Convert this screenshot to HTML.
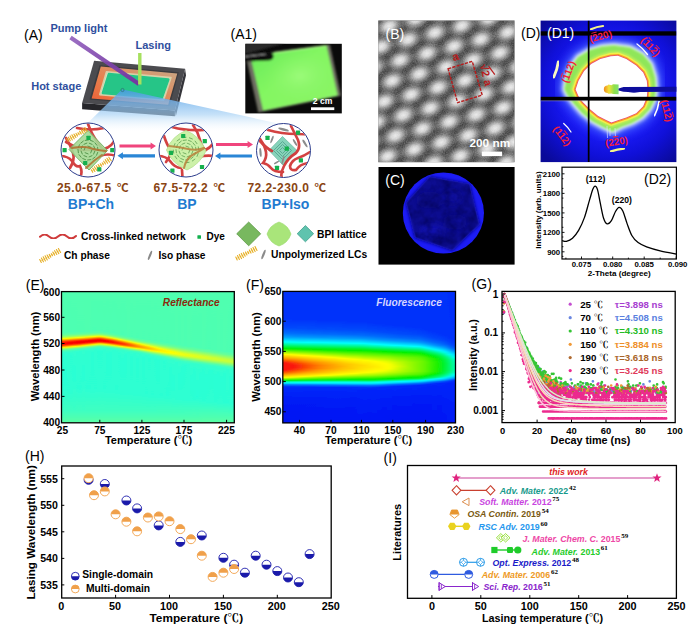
<!DOCTYPE html>
<html lang="en"><head><meta charset="utf-8"><title>Figure</title>
<style>
html,body{margin:0;padding:0;background:#fff;}
body{width:700px;height:639px;overflow:hidden;}
svg{display:block;}
svg text{font-family:"Liberation Sans", "Noto Sans CJK SC", sans-serif;white-space:pre;}
</style></head><body>
<svg width="700" height="639" viewBox="0 0 700 639">
<rect width="700" height="639" fill="#fff"/>
<defs>
<linearGradient id="cone" gradientUnits="userSpaceOnUse" x1="0" y1="90" x2="0" y2="131">
<stop offset="0" stop-color="#4a96e6" stop-opacity=".82"/><stop offset=".3" stop-color="#7cb8ee" stop-opacity=".8"/><stop offset=".6" stop-color="#a8d2f5" stop-opacity=".66"/><stop offset=".85" stop-color="#d8ecfb" stop-opacity=".3"/><stop offset="1" stop-color="#e8f4fd" stop-opacity="0"/></linearGradient>
<linearGradient id="orng" x1="0" y1="1" x2="1" y2="0"><stop offset="0" stop-color="#ee5f34"/><stop offset=".4" stop-color="#e8804e"/><stop offset=".75" stop-color="#d49a72"/><stop offset="1" stop-color="#c4a888"/></linearGradient>
<linearGradient id="pump" gradientUnits="userSpaceOnUse" x1="70" y1="37" x2="139" y2="84"><stop offset="0" stop-color="#8a55b8" stop-opacity=".85"/><stop offset="1" stop-color="#7436a0"/></linearGradient>
<clipPath id="c1"><circle cx="88" cy="150" r="26.6"/></clipPath>
<clipPath id="c2"><circle cx="186" cy="150" r="26.6"/></clipPath>
<clipPath id="c3"><circle cx="283.5" cy="150.5" r="26.6"/></clipPath>
<filter id="b05"><feGaussianBlur stdDeviation=".5"/></filter>
<filter id="b03"><feGaussianBlur stdDeviation=".35"/></filter>
</defs>
<g filter="url(#b05)">
<polygon points="82.1,103.1 174.9,110.6 174.9,116.3 82.1,109.3" fill="#26262a"/>
<polygon points="185.1,68.8 186,75.5 175.8,116.3 174.9,110.6" fill="#36363a"/>
<polygon points="94.1,60.8 185.1,68.8 174.9,110.6 82.1,103.1" fill="#4b4b50"/>
<polygon points="99.5,65.2 178.8,72.3 169.5,106 89.5,99.6" fill="#3a3a3e"/>
<polygon points="100.8,66.6 177.3,73.4 168.2,104.8 91.6,98.6" fill="url(#orng)"/>
<polygon points="106.5,71.8 171,77.6 163.6,100 99.8,94.6" fill="#cfe6c0" stroke="#d8cfa8" stroke-width="1.6" stroke-linejoin="round"/>
<polygon points="108.8,74 168.4,79.4 161.8,98 102.8,93" fill="#25c587" stroke="#25c587" stroke-width="2.4" stroke-linejoin="round"/>
</g>
<line x1="70.5" y1="37.5" x2="139" y2="84" stroke="url(#pump)" stroke-width="4.2" stroke-linecap="butt" filter="url(#b05)"/>
<rect x="138.1" y="53" width="3.4" height="31.5" fill="#a6e05e" filter="url(#b03)"/>
<polygon points="122,89.6 124,89.8 345,138 60,150" fill="url(#cone)"/>
<circle cx="122.5" cy="90" r="1.6" fill="none" stroke="#2a6a6a" stroke-width=".6"/>
<text x="24" y="39.8" font-size="14" font-weight="normal" fill="#000" text-anchor="start">(A)</text>
<text x="50.5" y="32.2" font-size="11" font-weight="bold" fill="#2f4f9e" text-anchor="start">Pump light</text>
<text x="135.5" y="49.3" font-size="11" font-weight="bold" fill="#2f4f9e" text-anchor="start">Lasing</text>
<text x="31.2" y="90" font-size="11" font-weight="bold" fill="#2f4f9e" text-anchor="start">Hot stage</text>
<circle cx="88" cy="150" r="27" fill="#fff"/>
<g clip-path="url(#c1)" filter="url(#b03)">
<g fill="none" stroke="#cf2f2f" stroke-width="2.7" stroke-linecap="round" opacity=".9">
<path d="M77,128 Q90,131 104,128"/>
<path d="M88,124 Q92,135 98,143 T104,152"/>
<path d="M66,138 Q71,146 73,153 T70,168"/>
<path d="M60,156 Q68,156 72,161 Q76,168 80,166 Q83,172 80,178"/>
<path d="M116,138 Q112,147 104,149"/>
<path d="M100,156 Q108,153 116,156"/>
<path d="M66,142 Q74,146 80,150 L100,150"/>
</g>
<polygon points="88,130.5 107.5,150.5 89,170 69,149.5" fill="#a5d993" fill-opacity=".9" stroke="#79b46a" stroke-width="1"/>
<path d="M91.9,149.9L90.7,152.9M88.1,153.9L85.1,152.7M84.1,150.1L85.3,147.1M87.9,146.1L90.9,147.3M94.8,151.2L93.6,154.1M92.0,155.7L89.1,156.9M86.8,156.8L83.9,155.6M82.3,154.0L81.1,151.1M81.2,148.8L82.4,145.9M84.0,144.3L86.9,143.1M89.2,143.2L92.1,144.4M93.7,146.0L94.9,148.9M97.7,152.4L96.5,155.3M95.2,156.9L92.7,158.9M90.8,159.6L87.6,160.0M85.6,159.7L82.7,158.5M81.1,157.2L79.1,154.7M78.4,152.8L78.0,149.6M78.3,147.6L79.5,144.7M80.8,143.1L83.3,141.1M85.2,140.4L88.4,140.0M90.4,140.3L93.3,141.5M94.9,142.8L96.9,145.3M97.6,147.2L98.0,150.4" stroke="#4f8f45" stroke-width=".9" stroke-linecap="round" fill="none"/>
<g fill="none" stroke="#b0702f" stroke-width="2" stroke-linecap="round" opacity=".85">
<path d="M72,148 Q84,146 90,148 T106,151"/>
<path d="M86,168 Q94,160 102,155"/>
</g>
<path d="M66.7,138.7L68.3,141.3M68.4,137.2L70.3,140.7M70.1,135.9L72.3,139.9M71.9,134.9L74.2,138.8M73.9,134.1L75.9,137.5M76.0,133.4L77.5,136.1M78.0,132.7L79.2,134.7M79.6,131.2L81.3,134.1M81.3,129.8L83.3,133.4M83.0,128.6L85.3,132.5M84.9,127.6L87.1,131.4" stroke="#e6ae22" stroke-width="1.1" fill="none" stroke-linecap="round"/><line x1="67.5" y1="140.0" x2="86.0" y2="129.5" stroke="#e6ae22" stroke-width=".5"/>
<path d="M91.2,169.7L92.8,172.3M92.7,168.1L94.9,171.5M94.3,166.7L96.9,170.5M96.1,165.5L98.7,169.3M98.1,164.5L100.3,167.9M100.2,163.7L101.8,166.3M102.2,162.8L103.4,164.8M103.7,161.2L105.5,164.0M105.2,159.6L107.6,163.2M106.9,158.3L109.5,162.1M108.8,157.2L111.2,160.8" stroke="#e6ae22" stroke-width="1.1" fill="none" stroke-linecap="round"/><line x1="92.0" y1="171.0" x2="110.0" y2="159.0" stroke="#e6ae22" stroke-width=".5"/>
<rect x="86.4" y="135.7" width="4.2" height="4.2" rx=".5" fill="#12b04e"/>
<rect x="62.5" y="148.1" width="4.2" height="4.2" rx=".5" fill="#12b04e"/>
<rect x="110.2" y="148.1" width="4.2" height="4.2" rx=".5" fill="#12b04e"/>
<rect x="83.1" y="160.9" width="4.2" height="4.2" rx=".5" fill="#12b04e"/>
<rect x="97.2" y="167.2" width="4.2" height="4.2" rx=".5" fill="#12b04e"/>
</g>
<circle cx="88" cy="150" r="27" fill="none" stroke="#2c3c8c" stroke-width="1"/>
<circle cx="186" cy="150" r="27" fill="#fff"/>
<g clip-path="url(#c2)" filter="url(#b03)">
<g fill="none" stroke="#cf2f2f" stroke-width="2.7" stroke-linecap="round" opacity=".9">
<path d="M172,127 Q186,131 204,130"/>
<path d="M193,125 Q198,132 200,140 T206,150"/>
<path d="M164,136 Q167,145 170,149 T166,162"/>
<path d="M158,156 Q166,156 170,161 Q175,168 181,168"/>
<path d="M214,142 Q210,149 204,150"/>
<path d="M199,157 Q206,155 214,156"/>
<path d="M182,170 L182.5,178"/>
</g>
<path d="M186,130.5 Q200,136 206,151 Q200,164 187,170 Q172,164 166.5,150 Q172,136 186,130.5Z" fill="#c9f0a3" fill-opacity=".95" stroke="#b4e08e" stroke-width=".8"/>
<path d="M189.9,149.9L188.7,152.9M186.1,153.9L183.1,152.7M182.1,150.1L183.3,147.1M185.9,146.1L188.9,147.3M192.8,151.2L191.6,154.1M190.0,155.7L187.1,156.9M184.8,156.8L181.9,155.6M180.3,154.0L179.1,151.1M179.2,148.8L180.4,145.9M182.0,144.3L184.9,143.1M187.2,143.2L190.1,144.4M191.7,146.0L192.9,148.9M195.7,152.4L194.5,155.3M193.2,156.9L190.7,158.9M188.8,159.6L185.6,160.0M183.6,159.7L180.7,158.5M179.1,157.2L177.1,154.7M176.4,152.8L176.0,149.6M176.3,147.6L177.5,144.7M178.8,143.1L181.3,141.1M183.2,140.4L186.4,140.0M188.4,140.3L191.3,141.5M192.9,142.8L194.9,145.3M195.6,147.2L196.0,150.4M198.2,153.4L197.0,156.4M194.9,159.1L192.3,161.0M189.1,162.3L186.0,162.7M182.6,162.2L179.6,161.0M176.9,158.9L175.0,156.3M173.7,153.1L173.3,150.0M173.8,146.6L175.0,143.6M177.1,140.9L179.7,139.0M182.9,137.7L186.0,137.3M189.4,137.8L192.4,139.0M195.1,141.1L197.0,143.7M198.3,146.9L198.7,150.0" stroke="#6aa85a" stroke-width=".9" stroke-linecap="round" fill="none"/>
<g fill="none" stroke="#b8803a" stroke-width="2" stroke-linecap="round" opacity=".85">
<path d="M169,146 Q180,147 188,149 T204,148"/>
<path d="M184,168 Q186,158 194,154 T204,148"/>
</g>
<rect x="181.1" y="133.9" width="4.2" height="4.2" rx=".5" fill="#12b04e"/>
<rect x="202.7" y="139.1" width="4.2" height="4.2" rx=".5" fill="#12b04e"/>
<rect x="168.9" y="150.8" width="4.2" height="4.2" rx=".5" fill="#12b04e"/>
<rect x="199.9" y="164.9" width="4.2" height="4.2" rx=".5" fill="#12b04e"/>
<rect x="170.3" y="168.6" width="4.2" height="4.2" rx=".5" fill="#12b04e"/>
</g>
<circle cx="186" cy="150" r="27" fill="none" stroke="#2c3c8c" stroke-width="1"/>
<circle cx="283.5" cy="150.5" r="27" fill="#fff"/>
<g clip-path="url(#c3)" filter="url(#b03)">
<polygon points="282.5,136.5 297.0,150.5 283.0,165.0 269.0,150.5" fill="#86d3ba" stroke="#6fbfa6" stroke-width=".8"/>
<polygon points="282.5,147.5 285.5,150.5 282.5,153.5 279.5,150.5" fill="none" stroke="#4fa08a" stroke-width=".8"/>
<polygon points="282.5,144.5 288.5,150.5 282.5,156.5 276.5,150.5" fill="none" stroke="#4fa08a" stroke-width=".8"/>
<polygon points="282.5,141.5 291.5,150.5 282.5,159.5 273.5,150.5" fill="none" stroke="#4fa08a" stroke-width=".8"/>
<g fill="none" stroke="#cf2f2f" stroke-width="2.7" stroke-linecap="round" opacity=".9">
<path d="M268,130 Q282,134 296,134 T309,136"/>
<path d="M291,126 Q295,134 298,140 Q301,148 296,153 Q288,158 284,166 T282,178"/>
<path d="M260,139 Q265,146 266,152 T263,163 Q268,164 271,168 Q274,172 283,172"/>
<path d="M260,141 Q266,148 272,151"/>
<path d="M310,152 Q304,156 298,158 Q292,160 290,166 Q290,171 296,170 Q300,164 308,163"/>
</g>
<ellipse cx="283.5" cy="129.5" rx="5.5" ry="1.2" fill="#8c8c8c" transform="rotate(15 283.5 129.5)"/>
<ellipse cx="272" cy="139.5" rx="4" ry="1" fill="#8c8c8c" transform="rotate(-70 272 139.5)"/>
<ellipse cx="260.5" cy="152.5" rx="4.5" ry="1.1" fill="#8c8c8c" transform="rotate(85 260.5 152.5)"/>
<ellipse cx="295" cy="142.5" rx="4" ry="1" fill="#8c8c8c" transform="rotate(60 295 142.5)"/>
<ellipse cx="305" cy="143.5" rx="4.5" ry="1.1" fill="#8c8c8c" transform="rotate(58 305 143.5)"/>
<ellipse cx="283" cy="160" rx="4.5" ry="0.9" fill="#8c8c8c" transform="rotate(-75 283 160)"/>
<ellipse cx="276.5" cy="162.5" rx="3" ry="0.8" fill="#8c8c8c" transform="rotate(-30 276.5 162.5)"/>
<rect x="265.4" y="135.7" width="4.2" height="4.2" rx=".5" fill="#12b04e"/>
<rect x="295.9" y="130.5" width="4.2" height="4.2" rx=".5" fill="#12b04e"/>
<rect x="284.7" y="146.5" width="4.2" height="4.2" rx=".5" fill="#12b04e"/>
<rect x="298.8" y="158.3" width="4.2" height="4.2" rx=".5" fill="#12b04e"/>
<rect x="274.9" y="165.8" width="4.2" height="4.2" rx=".5" fill="#12b04e"/>
</g>
<circle cx="283.5" cy="150.5" r="27" fill="none" stroke="#2c3c8c" stroke-width="1"/>
<g filter="url(#b03)">
<polygon points="119.5,144.4 150.6,144.4 150.6,142.5 156,146 150.6,149.5 150.6,147.6 119.5,147.6" fill="#f0457d"/>
<polygon points="155,154.20000000000002 122.9,154.20000000000002 122.9,152.3 117.5,155.8 122.9,159.3 122.9,157.4 155,157.4" fill="#2a86d6"/>
<polygon points="216,142.9 247.6,142.9 247.6,141.0 253,144.5 247.6,148.0 247.6,146.1 216,146.1" fill="#f0457d"/>
<polygon points="252,154.4 220.4,154.4 220.4,152.5 215,156 220.4,159.5 220.4,157.6 252,157.6" fill="#2a86d6"/>
</g>
<text x="92.8" y="192" font-size="12" font-weight="bold" fill="#8a4513" text-anchor="middle" letter-spacing=".45">25.0-67.5 <tspan font-family="Noto Sans CJK SC, sans-serif" font-weight="bold" font-size="11.6" dx="1.5" letter-spacing="0">℃</tspan></text>
<text x="189.3" y="192" font-size="12" font-weight="bold" fill="#8a4513" text-anchor="middle" letter-spacing=".45">67.5-72.2 <tspan font-family="Noto Sans CJK SC, sans-serif" font-weight="bold" font-size="11.6" dx="1.5" letter-spacing="0">℃</tspan></text>
<text x="286.8" y="192" font-size="12" font-weight="bold" fill="#8a4513" text-anchor="middle" letter-spacing=".45">72.2-230.0 <tspan font-family="Noto Sans CJK SC, sans-serif" font-weight="bold" font-size="11.6" dx="1.5" letter-spacing="0">℃</tspan></text>
<text x="91" y="209" font-size="14" font-weight="bold" fill="#1f7bd0" text-anchor="middle">BP+Ch</text>
<text x="186.9" y="209" font-size="14" font-weight="bold" fill="#1f7bd0" text-anchor="middle">BP</text>
<text x="285.5" y="209" font-size="14" font-weight="bold" fill="#1f7bd0" text-anchor="middle">BP+Iso</text>
<path d="M40,236.8 Q44.5,232.5 49,236.5 T58,236.5 T67,236.5 T76,236" fill="none" stroke="#cf3a3a" stroke-width="2" stroke-linecap="round" filter="url(#b03)"/>
<text x="81" y="240.2" font-size="10.3" font-weight="bold" fill="#000" text-anchor="start">Cross-linked network</text>
<rect x="197.4" y="235.2" width="3.6" height="3.6" rx=".5" fill="#12b04e"/>
<text x="206.5" y="240.2" font-size="10" font-weight="bold" fill="#000" text-anchor="start">Dye</text>
<g filter="url(#b03)">
<polygon points="248.7,222 260.7,233.8 248.7,245.8 236.7,233.8" fill="#78b85e" stroke="#5f9a48" stroke-width=".8"/>
<path d="M279,222 Q288,225 291,234 Q288,243 279,246 Q270,243 267,234 Q270,225 279,222Z" fill="#a9e57a" stroke="#9bd96c" stroke-width=".6"/>
<polygon points="305.4,225.6 313.6,233.7 305.4,241.8 297.2,233.7" fill="#5fc3ae" stroke="#3f9f8c" stroke-width=".8"/>
</g>
<text x="317" y="237.8" font-size="10.3" font-weight="bold" fill="#000" text-anchor="start">BPI lattice</text>
<path d="M39.7,259.6L41.3,262.4M41.4,258.1L43.4,261.8M43.2,256.8L45.4,261.0M45.1,255.8L47.3,259.9M47.1,255.0L49.1,258.6M49.2,254.4L50.8,257.1M51.3,253.7L52.5,255.7M52.9,252.1L54.7,255.2M54.6,250.7L56.8,254.5M56.4,249.5L58.8,253.6M58.4,248.5L60.6,252.5" stroke="#e6ae22" stroke-width="1.1" fill="none" stroke-linecap="round"/><line x1="40.5" y1="261.0" x2="59.5" y2="250.5" stroke="#e6ae22" stroke-width=".5"/>
<text x="64" y="259" font-size="10.2" font-weight="bold" fill="#000" text-anchor="start">Ch phase</text>
<ellipse cx="150" cy="255.3" rx="5" ry="1.1" fill="#8a8a8a" transform="rotate(-68 150 255.3)"/>
<text x="158.5" y="259" font-size="10.2" font-weight="bold" fill="#000" text-anchor="start">Iso phase</text>
<path d="M235.8,257.1L237.2,259.9M237.5,255.6L239.4,259.4M239.3,254.4L241.5,258.6M241.3,253.4L243.4,257.6M243.4,252.7L245.2,256.3M245.5,252.1L247.0,254.9M247.7,251.4L248.7,253.6M249.3,249.9L251.0,253.1M251.1,248.5L253.1,252.5M253.0,247.4L255.1,251.6M255.0,246.5L257.0,250.5" stroke="#e6ae22" stroke-width="1.1" fill="none" stroke-linecap="round"/><line x1="236.5" y1="258.5" x2="256.0" y2="248.5" stroke="#e6ae22" stroke-width=".5"/>
<ellipse cx="263.5" cy="254.5" rx="5" ry="1.1" fill="#8a8a8a" transform="rotate(-68 263.5 254.5)"/>
<text x="271" y="258.3" font-size="10.3" font-weight="bold" fill="#000" text-anchor="start">Unpolymerized LCs</text>
<text x="230.5" y="38.6" font-size="14" font-weight="normal" fill="#000" text-anchor="start">(A1)</text>
<defs><clipPath id="a1c"><rect x="245.3" y="43.8" width="96.5" height="69.6"/></clipPath>
<linearGradient id="a1g" x1="0" y1="0" x2="1" y2="1"><stop offset="0" stop-color="#66ea58"/><stop offset=".45" stop-color="#84f662"/><stop offset="1" stop-color="#8cf466"/></linearGradient>
<radialGradient id="a1h"><stop offset="0" stop-color="#a4fd82" stop-opacity=".7"/><stop offset=".6" stop-color="#92f872" stop-opacity=".3"/><stop offset="1" stop-color="#88f468" stop-opacity="0"/></radialGradient>
<filter id="b08"><feGaussianBlur stdDeviation=".8"/></filter></defs>
<rect x="245.3" y="43.8" width="96.5" height="69.6" fill="#0a0a0a"/>
<g clip-path="url(#a1c)"><g filter="url(#b08)">
<polygon points="245,43 286,43 245,54" fill="#2b2b2b"/>
<polygon points="247,61.5 274.3,51.8 329.8,44.4 341,95.8 258.3,112.6" fill="#6e6e62"/>
<polygon points="251.6,61.2 274.3,52.6 326.4,45.6 337.6,95.6 263.2,110.6" fill="url(#a1g)"/>
<ellipse cx="300" cy="76" rx="36" ry="26" fill="url(#a1h)" transform="rotate(-10 300 76)"/>
<path d="M274.3,52.8 L326.4,45.8" stroke="#b2f58e" stroke-width="1.6" opacity=".8"/>
<path d="M245,53.2 L269.5,52.2 Q273.8,53.2 273.6,56.6 Q273,60.4 268,60.6 L245,61.4Z" fill="#0a0a0a"/>
<path d="M245,56.6 L266,54.0" stroke="#b8b8b8" stroke-width=".9"/>
</g></g>
<rect x="311" y="107.3" width="23.3" height="2.8" fill="#fff"/>
<text x="322.6" y="104" font-size="8.6" font-weight="bold" fill="#fff" text-anchor="middle">2 cm</text>
<defs><clipPath id="bc"><rect x="378.3" y="20.5" width="136.2" height="141.7"/></clipPath>
<radialGradient id="blob"><stop offset="0" stop-color="#fff" stop-opacity=".9"/><stop offset=".25" stop-color="#fff" stop-opacity=".78"/><stop offset=".5" stop-color="#fff" stop-opacity=".45"/><stop offset=".75" stop-color="#fff" stop-opacity=".15"/><stop offset="1" stop-color="#fff" stop-opacity="0"/></radialGradient>
<filter id="grain" x="0" y="0" width="100%" height="100%" color-interpolation-filters="sRGB"><feTurbulence type="fractalNoise" baseFrequency=".9" numOctaves="2" seed="3" result="n"/><feColorMatrix in="n" type="matrix" values="0 0 0 0 0.5  0 0 0 0 0.5  0 0 0 0 0.5  1.1 0 0 0 -.28"/></filter>
</defs>
<rect x="378.3" y="20.5" width="136.2" height="141.7" fill="#2b2b2b"/>
<g clip-path="url(#bc)">
<ellipse cx="368.5" cy="142.7" rx="18" ry="12.5" fill="url(#blob)" transform="rotate(-24 368.5 142.7)"/>
<ellipse cx="387.5" cy="156.3" rx="18" ry="12.5" fill="url(#blob)" transform="rotate(-24 387.5 156.3)"/>
<ellipse cx="406.5" cy="169.9" rx="18" ry="12.5" fill="url(#blob)" transform="rotate(-24 406.5 169.9)"/>
<ellipse cx="376.4" cy="122.1" rx="18" ry="12.5" fill="url(#blob)" transform="rotate(-24 376.4 122.1)"/>
<ellipse cx="395.4" cy="135.7" rx="18" ry="12.5" fill="url(#blob)" transform="rotate(-24 395.4 135.7)"/>
<ellipse cx="414.4" cy="149.3" rx="18" ry="12.5" fill="url(#blob)" transform="rotate(-24 414.4 149.3)"/>
<ellipse cx="433.4" cy="162.9" rx="18" ry="12.5" fill="url(#blob)" transform="rotate(-24 433.4 162.9)"/>
<ellipse cx="384.3" cy="101.5" rx="18" ry="12.5" fill="url(#blob)" transform="rotate(-24 384.3 101.5)"/>
<ellipse cx="403.3" cy="115.1" rx="18" ry="12.5" fill="url(#blob)" transform="rotate(-24 403.3 115.1)"/>
<ellipse cx="422.3" cy="128.7" rx="18" ry="12.5" fill="url(#blob)" transform="rotate(-24 422.3 128.7)"/>
<ellipse cx="441.3" cy="142.3" rx="18" ry="12.5" fill="url(#blob)" transform="rotate(-24 441.3 142.3)"/>
<ellipse cx="460.3" cy="155.9" rx="18" ry="12.5" fill="url(#blob)" transform="rotate(-24 460.3 155.9)"/>
<ellipse cx="479.3" cy="169.5" rx="18" ry="12.5" fill="url(#blob)" transform="rotate(-24 479.3 169.5)"/>
<ellipse cx="373.2" cy="67.3" rx="18" ry="12.5" fill="url(#blob)" transform="rotate(-24 373.2 67.3)"/>
<ellipse cx="392.2" cy="80.9" rx="18" ry="12.5" fill="url(#blob)" transform="rotate(-24 392.2 80.9)"/>
<ellipse cx="411.2" cy="94.5" rx="18" ry="12.5" fill="url(#blob)" transform="rotate(-24 411.2 94.5)"/>
<ellipse cx="430.2" cy="108.1" rx="18" ry="12.5" fill="url(#blob)" transform="rotate(-24 430.2 108.1)"/>
<ellipse cx="449.2" cy="121.7" rx="18" ry="12.5" fill="url(#blob)" transform="rotate(-24 449.2 121.7)"/>
<ellipse cx="468.2" cy="135.3" rx="18" ry="12.5" fill="url(#blob)" transform="rotate(-24 468.2 135.3)"/>
<ellipse cx="487.2" cy="148.9" rx="18" ry="12.5" fill="url(#blob)" transform="rotate(-24 487.2 148.9)"/>
<ellipse cx="506.2" cy="162.5" rx="18" ry="12.5" fill="url(#blob)" transform="rotate(-24 506.2 162.5)"/>
<ellipse cx="381.1" cy="46.7" rx="18" ry="12.5" fill="url(#blob)" transform="rotate(-24 381.1 46.7)"/>
<ellipse cx="400.1" cy="60.3" rx="18" ry="12.5" fill="url(#blob)" transform="rotate(-24 400.1 60.3)"/>
<ellipse cx="419.1" cy="73.9" rx="18" ry="12.5" fill="url(#blob)" transform="rotate(-24 419.1 73.9)"/>
<ellipse cx="438.1" cy="87.5" rx="18" ry="12.5" fill="url(#blob)" transform="rotate(-24 438.1 87.5)"/>
<ellipse cx="457.1" cy="101.1" rx="18" ry="12.5" fill="url(#blob)" transform="rotate(-24 457.1 101.1)"/>
<ellipse cx="476.1" cy="114.7" rx="18" ry="12.5" fill="url(#blob)" transform="rotate(-24 476.1 114.7)"/>
<ellipse cx="495.1" cy="128.3" rx="18" ry="12.5" fill="url(#blob)" transform="rotate(-24 495.1 128.3)"/>
<ellipse cx="514.1" cy="141.9" rx="18" ry="12.5" fill="url(#blob)" transform="rotate(-24 514.1 141.9)"/>
<ellipse cx="370.0" cy="12.5" rx="18" ry="12.5" fill="url(#blob)" transform="rotate(-24 370.0 12.5)"/>
<ellipse cx="389.0" cy="26.1" rx="18" ry="12.5" fill="url(#blob)" transform="rotate(-24 389.0 26.1)"/>
<ellipse cx="408.0" cy="39.7" rx="18" ry="12.5" fill="url(#blob)" transform="rotate(-24 408.0 39.7)"/>
<ellipse cx="427.0" cy="53.3" rx="18" ry="12.5" fill="url(#blob)" transform="rotate(-24 427.0 53.3)"/>
<ellipse cx="446.0" cy="66.9" rx="18" ry="12.5" fill="url(#blob)" transform="rotate(-24 446.0 66.9)"/>
<ellipse cx="465.0" cy="80.5" rx="18" ry="12.5" fill="url(#blob)" transform="rotate(-24 465.0 80.5)"/>
<ellipse cx="484.0" cy="94.1" rx="18" ry="12.5" fill="url(#blob)" transform="rotate(-24 484.0 94.1)"/>
<ellipse cx="503.0" cy="107.7" rx="18" ry="12.5" fill="url(#blob)" transform="rotate(-24 503.0 107.7)"/>
<ellipse cx="522.0" cy="121.3" rx="18" ry="12.5" fill="url(#blob)" transform="rotate(-24 522.0 121.3)"/>
<ellipse cx="415.9" cy="19.1" rx="18" ry="12.5" fill="url(#blob)" transform="rotate(-24 415.9 19.1)"/>
<ellipse cx="434.9" cy="32.7" rx="18" ry="12.5" fill="url(#blob)" transform="rotate(-24 434.9 32.7)"/>
<ellipse cx="453.9" cy="46.3" rx="18" ry="12.5" fill="url(#blob)" transform="rotate(-24 453.9 46.3)"/>
<ellipse cx="472.9" cy="59.9" rx="18" ry="12.5" fill="url(#blob)" transform="rotate(-24 472.9 59.9)"/>
<ellipse cx="491.9" cy="73.5" rx="18" ry="12.5" fill="url(#blob)" transform="rotate(-24 491.9 73.5)"/>
<ellipse cx="510.9" cy="87.1" rx="18" ry="12.5" fill="url(#blob)" transform="rotate(-24 510.9 87.1)"/>
<ellipse cx="442.8" cy="12.1" rx="18" ry="12.5" fill="url(#blob)" transform="rotate(-24 442.8 12.1)"/>
<ellipse cx="461.8" cy="25.7" rx="18" ry="12.5" fill="url(#blob)" transform="rotate(-24 461.8 25.7)"/>
<ellipse cx="480.8" cy="39.3" rx="18" ry="12.5" fill="url(#blob)" transform="rotate(-24 480.8 39.3)"/>
<ellipse cx="499.8" cy="52.9" rx="18" ry="12.5" fill="url(#blob)" transform="rotate(-24 499.8 52.9)"/>
<ellipse cx="518.8" cy="66.5" rx="18" ry="12.5" fill="url(#blob)" transform="rotate(-24 518.8 66.5)"/>
<ellipse cx="488.7" cy="18.7" rx="18" ry="12.5" fill="url(#blob)" transform="rotate(-24 488.7 18.7)"/>
<ellipse cx="507.7" cy="32.3" rx="18" ry="12.5" fill="url(#blob)" transform="rotate(-24 507.7 32.3)"/>
<ellipse cx="515.6" cy="11.7" rx="18" ry="12.5" fill="url(#blob)" transform="rotate(-24 515.6 11.7)"/>
<rect x="378.3" y="20.5" width="136.2" height="141.7" filter="url(#grain)" opacity=".75" style="mix-blend-mode:overlay"/>
</g>
<polygon points="448.1,68.8 472.2,61.3 482.2,95.1 457.6,102.6" fill="none" stroke="#b81c1c" stroke-width="1.4" stroke-dasharray="3.2 1.2"/>
<text x="456.6" y="60.4" font-size="11.5" font-weight="bold" fill="#b81c1c" text-anchor="middle" transform="rotate(-17 456.6 60.4)">a</text>
<text x="479.7" y="65.2" font-size="11" font-weight="bold" fill="#b81c1c" text-anchor="start" transform="rotate(76 479.7 65.2)">√<tspan dx=".5">2</tspan><tspan dx="3.4">a</tspan></text>
<line x1="488.6" y1="66.2" x2="494.8" y2="74.6" stroke="#b81c1c" stroke-width="1.2"/>
<text x="385.5" y="38.6" font-size="14" font-weight="normal" fill="#fff" text-anchor="start">(B)</text>
<text x="489.8" y="147.2" font-size="11.8" font-weight="bold" fill="#fff" text-anchor="middle">200 nm</text>
<rect x="481.9" y="151.6" width="20.2" height="4.5" fill="#fff"/>
<defs><radialGradient id="cg" cx="443.4" cy="213" r="40.4" gradientUnits="userSpaceOnUse"><stop offset="0" stop-color="#1212c8"/><stop offset=".75" stop-color="#1414d8"/><stop offset=".94" stop-color="#2020ff"/><stop offset=".985" stop-color="#1c1cf0"/><stop offset="1" stop-color="#1010a0" stop-opacity="0"/></radialGradient>
<clipPath id="ccl"><circle cx="443.4" cy="213" r="40"/></clipPath><clipPath id="chx"><polygon points="430,177.5 469,184.5 478.5,224 452,249.5 416,237 407,203"/></clipPath>
<filter id="ctex" x="0" y="0" width="100%" height="100%" color-interpolation-filters="sRGB"><feTurbulence type="fractalNoise" baseFrequency=".09" numOctaves="3" seed="11"/><feColorMatrix type="matrix" values="0 0 0 0 1  0 0 0 0 1  0 0 0 0 1  0 0 0 0 1"/></filter><filter id="ctex2" x="0" y="0" width="100%" height="100%" color-interpolation-filters="sRGB"><feTurbulence type="fractalNoise" baseFrequency=".09" numOctaves="3" seed="11"/><feColorMatrix type="matrix" values="0 0 0 0 0  0 0 0 0 0  0 0 0 0 .3  1.5 0 0 0 -.5"/></filter>
<filter id="b15"><feGaussianBlur stdDeviation="1.6"/></filter><filter id="b3"><feGaussianBlur stdDeviation="3"/></filter></defs>
<rect x="378.5" y="167" width="136.1" height="97.6" fill="#000"/>
<circle cx="443.4" cy="213" r="40.6" fill="#1b1bf5" filter="url(#b05)"/>
<g clip-path="url(#ccl)">
<polygon points="429.5,176 470,183.5 480,224.5 452.5,251 414.5,238 405.5,202.5" fill="#0a0a90" filter="url(#b15)"/>
<g filter="url(#b3)" opacity=".55"><ellipse cx="430" cy="200" rx="14" ry="9" fill="#08088a"/><ellipse cx="455" cy="222" rx="12" ry="8" fill="#09099a"/><ellipse cx="432" cy="232" rx="12" ry="7" fill="#1616d0"/><ellipse cx="452" cy="197" rx="9" ry="7" fill="#1515c8"/></g>
<g clip-path="url(#chx)"><rect x="400" y="170" width="88" height="88" filter="url(#ctex2)" opacity=".8"/></g>
</g>
<text x="385.3" y="185.2" font-size="14" font-weight="normal" fill="#fff" text-anchor="start">(C)</text>
<defs><clipPath id="dc"><rect x="540.6" y="20.6" width="135.8" height="141.5"/></clipPath>
<radialGradient id="dbg" cx="612" cy="89" r="95" gradientUnits="userSpaceOnUse"><stop offset="0" stop-color="#2a2aff"/><stop offset=".5" stop-color="#1a1af6"/><stop offset=".72" stop-color="#1010d8"/><stop offset="1" stop-color="#0a0a98"/></radialGradient>
<filter id="b1"><feGaussianBlur stdDeviation="1"/></filter><filter id="b2"><feGaussianBlur stdDeviation="2.2"/></filter><filter id="b4"><feGaussianBlur stdDeviation="5"/></filter>
<linearGradient id="bsg" x1="0" x2="1"><stop offset="0" stop-color="#f08a1e"/><stop offset=".35" stop-color="#f2e23a"/><stop offset=".7" stop-color="#8ee04a"/><stop offset="1" stop-color="#7fe070"/></linearGradient></defs>
<rect x="540.6" y="20.6" width="135.8" height="141.5" fill="url(#dbg)"/>
<g clip-path="url(#dc)">
<polygon points="614,45.5 630,47.5 643,54.5 651,64 655,77 655.8,89 654.5,100 650,109 642.5,117 632,123 621,127 612.5,131.5 603,127 592,121 582,113 574,104 568,96 564.5,89.5 566,79 570.5,67.5 578,57 590,50 602,46.5" fill="#4a6aff" stroke="#4a6aff" stroke-width="14" stroke-linejoin="round" filter="url(#b4)" opacity=".8"/>
<polygon points="614,45.5 630,47.5 643,54.5 651,64 655,77 655.8,89 654.5,100 650,109 642.5,117 632,123 621,127 612.5,131.5 603,127 592,121 582,113 574,104 568,96 564.5,89.5 566,79 570.5,67.5 578,57 590,50 602,46.5" fill="#e8f4ff" stroke="#e8f4ff" stroke-width="5" stroke-linejoin="round" filter="url(#b2)"/>
<polygon points="614,45.5 630,47.5 643,54.5 651,64 655,77 655.8,89 654.5,100 650,109 642.5,117 632,123 621,127 612.5,131.5 603,127 592,121 582,113 574,104 568,96 564.5,89.5 566,79 570.5,67.5 578,57 590,50 602,46.5" fill="#8fe65a" stroke="#a8ee80" stroke-width="1" filter="url(#b1)"/>
<polygon points="575.6,89.6 578.5,80.8 584.1,71 591.1,63.9 600.3,59 610.8,56.2 617.9,55.8 626.3,59 636.2,65.4 643.2,72.4 646.8,80.8 647.5,89.3 646.8,97.5 643.2,106.2 636.2,113.2 626.3,117.5 617.9,120.3 611.4,122.6 606.6,120.3 598.2,116.1 589.7,109 582.7,102 578.5,96.3" fill="#c4f05a" stroke="#c4f05a" stroke-width="9.5" stroke-linejoin="round" filter="url(#b1)" opacity=".9"/>
<g filter="url(#b05)">
<polygon points="575.6,89.6 578.5,80.8 584.1,71 591.1,63.9 600.3,59 610.8,56.2 617.9,55.8 626.3,59 636.2,65.4 643.2,72.4 646.8,80.8 647.5,89.3 646.8,97.5 643.2,106.2 636.2,113.2 626.3,117.5 617.9,120.3 611.4,122.6 606.6,120.3 598.2,116.1 589.7,109 582.7,102 578.5,96.3" fill="#f4ee4a" stroke="#f4ee4a" stroke-width="6.4" stroke-linejoin="round"/>
<polygon points="575.6,89.6 578.5,80.8 584.1,71 591.1,63.9 600.3,59 610.8,56.2 617.9,55.8 626.3,59 636.2,65.4 643.2,72.4 646.8,80.8 647.5,89.3 646.8,97.5 643.2,106.2 636.2,113.2 626.3,117.5 617.9,120.3 611.4,122.6 606.6,120.3 598.2,116.1 589.7,109 582.7,102 578.5,96.3" fill="#f7a028" stroke="#f7a028" stroke-width="3.6" stroke-linejoin="round"/>
<polygon points="575.6,89.6 578.5,80.8 584.1,71 591.1,63.9 600.3,59 610.8,56.2 617.9,55.8 626.3,59 636.2,65.4 643.2,72.4 646.8,80.8 647.5,89.3 646.8,97.5 643.2,106.2 636.2,113.2 626.3,117.5 617.9,120.3 611.4,122.6 606.6,120.3 598.2,116.1 589.7,109 582.7,102 578.5,96.3" fill="#e8407a" stroke="#e8407a" stroke-width="1.2" stroke-linejoin="round"/>
<polygon points="575.6,89.6 578.5,80.8 584.1,71 591.1,63.9 600.3,59 610.8,56.2 617.9,55.8 626.3,59 636.2,65.4 643.2,72.4 646.8,80.8 647.5,89.3 646.8,97.5 643.2,106.2 636.2,113.2 626.3,117.5 617.9,120.3 611.4,122.6 606.6,120.3 598.2,116.1 589.7,109 582.7,102 578.5,96.3" fill="#fff"/>
</g>
<path d="M607,126 L607.5,138 M610,128 L610,136 M615,128 L615.5,137" stroke="#dfe8ff" stroke-width="1" opacity=".6" filter="url(#b05)"/>
<line x1="546" y1="90" x2="577" y2="90" stroke="#e8ecff" stroke-width=".9" opacity=".8" filter="url(#b05)"/>
<path d="M603.8,89.2 Q604,85.6 607.5,85.6 L608.5,84.6 L611.5,85.2 L613,84.2 L618.6,84.4 L618.6,94.2 L613,94 L611.5,93.4 L608.5,93.8 L607.5,93 Q604,93 603.8,89.2Z" fill="url(#bsg)" filter="url(#b03)"/>
<path d="M618.6,88.4 L623.5,87 L677,86.8 L677,91.8 L640,92 L634,92.8 L628,92 L623.5,91.8 L618.6,90.4Z" fill="#0c0c9c" filter="url(#b03)"/>
<path d="M591,29.2 Q596.7,26.6 603,26" stroke="#f4f48a" stroke-width="2.2" stroke-linecap="round" fill="none" filter="url(#b03)"/>
<path d="M637,44 Q643.1,48.4 647.5,54.5" stroke="#fff" stroke-width="1.3" stroke-linecap="round" fill="none" filter="url(#b03)"/>
<path d="M558.3,62 Q557.2,69.9 553.8,77" stroke="#f8f8c0" stroke-width="2.8" stroke-linecap="round" fill="none" filter="url(#b03)"/>
<path d="M659,101.6 Q657.9,109.0 654.5,115.7" stroke="#fff" stroke-width="1.6" stroke-linecap="round" fill="none" filter="url(#b03)"/>
<path d="M563.7,123.5 Q568.0,127.2 571,132" stroke="#fff" stroke-width="1.2" stroke-linecap="round" fill="none" filter="url(#b03)"/>
<path d="M611,151.4 Q617.3,149.0 624,148.6" stroke="#f4f48a" stroke-width="2.2" stroke-linecap="round" fill="none" filter="url(#b03)"/>
<rect x="540.6" y="31.3" width="135.8" height="4.3" fill="#000"/>
<rect x="540.6" y="96.8" width="135.8" height="3.8" fill="#000"/>
<rect x="540.6" y="100.6" width="48" height=".6" fill="#aab" opacity=".8"/>
<rect x="587.8" y="20.6" width="1.7" height="141.5" fill="#000"/>
</g>
<text x="601.5" y="39.5" font-size="9.8" font-weight="bold" fill="#f4203c" text-anchor="middle" transform="rotate(-15 601.5 39.5)">(<tspan text-decoration="overline">2</tspan>20)</text>
<text x="648" y="49" font-size="9.8" font-weight="bold" fill="#f4203c" text-anchor="middle" transform="rotate(47 648 49)">(<tspan text-decoration="overline">1</tspan>1<tspan text-decoration="overline">2</tspan>)</text>
<text x="571.5" y="73" font-size="9.8" font-weight="bold" fill="#f4203c" text-anchor="middle" transform="rotate(-70 571.5 73)">(<tspan text-decoration="overline">1</tspan>12)</text>
<text x="663.5" y="111.5" font-size="9.8" font-weight="bold" fill="#f4203c" text-anchor="middle" transform="rotate(76 663.5 111.5)">(11<tspan text-decoration="overline">2</tspan>)</text>
<text x="559.5" y="138" font-size="9.8" font-weight="bold" fill="#f4203c" text-anchor="middle" transform="rotate(52 559.5 138)">(1<tspan text-decoration="overline">1</tspan>2)</text>
<text x="617" y="145" font-size="9.8" font-weight="bold" fill="#f4203c" text-anchor="middle" transform="rotate(-9 617 145)">(2<tspan text-decoration="overline">2</tspan>0)</text>
<text x="521" y="37.6" font-size="14" font-weight="normal" fill="#000" text-anchor="start">(D)</text>
<text x="547" y="37.6" font-size="14" font-weight="normal" fill="#fff" text-anchor="start">(D1)</text>
<rect x="562" y="167.2" width="114.4" height="91.8" fill="#fff" stroke="#000" stroke-width="1.2"/>
<path d="M562.1,240.6C562.8,240.7 564.7,241.7 566.4,241.3C568.1,240.9 570.5,240.0 572.5,238.2C574.5,236.4 576.6,233.9 578.6,230.4C580.6,226.9 582.8,222.2 584.6,217.1C586.4,212.0 588.1,204.7 589.5,200.1C590.9,195.5 591.8,191.9 592.7,189.6C593.6,187.3 594.3,186.2 595.1,186.2C595.9,186.2 596.6,186.7 597.5,189.6C598.4,192.5 599.4,198.9 600.4,203.7C601.4,208.5 602.5,214.9 603.6,218.3C604.7,221.7 605.9,223.5 607.2,223.9C608.5,224.3 610.0,222.8 611.4,220.7C612.8,218.6 614.2,213.7 615.5,211.5C616.8,209.3 617.9,207.5 619.1,207.4C620.3,207.3 621.5,208.3 622.8,211.0C624.1,213.7 625.6,219.5 627.1,223.6C628.6,227.7 630.2,232.6 632.0,235.8C633.8,239.0 635.7,240.8 638.1,242.6C640.5,244.4 642.8,245.5 646.6,246.9C650.4,248.3 656.1,249.9 661.1,251.1C666.1,252.3 673.9,253.5 676.4,254.0" fill="none" stroke="#000" stroke-width="1.3"/>
<text x="560.2" y="176.60000000000002" font-size="7.8" font-weight="bold" fill="#000" text-anchor="end">2100</text>
<text x="560.2" y="196.20000000000002" font-size="7.8" font-weight="bold" fill="#000" text-anchor="end">1800</text>
<text x="560.2" y="215.70000000000002" font-size="7.8" font-weight="bold" fill="#000" text-anchor="end">1500</text>
<text x="560.2" y="235.20000000000002" font-size="7.8" font-weight="bold" fill="#000" text-anchor="end">1200</text>
<text x="560.2" y="254.60000000000002" font-size="7.8" font-weight="bold" fill="#000" text-anchor="end">900</text>
<text x="581.5" y="267.1" font-size="7.8" font-weight="bold" fill="#000" text-anchor="middle">0.075</text>
<text x="612.7" y="267.1" font-size="7.8" font-weight="bold" fill="#000" text-anchor="middle">0.080</text>
<text x="644.2" y="267.1" font-size="7.8" font-weight="bold" fill="#000" text-anchor="middle">0.085</text>
<text x="677.7" y="267.1" font-size="7.8" font-weight="bold" fill="#000" text-anchor="middle">0.090</text>
<path d="M562,173.8h2.5M562,193.4h2.5M562,212.9h2.5M562,232.4h2.5M562,251.8h2.5M562,178.7h1.4M562,188.4h1.4M562,198.1h1.4M562,207.8h1.4M562,217.5h1.4M562,227.3h1.4M562,237.0h1.4M562,246.7h1.4M562,256.4h1.4M581.5,259v-2.5M612.7,259v-2.5M644.2,259v-2.5M676.2,259v-2.5M565.9,259v-1.4M597.1,259v-1.4M628.4,259v-1.4M660.2,259v-1.4" stroke="#000" stroke-width=".9" fill="none"/>
<text x="619.2" y="276.2" font-size="8.1" font-weight="bold" fill="#000" text-anchor="middle">2-Theta (degree)</text>
<text x="540.8" y="210" font-size="8.1" font-weight="bold" fill="#000" text-anchor="middle" transform="rotate(-90 540.8 210)">Intensity (arb. units)</text>
<text x="595.5" y="182.4" font-size="8.6" font-weight="bold" fill="#000" text-anchor="middle">(112)</text>
<text x="621.8" y="203.3" font-size="8.6" font-weight="bold" fill="#000" text-anchor="middle">(220)</text>
<text x="644" y="184.4" font-size="14" font-weight="normal" fill="#000" text-anchor="start">(D2)</text>
<defs><linearGradient id="eg0" x1="0" y1="0" x2="0" y2="1"><stop offset="0.000" stop-color="#4fffb0"/><stop offset="0.312" stop-color="#4effb1"/><stop offset="0.328" stop-color="#5effa1"/><stop offset="0.335" stop-color="#70ff8f"/><stop offset="0.343" stop-color="#8dff72"/><stop offset="0.351" stop-color="#b7ff48"/><stop offset="0.358" stop-color="#f0ff0f"/><stop offset="0.366" stop-color="#ffca00"/><stop offset="0.381" stop-color="#ff4000"/><stop offset="0.389" stop-color="#ff1000"/><stop offset="0.396" stop-color="#fa0000"/><stop offset="0.404" stop-color="#ff0b00"/><stop offset="0.412" stop-color="#ff4400"/><stop offset="0.427" stop-color="#fff200"/><stop offset="0.434" stop-color="#bbff44"/><stop offset="0.442" stop-color="#7cff83"/><stop offset="0.450" stop-color="#55ffaa"/><stop offset="0.457" stop-color="#3fffc0"/><stop offset="0.480" stop-color="#2cffd3"/><stop offset="0.762" stop-color="#2dffd2"/><stop offset="0.915" stop-color="#3fffc0"/><stop offset="0.998" stop-color="#5bffa4"/></linearGradient><linearGradient id="eg1" x1="0" y1="0" x2="0" y2="1"><stop offset="0.000" stop-color="#4fffb0"/><stop offset="0.312" stop-color="#4effb1"/><stop offset="0.328" stop-color="#5effa1"/><stop offset="0.335" stop-color="#70ff8f"/><stop offset="0.343" stop-color="#8dff72"/><stop offset="0.351" stop-color="#b7ff48"/><stop offset="0.358" stop-color="#f0ff0f"/><stop offset="0.366" stop-color="#ffca00"/><stop offset="0.381" stop-color="#ff4000"/><stop offset="0.389" stop-color="#ff1000"/><stop offset="0.396" stop-color="#fa0000"/><stop offset="0.404" stop-color="#ff0b00"/><stop offset="0.412" stop-color="#ff4400"/><stop offset="0.427" stop-color="#fff200"/><stop offset="0.434" stop-color="#bbff44"/><stop offset="0.442" stop-color="#7cff83"/><stop offset="0.450" stop-color="#55ffaa"/><stop offset="0.457" stop-color="#3fffc0"/><stop offset="0.480" stop-color="#2cffd3"/><stop offset="0.762" stop-color="#2dffd2"/><stop offset="0.915" stop-color="#3fffc0"/><stop offset="0.998" stop-color="#5bffa4"/></linearGradient><linearGradient id="eg2" x1="0" y1="0" x2="0" y2="1"><stop offset="0.000" stop-color="#4fffb0"/><stop offset="0.312" stop-color="#4fffb0"/><stop offset="0.328" stop-color="#5fffa0"/><stop offset="0.335" stop-color="#71ff8e"/><stop offset="0.343" stop-color="#8fff70"/><stop offset="0.351" stop-color="#bbff44"/><stop offset="0.358" stop-color="#f4ff0b"/><stop offset="0.366" stop-color="#ffc500"/><stop offset="0.381" stop-color="#ff3b00"/><stop offset="0.389" stop-color="#ff0d00"/><stop offset="0.396" stop-color="#f90000"/><stop offset="0.404" stop-color="#ff0e00"/><stop offset="0.412" stop-color="#ff4a00"/><stop offset="0.427" stop-color="#fffa00"/><stop offset="0.434" stop-color="#b4ff4b"/><stop offset="0.442" stop-color="#77ff88"/><stop offset="0.450" stop-color="#52ffad"/><stop offset="0.457" stop-color="#3dffc2"/><stop offset="0.480" stop-color="#2cffd3"/><stop offset="0.762" stop-color="#2dffd2"/><stop offset="0.915" stop-color="#3fffc0"/><stop offset="0.998" stop-color="#5bffa4"/></linearGradient><linearGradient id="eg3" x1="0" y1="0" x2="0" y2="1"><stop offset="0.000" stop-color="#4fffb0"/><stop offset="0.312" stop-color="#4fffb0"/><stop offset="0.328" stop-color="#61ff9e"/><stop offset="0.335" stop-color="#76ff89"/><stop offset="0.343" stop-color="#96ff69"/><stop offset="0.351" stop-color="#c5ff3a"/><stop offset="0.358" stop-color="#fffd00"/><stop offset="0.373" stop-color="#ff6d00"/><stop offset="0.381" stop-color="#ff2e00"/><stop offset="0.389" stop-color="#ff0400"/><stop offset="0.396" stop-color="#f80000"/><stop offset="0.404" stop-color="#ff1800"/><stop offset="0.412" stop-color="#ff5d00"/><stop offset="0.419" stop-color="#ffb700"/><stop offset="0.427" stop-color="#edff12"/><stop offset="0.434" stop-color="#a1ff5e"/><stop offset="0.442" stop-color="#6aff95"/><stop offset="0.450" stop-color="#4affb5"/><stop offset="0.465" stop-color="#31ffce"/><stop offset="0.671" stop-color="#28ffd7"/><stop offset="0.907" stop-color="#3dffc2"/><stop offset="0.998" stop-color="#5bffa4"/></linearGradient><linearGradient id="eg4" x1="0" y1="0" x2="0" y2="1"><stop offset="0.000" stop-color="#4fffb0"/><stop offset="0.305" stop-color="#4cffb3"/><stop offset="0.328" stop-color="#64ff9b"/><stop offset="0.335" stop-color="#7aff85"/><stop offset="0.343" stop-color="#9eff61"/><stop offset="0.351" stop-color="#d0ff2f"/><stop offset="0.358" stop-color="#ffee00"/><stop offset="0.373" stop-color="#ff5d00"/><stop offset="0.381" stop-color="#ff2100"/><stop offset="0.389" stop-color="#fc0000"/><stop offset="0.396" stop-color="#fa0000"/><stop offset="0.404" stop-color="#ff2500"/><stop offset="0.412" stop-color="#ff7200"/><stop offset="0.419" stop-color="#ffcf00"/><stop offset="0.427" stop-color="#d6ff29"/><stop offset="0.434" stop-color="#8fff70"/><stop offset="0.442" stop-color="#5effa1"/><stop offset="0.450" stop-color="#44ffbb"/><stop offset="0.465" stop-color="#2fffd0"/><stop offset="0.747" stop-color="#2cffd3"/><stop offset="0.915" stop-color="#3fffc0"/><stop offset="0.998" stop-color="#5bffa4"/></linearGradient><linearGradient id="eg5" x1="0" y1="0" x2="0" y2="1"><stop offset="0.000" stop-color="#4fffb0"/><stop offset="0.305" stop-color="#4dffb2"/><stop offset="0.320" stop-color="#58ffa7"/><stop offset="0.335" stop-color="#80ff7f"/><stop offset="0.343" stop-color="#a6ff59"/><stop offset="0.351" stop-color="#dbff24"/><stop offset="0.358" stop-color="#ffe000"/><stop offset="0.373" stop-color="#ff4d00"/><stop offset="0.381" stop-color="#ff1500"/><stop offset="0.389" stop-color="#f70000"/><stop offset="0.396" stop-color="#fe0000"/><stop offset="0.404" stop-color="#ff3400"/><stop offset="0.419" stop-color="#ffe800"/><stop offset="0.427" stop-color="#c0ff3f"/><stop offset="0.434" stop-color="#7eff81"/><stop offset="0.442" stop-color="#55ffaa"/><stop offset="0.450" stop-color="#3effc1"/><stop offset="0.473" stop-color="#2cffd3"/><stop offset="0.762" stop-color="#2dffd2"/><stop offset="0.915" stop-color="#3fffc0"/><stop offset="0.998" stop-color="#5bffa4"/></linearGradient><linearGradient id="eg6" x1="0" y1="0" x2="0" y2="1"><stop offset="0.000" stop-color="#4fffb0"/><stop offset="0.305" stop-color="#4dffb2"/><stop offset="0.320" stop-color="#5affa5"/><stop offset="0.328" stop-color="#6aff95"/><stop offset="0.335" stop-color="#85ff7a"/><stop offset="0.343" stop-color="#afff50"/><stop offset="0.351" stop-color="#e8ff17"/><stop offset="0.358" stop-color="#ffd000"/><stop offset="0.373" stop-color="#ff3e00"/><stop offset="0.381" stop-color="#ff0a00"/><stop offset="0.389" stop-color="#f30000"/><stop offset="0.396" stop-color="#ff0700"/><stop offset="0.404" stop-color="#ff4600"/><stop offset="0.419" stop-color="#fdff02"/><stop offset="0.427" stop-color="#acff53"/><stop offset="0.434" stop-color="#6fff90"/><stop offset="0.442" stop-color="#4cffb3"/><stop offset="0.457" stop-color="#31ffce"/><stop offset="0.640" stop-color="#29ffd6"/><stop offset="0.899" stop-color="#3affc5"/><stop offset="0.998" stop-color="#5bffa4"/></linearGradient><linearGradient id="eg7" x1="0" y1="0" x2="0" y2="1"><stop offset="0.000" stop-color="#4fffb0"/><stop offset="0.305" stop-color="#4effb1"/><stop offset="0.320" stop-color="#5cffa3"/><stop offset="0.328" stop-color="#6eff91"/><stop offset="0.335" stop-color="#8cff73"/><stop offset="0.343" stop-color="#b8ff47"/><stop offset="0.351" stop-color="#f5ff0a"/><stop offset="0.358" stop-color="#ffc000"/><stop offset="0.373" stop-color="#ff2f00"/><stop offset="0.381" stop-color="#ff0000"/><stop offset="0.389" stop-color="#f10000"/><stop offset="0.396" stop-color="#ff1100"/><stop offset="0.404" stop-color="#ff5b00"/><stop offset="0.412" stop-color="#ffbb00"/><stop offset="0.419" stop-color="#e5ff1a"/><stop offset="0.427" stop-color="#98ff67"/><stop offset="0.434" stop-color="#62ff9d"/><stop offset="0.442" stop-color="#45ffba"/><stop offset="0.457" stop-color="#2fffd0"/><stop offset="0.739" stop-color="#2cffd3"/><stop offset="0.915" stop-color="#3fffc0"/><stop offset="0.998" stop-color="#5bffa4"/></linearGradient><linearGradient id="eg8" x1="0" y1="0" x2="0" y2="1"><stop offset="0.000" stop-color="#4fffb0"/><stop offset="0.305" stop-color="#4effb1"/><stop offset="0.320" stop-color="#5effa1"/><stop offset="0.328" stop-color="#72ff8d"/><stop offset="0.335" stop-color="#93ff6c"/><stop offset="0.343" stop-color="#c3ff3c"/><stop offset="0.351" stop-color="#fffb00"/><stop offset="0.366" stop-color="#ff6200"/><stop offset="0.373" stop-color="#ff2100"/><stop offset="0.381" stop-color="#f80000"/><stop offset="0.389" stop-color="#f30000"/><stop offset="0.396" stop-color="#ff2000"/><stop offset="0.404" stop-color="#ff7300"/><stop offset="0.412" stop-color="#ffd500"/><stop offset="0.419" stop-color="#cdff32"/><stop offset="0.427" stop-color="#86ff79"/><stop offset="0.434" stop-color="#57ffa8"/><stop offset="0.442" stop-color="#3fffc0"/><stop offset="0.457" stop-color="#2effd1"/><stop offset="0.747" stop-color="#2cffd3"/><stop offset="0.915" stop-color="#3fffc0"/><stop offset="0.998" stop-color="#5bffa4"/></linearGradient><linearGradient id="eg9" x1="0" y1="0" x2="0" y2="1"><stop offset="0.000" stop-color="#4fffb0"/><stop offset="0.305" stop-color="#4effb1"/><stop offset="0.320" stop-color="#60ff9f"/><stop offset="0.328" stop-color="#76ff89"/><stop offset="0.335" stop-color="#9aff65"/><stop offset="0.343" stop-color="#ceff31"/><stop offset="0.351" stop-color="#ffec00"/><stop offset="0.366" stop-color="#ff5100"/><stop offset="0.373" stop-color="#ff1300"/><stop offset="0.381" stop-color="#f20000"/><stop offset="0.389" stop-color="#fb0000"/><stop offset="0.396" stop-color="#ff3600"/><stop offset="0.412" stop-color="#fff400"/><stop offset="0.419" stop-color="#b3ff4c"/><stop offset="0.427" stop-color="#73ff8c"/><stop offset="0.434" stop-color="#4dffb2"/><stop offset="0.450" stop-color="#31ffce"/><stop offset="0.633" stop-color="#29ffd6"/><stop offset="0.899" stop-color="#3affc5"/><stop offset="0.998" stop-color="#5bffa4"/></linearGradient><linearGradient id="eg10" x1="0" y1="0" x2="0" y2="1"><stop offset="0.000" stop-color="#4fffb0"/><stop offset="0.305" stop-color="#4fffb0"/><stop offset="0.320" stop-color="#63ff9c"/><stop offset="0.328" stop-color="#7bff84"/><stop offset="0.335" stop-color="#a2ff5d"/><stop offset="0.343" stop-color="#daff25"/><stop offset="0.351" stop-color="#ffdc00"/><stop offset="0.366" stop-color="#ff3f00"/><stop offset="0.373" stop-color="#ff0700"/><stop offset="0.381" stop-color="#f00000"/><stop offset="0.389" stop-color="#ff0800"/><stop offset="0.396" stop-color="#ff4f00"/><stop offset="0.404" stop-color="#ffb100"/><stop offset="0.412" stop-color="#ebff14"/><stop offset="0.419" stop-color="#9bff64"/><stop offset="0.427" stop-color="#63ff9c"/><stop offset="0.434" stop-color="#44ffbb"/><stop offset="0.450" stop-color="#2fffd0"/><stop offset="0.739" stop-color="#2cffd3"/><stop offset="0.915" stop-color="#3fffc0"/><stop offset="0.998" stop-color="#5bffa4"/></linearGradient><linearGradient id="eg11" x1="0" y1="0" x2="0" y2="1"><stop offset="0.000" stop-color="#4fffb0"/><stop offset="0.305" stop-color="#4fffb0"/><stop offset="0.320" stop-color="#66ff99"/><stop offset="0.328" stop-color="#80ff7f"/><stop offset="0.335" stop-color="#abff54"/><stop offset="0.343" stop-color="#e7ff18"/><stop offset="0.351" stop-color="#ffcb00"/><stop offset="0.366" stop-color="#ff2f00"/><stop offset="0.373" stop-color="#fd0000"/><stop offset="0.381" stop-color="#f10000"/><stop offset="0.389" stop-color="#ff1900"/><stop offset="0.396" stop-color="#ff6c00"/><stop offset="0.404" stop-color="#ffd100"/><stop offset="0.412" stop-color="#ceff31"/><stop offset="0.419" stop-color="#85ff7a"/><stop offset="0.427" stop-color="#56ffa9"/><stop offset="0.434" stop-color="#3effc1"/><stop offset="0.450" stop-color="#2effd1"/><stop offset="0.739" stop-color="#2cffd3"/><stop offset="0.915" stop-color="#3fffc0"/><stop offset="0.998" stop-color="#5bffa4"/></linearGradient><linearGradient id="eg12" x1="0" y1="0" x2="0" y2="1"><stop offset="0.000" stop-color="#4fffb0"/><stop offset="0.297" stop-color="#4cffb3"/><stop offset="0.312" stop-color="#58ffa7"/><stop offset="0.320" stop-color="#69ff96"/><stop offset="0.328" stop-color="#86ff79"/><stop offset="0.335" stop-color="#b4ff4b"/><stop offset="0.343" stop-color="#f5ff0a"/><stop offset="0.351" stop-color="#ffb900"/><stop offset="0.358" stop-color="#ff6600"/><stop offset="0.366" stop-color="#ff1f00"/><stop offset="0.373" stop-color="#f50000"/><stop offset="0.381" stop-color="#f70000"/><stop offset="0.389" stop-color="#ff2e00"/><stop offset="0.396" stop-color="#ff8a00"/><stop offset="0.404" stop-color="#fff100"/><stop offset="0.412" stop-color="#b3ff4c"/><stop offset="0.419" stop-color="#72ff8d"/><stop offset="0.427" stop-color="#4bffb4"/><stop offset="0.434" stop-color="#38ffc7"/><stop offset="0.465" stop-color="#2bffd4"/><stop offset="0.755" stop-color="#2dffd2"/><stop offset="0.915" stop-color="#3fffc0"/><stop offset="0.998" stop-color="#5bffa4"/></linearGradient><linearGradient id="eg13" x1="0" y1="0" x2="0" y2="1"><stop offset="0.000" stop-color="#4fffb0"/><stop offset="0.297" stop-color="#4cffb3"/><stop offset="0.312" stop-color="#5affa5"/><stop offset="0.320" stop-color="#6cff93"/><stop offset="0.328" stop-color="#8cff73"/><stop offset="0.335" stop-color="#bfff40"/><stop offset="0.343" stop-color="#fff900"/><stop offset="0.358" stop-color="#ff5300"/><stop offset="0.366" stop-color="#ff1100"/><stop offset="0.373" stop-color="#f10000"/><stop offset="0.381" stop-color="#ff0200"/><stop offset="0.389" stop-color="#ff4800"/><stop offset="0.396" stop-color="#ffab00"/><stop offset="0.404" stop-color="#eeff11"/><stop offset="0.412" stop-color="#9bff64"/><stop offset="0.419" stop-color="#62ff9d"/><stop offset="0.427" stop-color="#43ffbc"/><stop offset="0.442" stop-color="#2effd1"/><stop offset="0.739" stop-color="#2cffd3"/><stop offset="0.915" stop-color="#3fffc0"/><stop offset="0.998" stop-color="#5bffa4"/></linearGradient><linearGradient id="eg14" x1="0" y1="0" x2="0" y2="1"><stop offset="0.000" stop-color="#4fffb0"/><stop offset="0.297" stop-color="#4dffb2"/><stop offset="0.312" stop-color="#5bffa4"/><stop offset="0.320" stop-color="#70ff8f"/><stop offset="0.328" stop-color="#94ff6b"/><stop offset="0.335" stop-color="#cbff34"/><stop offset="0.343" stop-color="#ffe800"/><stop offset="0.358" stop-color="#ff4000"/><stop offset="0.366" stop-color="#ff0500"/><stop offset="0.373" stop-color="#f00000"/><stop offset="0.381" stop-color="#ff1200"/><stop offset="0.389" stop-color="#ff6400"/><stop offset="0.396" stop-color="#ffcc00"/><stop offset="0.404" stop-color="#d0ff2f"/><stop offset="0.412" stop-color="#84ff7b"/><stop offset="0.419" stop-color="#54ffab"/><stop offset="0.427" stop-color="#3cffc3"/><stop offset="0.450" stop-color="#2cffd3"/><stop offset="0.747" stop-color="#2dffd2"/><stop offset="0.915" stop-color="#3fffc0"/><stop offset="0.998" stop-color="#5bffa4"/></linearGradient><linearGradient id="eg15" x1="0" y1="0" x2="0" y2="1"><stop offset="0.000" stop-color="#4fffb0"/><stop offset="0.297" stop-color="#4cffb3"/><stop offset="0.312" stop-color="#59ffa6"/><stop offset="0.320" stop-color="#6cff93"/><stop offset="0.328" stop-color="#8dff72"/><stop offset="0.335" stop-color="#c2ff3d"/><stop offset="0.343" stop-color="#fff300"/><stop offset="0.358" stop-color="#ff4800"/><stop offset="0.366" stop-color="#ff0a00"/><stop offset="0.373" stop-color="#f20000"/><stop offset="0.381" stop-color="#ff1200"/><stop offset="0.389" stop-color="#ff6300"/><stop offset="0.396" stop-color="#ffcc00"/><stop offset="0.404" stop-color="#cfff30"/><stop offset="0.412" stop-color="#83ff7c"/><stop offset="0.419" stop-color="#53ffac"/><stop offset="0.427" stop-color="#3bffc4"/><stop offset="0.450" stop-color="#2cffd3"/><stop offset="0.747" stop-color="#2dffd2"/><stop offset="0.915" stop-color="#3fffc0"/><stop offset="0.998" stop-color="#5bffa4"/></linearGradient><linearGradient id="eg16" x1="0" y1="0" x2="0" y2="1"><stop offset="0.000" stop-color="#4fffb0"/><stop offset="0.305" stop-color="#4effb1"/><stop offset="0.320" stop-color="#61ff9e"/><stop offset="0.328" stop-color="#7bff84"/><stop offset="0.335" stop-color="#a7ff58"/><stop offset="0.343" stop-color="#e7ff18"/><stop offset="0.351" stop-color="#ffc500"/><stop offset="0.358" stop-color="#ff6e00"/><stop offset="0.366" stop-color="#ff2500"/><stop offset="0.373" stop-color="#fb0000"/><stop offset="0.381" stop-color="#ff0400"/><stop offset="0.389" stop-color="#ff4500"/><stop offset="0.396" stop-color="#ffaa00"/><stop offset="0.404" stop-color="#ecff13"/><stop offset="0.412" stop-color="#97ff68"/><stop offset="0.419" stop-color="#5effa1"/><stop offset="0.427" stop-color="#40ffbf"/><stop offset="0.442" stop-color="#2effd1"/><stop offset="0.739" stop-color="#2cffd3"/><stop offset="0.915" stop-color="#3fffc0"/><stop offset="0.998" stop-color="#5bffa4"/></linearGradient><linearGradient id="eg17" x1="0" y1="0" x2="0" y2="1"><stop offset="0.000" stop-color="#4fffb0"/><stop offset="0.305" stop-color="#4cffb3"/><stop offset="0.320" stop-color="#5affa5"/><stop offset="0.328" stop-color="#6dff92"/><stop offset="0.335" stop-color="#90ff6f"/><stop offset="0.343" stop-color="#c7ff38"/><stop offset="0.351" stop-color="#ffec00"/><stop offset="0.366" stop-color="#ff4400"/><stop offset="0.373" stop-color="#ff0c00"/><stop offset="0.381" stop-color="#fe0000"/><stop offset="0.389" stop-color="#ff2b00"/><stop offset="0.396" stop-color="#ff8700"/><stop offset="0.404" stop-color="#fff200"/><stop offset="0.412" stop-color="#aeff51"/><stop offset="0.419" stop-color="#6cff93"/><stop offset="0.427" stop-color="#46ffb9"/><stop offset="0.434" stop-color="#35ffca"/><stop offset="0.473" stop-color="#2bffd4"/><stop offset="0.755" stop-color="#2dffd2"/><stop offset="0.915" stop-color="#3fffc0"/><stop offset="0.998" stop-color="#5bffa4"/></linearGradient><linearGradient id="eg18" x1="0" y1="0" x2="0" y2="1"><stop offset="0.000" stop-color="#4fffb0"/><stop offset="0.312" stop-color="#4effb1"/><stop offset="0.328" stop-color="#62ff9d"/><stop offset="0.335" stop-color="#7dff82"/><stop offset="0.343" stop-color="#abff54"/><stop offset="0.351" stop-color="#edff12"/><stop offset="0.358" stop-color="#ffbe00"/><stop offset="0.366" stop-color="#ff6800"/><stop offset="0.373" stop-color="#ff2400"/><stop offset="0.381" stop-color="#ff0400"/><stop offset="0.389" stop-color="#ff1800"/><stop offset="0.396" stop-color="#ff6600"/><stop offset="0.404" stop-color="#ffd000"/><stop offset="0.412" stop-color="#c8ff37"/><stop offset="0.419" stop-color="#7dff82"/><stop offset="0.427" stop-color="#4effb1"/><stop offset="0.434" stop-color="#38ffc7"/><stop offset="0.465" stop-color="#2bffd4"/><stop offset="0.755" stop-color="#2dffd2"/><stop offset="0.915" stop-color="#3fffc0"/><stop offset="0.998" stop-color="#5bffa4"/></linearGradient><linearGradient id="eg19" x1="0" y1="0" x2="0" y2="1"><stop offset="0.000" stop-color="#4fffb0"/><stop offset="0.312" stop-color="#4cffb3"/><stop offset="0.328" stop-color="#59ffa6"/><stop offset="0.335" stop-color="#6dff92"/><stop offset="0.343" stop-color="#90ff6f"/><stop offset="0.351" stop-color="#c7ff38"/><stop offset="0.358" stop-color="#ffec00"/><stop offset="0.373" stop-color="#ff4800"/><stop offset="0.381" stop-color="#ff1500"/><stop offset="0.389" stop-color="#ff0f00"/><stop offset="0.396" stop-color="#ff4500"/><stop offset="0.404" stop-color="#ffa800"/><stop offset="0.412" stop-color="#ebff14"/><stop offset="0.419" stop-color="#95ff6a"/><stop offset="0.427" stop-color="#5bffa4"/><stop offset="0.434" stop-color="#3dffc2"/><stop offset="0.450" stop-color="#2dffd2"/><stop offset="0.755" stop-color="#2dffd2"/><stop offset="0.915" stop-color="#3fffc0"/><stop offset="0.998" stop-color="#5bffa4"/></linearGradient><linearGradient id="eg20" x1="0" y1="0" x2="0" y2="1"><stop offset="0.000" stop-color="#4fffb0"/><stop offset="0.320" stop-color="#4dffb2"/><stop offset="0.335" stop-color="#5fffa0"/><stop offset="0.343" stop-color="#78ff87"/><stop offset="0.351" stop-color="#a2ff5d"/><stop offset="0.358" stop-color="#e1ff1e"/><stop offset="0.366" stop-color="#ffcd00"/><stop offset="0.373" stop-color="#ff7a00"/><stop offset="0.381" stop-color="#ff3700"/><stop offset="0.389" stop-color="#ff1800"/><stop offset="0.396" stop-color="#ff2d00"/><stop offset="0.404" stop-color="#ff7d00"/><stop offset="0.412" stop-color="#ffe700"/><stop offset="0.419" stop-color="#b6ff49"/><stop offset="0.427" stop-color="#70ff8f"/><stop offset="0.434" stop-color="#46ffb9"/><stop offset="0.450" stop-color="#2effd1"/><stop offset="0.747" stop-color="#2cffd3"/><stop offset="0.915" stop-color="#3fffc0"/><stop offset="0.998" stop-color="#5bffa4"/></linearGradient><linearGradient id="eg21" x1="0" y1="0" x2="0" y2="1"><stop offset="0.000" stop-color="#4fffb0"/><stop offset="0.328" stop-color="#4effb1"/><stop offset="0.343" stop-color="#67ff98"/><stop offset="0.351" stop-color="#86ff79"/><stop offset="0.358" stop-color="#b8ff47"/><stop offset="0.366" stop-color="#fdff02"/><stop offset="0.381" stop-color="#ff6200"/><stop offset="0.389" stop-color="#ff2f00"/><stop offset="0.396" stop-color="#ff2500"/><stop offset="0.404" stop-color="#ff5900"/><stop offset="0.412" stop-color="#ffba00"/><stop offset="0.419" stop-color="#dcff23"/><stop offset="0.427" stop-color="#89ff76"/><stop offset="0.434" stop-color="#54ffab"/><stop offset="0.442" stop-color="#39ffc6"/><stop offset="0.465" stop-color="#2cffd3"/><stop offset="0.762" stop-color="#2dffd2"/><stop offset="0.915" stop-color="#3fffc0"/><stop offset="0.998" stop-color="#5bffa4"/></linearGradient><linearGradient id="eg22" x1="0" y1="0" x2="0" y2="1"><stop offset="0.000" stop-color="#4fffb0"/><stop offset="0.328" stop-color="#4cffb3"/><stop offset="0.343" stop-color="#5bffa4"/><stop offset="0.351" stop-color="#70ff8f"/><stop offset="0.358" stop-color="#96ff69"/><stop offset="0.366" stop-color="#d0ff2f"/><stop offset="0.373" stop-color="#ffe300"/><stop offset="0.381" stop-color="#ff9300"/><stop offset="0.389" stop-color="#ff5100"/><stop offset="0.396" stop-color="#ff3000"/><stop offset="0.404" stop-color="#ff4200"/><stop offset="0.412" stop-color="#ff8f00"/><stop offset="0.419" stop-color="#fff700"/><stop offset="0.427" stop-color="#a8ff57"/><stop offset="0.434" stop-color="#67ff98"/><stop offset="0.442" stop-color="#42ffbd"/><stop offset="0.450" stop-color="#32ffcd"/><stop offset="0.541" stop-color="#2affd5"/><stop offset="0.777" stop-color="#2effd1"/><stop offset="0.915" stop-color="#3fffc0"/><stop offset="0.998" stop-color="#5bffa4"/></linearGradient><linearGradient id="eg23" x1="0" y1="0" x2="0" y2="1"><stop offset="0.000" stop-color="#4fffb0"/><stop offset="0.335" stop-color="#4dffb2"/><stop offset="0.351" stop-color="#62ff9d"/><stop offset="0.358" stop-color="#7dff82"/><stop offset="0.366" stop-color="#aaff55"/><stop offset="0.373" stop-color="#eaff15"/><stop offset="0.381" stop-color="#ffc700"/><stop offset="0.389" stop-color="#ff7d00"/><stop offset="0.396" stop-color="#ff4900"/><stop offset="0.404" stop-color="#ff3d00"/><stop offset="0.412" stop-color="#ff6e00"/><stop offset="0.419" stop-color="#ffcc00"/><stop offset="0.427" stop-color="#cdff32"/><stop offset="0.434" stop-color="#7eff81"/><stop offset="0.442" stop-color="#4effb1"/><stop offset="0.450" stop-color="#36ffc9"/><stop offset="0.480" stop-color="#2bffd4"/><stop offset="0.770" stop-color="#2dffd2"/><stop offset="0.915" stop-color="#3fffc0"/><stop offset="0.998" stop-color="#5bffa4"/></linearGradient><linearGradient id="eg24" x1="0" y1="0" x2="0" y2="1"><stop offset="0.000" stop-color="#4fffb0"/><stop offset="0.343" stop-color="#4fffb0"/><stop offset="0.358" stop-color="#6aff95"/><stop offset="0.366" stop-color="#8cff73"/><stop offset="0.373" stop-color="#bfff40"/><stop offset="0.381" stop-color="#fffa00"/><stop offset="0.389" stop-color="#ffaf00"/><stop offset="0.396" stop-color="#ff7100"/><stop offset="0.404" stop-color="#ff5100"/><stop offset="0.412" stop-color="#ff6100"/><stop offset="0.419" stop-color="#ffa900"/><stop offset="0.427" stop-color="#f4ff0b"/><stop offset="0.434" stop-color="#9cff63"/><stop offset="0.442" stop-color="#60ff9f"/><stop offset="0.450" stop-color="#3fffc0"/><stop offset="0.465" stop-color="#2dffd2"/><stop offset="0.770" stop-color="#2dffd2"/><stop offset="0.915" stop-color="#3fffc0"/><stop offset="0.998" stop-color="#5bffa4"/></linearGradient><linearGradient id="eg25" x1="0" y1="0" x2="0" y2="1"><stop offset="0.000" stop-color="#4fffb0"/><stop offset="0.343" stop-color="#4cffb3"/><stop offset="0.358" stop-color="#5dffa2"/><stop offset="0.366" stop-color="#75ff8a"/><stop offset="0.373" stop-color="#9dff62"/><stop offset="0.381" stop-color="#d6ff29"/><stop offset="0.389" stop-color="#ffe200"/><stop offset="0.396" stop-color="#ff9e00"/><stop offset="0.404" stop-color="#ff6f00"/><stop offset="0.412" stop-color="#ff6400"/><stop offset="0.419" stop-color="#ff9100"/><stop offset="0.427" stop-color="#ffe600"/><stop offset="0.434" stop-color="#bdff42"/><stop offset="0.442" stop-color="#76ff89"/><stop offset="0.450" stop-color="#4bffb4"/><stop offset="0.457" stop-color="#35ffca"/><stop offset="0.495" stop-color="#2bffd4"/><stop offset="0.770" stop-color="#2dffd2"/><stop offset="0.915" stop-color="#3fffc0"/><stop offset="0.998" stop-color="#5bffa4"/></linearGradient><linearGradient id="eg26" x1="0" y1="0" x2="0" y2="1"><stop offset="0.000" stop-color="#4fffb0"/><stop offset="0.351" stop-color="#4effb1"/><stop offset="0.366" stop-color="#65ff9a"/><stop offset="0.373" stop-color="#82ff7d"/><stop offset="0.381" stop-color="#b0ff4f"/><stop offset="0.389" stop-color="#edff12"/><stop offset="0.396" stop-color="#ffcd00"/><stop offset="0.404" stop-color="#ff9400"/><stop offset="0.412" stop-color="#ff7800"/><stop offset="0.419" stop-color="#ff8700"/><stop offset="0.427" stop-color="#ffc800"/><stop offset="0.434" stop-color="#dfff20"/><stop offset="0.442" stop-color="#91ff6e"/><stop offset="0.450" stop-color="#5bffa4"/><stop offset="0.457" stop-color="#3dffc2"/><stop offset="0.473" stop-color="#2dffd2"/><stop offset="0.777" stop-color="#2dffd2"/><stop offset="0.915" stop-color="#3fffc0"/><stop offset="0.998" stop-color="#5bffa4"/></linearGradient><linearGradient id="eg27" x1="0" y1="0" x2="0" y2="1"><stop offset="0.000" stop-color="#4fffb0"/><stop offset="0.351" stop-color="#4cffb3"/><stop offset="0.366" stop-color="#5affa5"/><stop offset="0.373" stop-color="#6eff91"/><stop offset="0.381" stop-color="#90ff6f"/><stop offset="0.396" stop-color="#fffc00"/><stop offset="0.404" stop-color="#ffbf00"/><stop offset="0.412" stop-color="#ff9500"/><stop offset="0.419" stop-color="#ff8c00"/><stop offset="0.427" stop-color="#ffb400"/><stop offset="0.434" stop-color="#feff01"/><stop offset="0.442" stop-color="#adff52"/><stop offset="0.450" stop-color="#6eff91"/><stop offset="0.457" stop-color="#48ffb7"/><stop offset="0.465" stop-color="#34ffcb"/><stop offset="0.511" stop-color="#2bffd4"/><stop offset="0.777" stop-color="#2dffd2"/><stop offset="0.915" stop-color="#3fffc0"/><stop offset="0.998" stop-color="#5bffa4"/></linearGradient><linearGradient id="eg28" x1="0" y1="0" x2="0" y2="1"><stop offset="0.000" stop-color="#4fffb0"/><stop offset="0.358" stop-color="#4dffb2"/><stop offset="0.373" stop-color="#61ff9e"/><stop offset="0.381" stop-color="#7aff85"/><stop offset="0.389" stop-color="#a3ff5c"/><stop offset="0.396" stop-color="#d9ff26"/><stop offset="0.404" stop-color="#ffe800"/><stop offset="0.412" stop-color="#ffb500"/><stop offset="0.419" stop-color="#ff9b00"/><stop offset="0.427" stop-color="#ffa800"/><stop offset="0.434" stop-color="#ffe000"/><stop offset="0.442" stop-color="#d1ff2e"/><stop offset="0.450" stop-color="#8aff75"/><stop offset="0.457" stop-color="#59ffa6"/><stop offset="0.465" stop-color="#3cffc3"/><stop offset="0.480" stop-color="#2dffd2"/><stop offset="0.777" stop-color="#2dffd2"/><stop offset="0.915" stop-color="#3fffc0"/><stop offset="0.998" stop-color="#5bffa4"/></linearGradient><linearGradient id="eg29" x1="0" y1="0" x2="0" y2="1"><stop offset="0.000" stop-color="#4fffb0"/><stop offset="0.358" stop-color="#4cffb3"/><stop offset="0.373" stop-color="#59ffa6"/><stop offset="0.381" stop-color="#6cff93"/><stop offset="0.389" stop-color="#8bff74"/><stop offset="0.396" stop-color="#b8ff47"/><stop offset="0.404" stop-color="#f0ff0f"/><stop offset="0.412" stop-color="#ffd800"/><stop offset="0.419" stop-color="#ffb100"/><stop offset="0.427" stop-color="#ffa700"/><stop offset="0.434" stop-color="#ffc700"/><stop offset="0.442" stop-color="#f7ff08"/><stop offset="0.450" stop-color="#afff50"/><stop offset="0.457" stop-color="#73ff8c"/><stop offset="0.465" stop-color="#4cffb3"/><stop offset="0.473" stop-color="#36ffc9"/><stop offset="0.503" stop-color="#2bffd4"/><stop offset="0.785" stop-color="#2dffd2"/><stop offset="0.915" stop-color="#3fffc0"/><stop offset="0.998" stop-color="#5bffa4"/></linearGradient><linearGradient id="eg30" x1="0" y1="0" x2="0" y2="1"><stop offset="0.000" stop-color="#4fffb0"/><stop offset="0.366" stop-color="#4dffb2"/><stop offset="0.381" stop-color="#61ff9e"/><stop offset="0.389" stop-color="#78ff87"/><stop offset="0.396" stop-color="#9dff62"/><stop offset="0.412" stop-color="#fffb00"/><stop offset="0.419" stop-color="#ffce00"/><stop offset="0.427" stop-color="#ffb500"/><stop offset="0.434" stop-color="#ffbc00"/><stop offset="0.442" stop-color="#ffe900"/><stop offset="0.450" stop-color="#d3ff2c"/><stop offset="0.457" stop-color="#92ff6d"/><stop offset="0.465" stop-color="#60ff9f"/><stop offset="0.473" stop-color="#41ffbe"/><stop offset="0.488" stop-color="#2effd1"/><stop offset="0.777" stop-color="#2cffd3"/><stop offset="0.915" stop-color="#3fffc0"/><stop offset="0.998" stop-color="#5bffa4"/></linearGradient><linearGradient id="eg31" x1="0" y1="0" x2="0" y2="1"><stop offset="0.000" stop-color="#4fffb0"/><stop offset="0.366" stop-color="#4cffb3"/><stop offset="0.381" stop-color="#59ffa6"/><stop offset="0.389" stop-color="#6aff95"/><stop offset="0.396" stop-color="#87ff78"/><stop offset="0.412" stop-color="#e0ff1f"/><stop offset="0.419" stop-color="#ffed00"/><stop offset="0.427" stop-color="#ffca00"/><stop offset="0.434" stop-color="#ffbf00"/><stop offset="0.442" stop-color="#ffd600"/><stop offset="0.450" stop-color="#f3ff0c"/><stop offset="0.465" stop-color="#7aff85"/><stop offset="0.473" stop-color="#52ffad"/><stop offset="0.480" stop-color="#3affc5"/><stop offset="0.503" stop-color="#2cffd3"/><stop offset="0.793" stop-color="#2dffd2"/><stop offset="0.915" stop-color="#3fffc0"/><stop offset="0.998" stop-color="#5bffa4"/></linearGradient><linearGradient id="eg32" x1="0" y1="0" x2="0" y2="1"><stop offset="0.000" stop-color="#4fffb0"/><stop offset="0.373" stop-color="#4effb1"/><stop offset="0.389" stop-color="#60ff9f"/><stop offset="0.404" stop-color="#96ff69"/><stop offset="0.419" stop-color="#f0ff0f"/><stop offset="0.427" stop-color="#ffe500"/><stop offset="0.434" stop-color="#ffce00"/><stop offset="0.442" stop-color="#ffd100"/><stop offset="0.450" stop-color="#fff400"/><stop offset="0.457" stop-color="#d2ff2d"/><stop offset="0.465" stop-color="#97ff68"/><stop offset="0.473" stop-color="#67ff98"/><stop offset="0.480" stop-color="#47ffb8"/><stop offset="0.495" stop-color="#2fffd0"/><stop offset="0.785" stop-color="#2cffd3"/><stop offset="0.915" stop-color="#3fffc0"/><stop offset="0.998" stop-color="#5bffa4"/></linearGradient><linearGradient id="eg33" x1="0" y1="0" x2="0" y2="1"><stop offset="0.000" stop-color="#4fffb0"/><stop offset="0.373" stop-color="#4cffb3"/><stop offset="0.389" stop-color="#59ffa6"/><stop offset="0.404" stop-color="#82ff7d"/><stop offset="0.427" stop-color="#fbff04"/><stop offset="0.434" stop-color="#ffe300"/><stop offset="0.442" stop-color="#ffd800"/><stop offset="0.450" stop-color="#ffe800"/><stop offset="0.457" stop-color="#ebff14"/><stop offset="0.473" stop-color="#7fff80"/><stop offset="0.480" stop-color="#58ffa7"/><stop offset="0.488" stop-color="#3effc1"/><stop offset="0.511" stop-color="#2cffd3"/><stop offset="0.793" stop-color="#2dffd2"/><stop offset="0.915" stop-color="#3fffc0"/><stop offset="0.998" stop-color="#5bffa4"/></linearGradient><linearGradient id="eg34" x1="0" y1="0" x2="0" y2="1"><stop offset="0.000" stop-color="#4fffb0"/><stop offset="0.381" stop-color="#4effb1"/><stop offset="0.396" stop-color="#5fffa0"/><stop offset="0.412" stop-color="#90ff6f"/><stop offset="0.434" stop-color="#fffd00"/><stop offset="0.442" stop-color="#ffe700"/><stop offset="0.450" stop-color="#ffe800"/><stop offset="0.457" stop-color="#fbff04"/><stop offset="0.480" stop-color="#6cff93"/><stop offset="0.488" stop-color="#4bffb4"/><stop offset="0.495" stop-color="#38ffc7"/><stop offset="0.526" stop-color="#2bffd4"/><stop offset="0.800" stop-color="#2dffd2"/><stop offset="0.922" stop-color="#42ffbd"/><stop offset="0.998" stop-color="#5bffa4"/></linearGradient><linearGradient id="eg35" x1="0" y1="0" x2="0" y2="1"><stop offset="0.000" stop-color="#4fffb0"/><stop offset="0.381" stop-color="#4cffb3"/><stop offset="0.396" stop-color="#58ffa7"/><stop offset="0.412" stop-color="#7eff81"/><stop offset="0.434" stop-color="#e9ff16"/><stop offset="0.442" stop-color="#fff900"/><stop offset="0.450" stop-color="#ffed00"/><stop offset="0.457" stop-color="#fff900"/><stop offset="0.465" stop-color="#e2ff1d"/><stop offset="0.480" stop-color="#83ff7c"/><stop offset="0.488" stop-color="#5cffa3"/><stop offset="0.495" stop-color="#41ffbe"/><stop offset="0.511" stop-color="#2fffd0"/><stop offset="0.793" stop-color="#2cffd3"/><stop offset="0.922" stop-color="#42ffbd"/><stop offset="0.998" stop-color="#5bffa4"/></linearGradient><linearGradient id="eg36" x1="0" y1="0" x2="0" y2="1"><stop offset="0.000" stop-color="#4fffb0"/><stop offset="0.389" stop-color="#4effb1"/><stop offset="0.404" stop-color="#5fffa0"/><stop offset="0.419" stop-color="#8cff73"/><stop offset="0.442" stop-color="#f4ff0b"/><stop offset="0.450" stop-color="#fff600"/><stop offset="0.457" stop-color="#fff400"/><stop offset="0.465" stop-color="#f4ff0b"/><stop offset="0.488" stop-color="#70ff8f"/><stop offset="0.495" stop-color="#4fffb0"/><stop offset="0.503" stop-color="#3bffc4"/><stop offset="0.526" stop-color="#2cffd3"/><stop offset="0.800" stop-color="#2dffd2"/><stop offset="0.922" stop-color="#42ffbd"/><stop offset="0.998" stop-color="#5bffa4"/></linearGradient><linearGradient id="eg37" x1="0" y1="0" x2="0" y2="1"><stop offset="0.000" stop-color="#4fffb0"/><stop offset="0.389" stop-color="#4cffb3"/><stop offset="0.412" stop-color="#67ff98"/><stop offset="0.427" stop-color="#9bff64"/><stop offset="0.450" stop-color="#fbff04"/><stop offset="0.457" stop-color="#fff800"/><stop offset="0.465" stop-color="#feff01"/><stop offset="0.473" stop-color="#dfff20"/><stop offset="0.495" stop-color="#60ff9f"/><stop offset="0.503" stop-color="#45ffba"/><stop offset="0.518" stop-color="#30ffcf"/><stop offset="0.793" stop-color="#2bffd4"/><stop offset="0.922" stop-color="#42ffbd"/><stop offset="0.998" stop-color="#5bffa4"/></linearGradient><linearGradient id="eg38" x1="0" y1="0" x2="0" y2="1"><stop offset="0.000" stop-color="#4fffb0"/><stop offset="0.396" stop-color="#4effb1"/><stop offset="0.412" stop-color="#5fffa0"/><stop offset="0.427" stop-color="#8aff75"/><stop offset="0.450" stop-color="#eaff15"/><stop offset="0.457" stop-color="#fdff02"/><stop offset="0.465" stop-color="#fffe00"/><stop offset="0.473" stop-color="#eeff11"/><stop offset="0.495" stop-color="#74ff8b"/><stop offset="0.503" stop-color="#53ffac"/><stop offset="0.518" stop-color="#33ffcc"/><stop offset="0.579" stop-color="#2bffd4"/><stop offset="0.808" stop-color="#2dffd2"/><stop offset="0.930" stop-color="#44ffbb"/><stop offset="0.998" stop-color="#5bffa4"/></linearGradient><linearGradient id="eg39" x1="0" y1="0" x2="0" y2="1"><stop offset="0.000" stop-color="#4fffb0"/><stop offset="0.396" stop-color="#4dffb2"/><stop offset="0.419" stop-color="#66ff99"/><stop offset="0.434" stop-color="#97ff68"/><stop offset="0.457" stop-color="#f0ff0f"/><stop offset="0.465" stop-color="#fcff03"/><stop offset="0.473" stop-color="#f6ff09"/><stop offset="0.480" stop-color="#dbff24"/><stop offset="0.503" stop-color="#64ff9b"/><stop offset="0.511" stop-color="#48ffb7"/><stop offset="0.526" stop-color="#31ffce"/><stop offset="0.709" stop-color="#29ffd6"/><stop offset="0.846" stop-color="#32ffcd"/><stop offset="0.945" stop-color="#49ffb6"/><stop offset="0.998" stop-color="#5bffa4"/></linearGradient><linearGradient id="eg40" x1="0" y1="0" x2="0" y2="1"><stop offset="0.000" stop-color="#4fffb0"/><stop offset="0.404" stop-color="#4fffb0"/><stop offset="0.419" stop-color="#5fffa0"/><stop offset="0.434" stop-color="#87ff78"/><stop offset="0.457" stop-color="#e0ff1f"/><stop offset="0.465" stop-color="#f3ff0c"/><stop offset="0.473" stop-color="#f7ff08"/><stop offset="0.480" stop-color="#e8ff17"/><stop offset="0.495" stop-color="#9fff60"/><stop offset="0.511" stop-color="#57ffa8"/><stop offset="0.518" stop-color="#40ffbf"/><stop offset="0.541" stop-color="#2dffd2"/><stop offset="0.816" stop-color="#2dffd2"/><stop offset="0.930" stop-color="#44ffbb"/><stop offset="0.998" stop-color="#5bffa4"/></linearGradient><linearGradient id="eg41" x1="0" y1="0" x2="0" y2="1"><stop offset="0.000" stop-color="#4fffb0"/><stop offset="0.404" stop-color="#4dffb2"/><stop offset="0.427" stop-color="#66ff99"/><stop offset="0.442" stop-color="#93ff6c"/><stop offset="0.465" stop-color="#e6ff19"/><stop offset="0.473" stop-color="#f2ff0d"/><stop offset="0.480" stop-color="#edff12"/><stop offset="0.488" stop-color="#d7ff28"/><stop offset="0.511" stop-color="#68ff97"/><stop offset="0.518" stop-color="#4bffb4"/><stop offset="0.534" stop-color="#32ffcd"/><stop offset="0.655" stop-color="#2affd5"/><stop offset="0.823" stop-color="#2effd1"/><stop offset="0.938" stop-color="#47ffb8"/><stop offset="0.998" stop-color="#5bffa4"/></linearGradient><linearGradient id="eg42" x1="0" y1="0" x2="0" y2="1"><stop offset="0.000" stop-color="#4fffb0"/><stop offset="0.412" stop-color="#4fffb0"/><stop offset="0.427" stop-color="#5effa1"/><stop offset="0.442" stop-color="#84ff7b"/><stop offset="0.465" stop-color="#d7ff28"/><stop offset="0.473" stop-color="#e8ff17"/><stop offset="0.480" stop-color="#edff12"/><stop offset="0.488" stop-color="#e1ff1e"/><stop offset="0.503" stop-color="#a0ff5f"/><stop offset="0.518" stop-color="#5affa5"/><stop offset="0.534" stop-color="#36ffc9"/><stop offset="0.572" stop-color="#2bffd4"/><stop offset="0.816" stop-color="#2dffd2"/><stop offset="0.930" stop-color="#44ffbb"/><stop offset="0.998" stop-color="#5bffa4"/></linearGradient><linearGradient id="eg43" x1="0" y1="0" x2="0" y2="1"><stop offset="0.000" stop-color="#4fffb0"/><stop offset="0.412" stop-color="#4dffb2"/><stop offset="0.434" stop-color="#66ff99"/><stop offset="0.457" stop-color="#adff52"/><stop offset="0.473" stop-color="#deff21"/><stop offset="0.480" stop-color="#e9ff16"/><stop offset="0.488" stop-color="#e5ff1a"/><stop offset="0.495" stop-color="#d1ff2e"/><stop offset="0.518" stop-color="#68ff97"/><stop offset="0.534" stop-color="#3cffc3"/><stop offset="0.556" stop-color="#2cffd3"/><stop offset="0.823" stop-color="#2dffd2"/><stop offset="0.945" stop-color="#49ffb6"/><stop offset="0.998" stop-color="#5bffa4"/></linearGradient><linearGradient id="eg44" x1="0" y1="0" x2="0" y2="1"><stop offset="0.000" stop-color="#4fffb0"/><stop offset="0.419" stop-color="#4fffb0"/><stop offset="0.442" stop-color="#70ff8f"/><stop offset="0.473" stop-color="#d4ff2b"/><stop offset="0.480" stop-color="#e4ff1b"/><stop offset="0.488" stop-color="#e6ff19"/><stop offset="0.495" stop-color="#d9ff26"/><stop offset="0.526" stop-color="#57ffa8"/><stop offset="0.534" stop-color="#41ffbe"/><stop offset="0.556" stop-color="#2dffd2"/><stop offset="0.823" stop-color="#2dffd2"/><stop offset="0.945" stop-color="#49ffb6"/><stop offset="0.998" stop-color="#5bffa4"/></linearGradient><linearGradient id="eg45" x1="0" y1="0" x2="0" y2="1"><stop offset="0.000" stop-color="#4fffb0"/><stop offset="0.419" stop-color="#4effb1"/><stop offset="0.442" stop-color="#68ff97"/><stop offset="0.480" stop-color="#dcff23"/><stop offset="0.488" stop-color="#e5ff1a"/><stop offset="0.495" stop-color="#deff21"/><stop offset="0.511" stop-color="#a8ff57"/><stop offset="0.526" stop-color="#63ff9c"/><stop offset="0.534" stop-color="#49ffb6"/><stop offset="0.549" stop-color="#32ffcd"/><stop offset="0.671" stop-color="#2affd5"/><stop offset="0.823" stop-color="#2dffd2"/><stop offset="0.945" stop-color="#49ffb6"/><stop offset="0.998" stop-color="#5bffa4"/></linearGradient><linearGradient id="eg46" x1="0" y1="0" x2="0" y2="1"><stop offset="0.000" stop-color="#4fffb0"/><stop offset="0.419" stop-color="#4dffb2"/><stop offset="0.442" stop-color="#62ff9d"/><stop offset="0.465" stop-color="#a3ff5c"/><stop offset="0.480" stop-color="#d3ff2c"/><stop offset="0.488" stop-color="#e0ff1f"/><stop offset="0.495" stop-color="#e1ff1e"/><stop offset="0.503" stop-color="#d1ff2e"/><stop offset="0.534" stop-color="#53ffac"/><stop offset="0.549" stop-color="#35ffca"/><stop offset="0.595" stop-color="#2bffd4"/><stop offset="0.823" stop-color="#2cffd3"/><stop offset="0.953" stop-color="#4cffb3"/><stop offset="0.998" stop-color="#5bffa4"/></linearGradient><linearGradient id="eg47" x1="0" y1="0" x2="0" y2="1"><stop offset="0.000" stop-color="#4fffb0"/><stop offset="0.427" stop-color="#4effb1"/><stop offset="0.450" stop-color="#6bff94"/><stop offset="0.480" stop-color="#c9ff36"/><stop offset="0.488" stop-color="#daff25"/><stop offset="0.495" stop-color="#e0ff1f"/><stop offset="0.503" stop-color="#d7ff28"/><stop offset="0.518" stop-color="#9fff60"/><stop offset="0.541" stop-color="#45ffba"/><stop offset="0.556" stop-color="#31ffce"/><stop offset="0.800" stop-color="#28ffd7"/><stop offset="0.938" stop-color="#47ffb8"/><stop offset="0.998" stop-color="#5bffa4"/></linearGradient><linearGradient id="eg48" x1="0" y1="0" x2="0" y2="1"><stop offset="0.000" stop-color="#4fffb0"/><stop offset="0.427" stop-color="#4dffb2"/><stop offset="0.450" stop-color="#64ff9b"/><stop offset="0.473" stop-color="#a5ff5a"/><stop offset="0.488" stop-color="#d2ff2d"/><stop offset="0.495" stop-color="#ddff22"/><stop offset="0.503" stop-color="#dbff24"/><stop offset="0.511" stop-color="#c9ff36"/><stop offset="0.541" stop-color="#4effb1"/><stop offset="0.556" stop-color="#34ffcb"/><stop offset="0.633" stop-color="#2affd5"/><stop offset="0.831" stop-color="#2dffd2"/><stop offset="0.968" stop-color="#51ffae"/><stop offset="0.998" stop-color="#5bffa4"/></linearGradient><linearGradient id="eg49" x1="0" y1="0" x2="0" y2="1"><stop offset="0.000" stop-color="#4fffb0"/><stop offset="0.434" stop-color="#4fffb0"/><stop offset="0.457" stop-color="#6dff92"/><stop offset="0.488" stop-color="#c9ff36"/><stop offset="0.503" stop-color="#dbff24"/><stop offset="0.511" stop-color="#d0ff2f"/><stop offset="0.526" stop-color="#98ff67"/><stop offset="0.541" stop-color="#59ffa6"/><stop offset="0.556" stop-color="#37ffc8"/><stop offset="0.587" stop-color="#2bffd4"/><stop offset="0.831" stop-color="#2cffd3"/><stop offset="0.983" stop-color="#56ffa9"/><stop offset="0.998" stop-color="#5bffa4"/></linearGradient><linearGradient id="eg50" x1="0" y1="0" x2="0" y2="1"><stop offset="0.000" stop-color="#4fffb0"/><stop offset="0.434" stop-color="#4effb1"/><stop offset="0.457" stop-color="#66ff99"/><stop offset="0.495" stop-color="#d0ff2f"/><stop offset="0.503" stop-color="#d9ff26"/><stop offset="0.511" stop-color="#d4ff2b"/><stop offset="0.526" stop-color="#a4ff5b"/><stop offset="0.549" stop-color="#4bffb4"/><stop offset="0.564" stop-color="#33ffcc"/><stop offset="0.655" stop-color="#2affd5"/><stop offset="0.838" stop-color="#2dffd2"/><stop offset="0.998" stop-color="#5bffa4"/></linearGradient><linearGradient id="eg51" x1="0" y1="0" x2="0" y2="1"><stop offset="0.000" stop-color="#4fffb0"/><stop offset="0.434" stop-color="#4cffb3"/><stop offset="0.457" stop-color="#61ff9e"/><stop offset="0.480" stop-color="#9cff63"/><stop offset="0.495" stop-color="#c8ff37"/><stop offset="0.511" stop-color="#d6ff29"/><stop offset="0.518" stop-color="#c9ff36"/><stop offset="0.549" stop-color="#54ffab"/><stop offset="0.564" stop-color="#36ffc9"/><stop offset="0.602" stop-color="#2bffd4"/><stop offset="0.838" stop-color="#2dffd2"/><stop offset="0.998" stop-color="#5bffa4"/></linearGradient><linearGradient id="eg52" x1="0" y1="0" x2="0" y2="1"><stop offset="0.000" stop-color="#4fffb0"/><stop offset="0.442" stop-color="#4effb1"/><stop offset="0.465" stop-color="#68ff97"/><stop offset="0.503" stop-color="#ceff31"/><stop offset="0.511" stop-color="#d4ff2b"/><stop offset="0.518" stop-color="#cdff32"/><stop offset="0.534" stop-color="#9cff63"/><stop offset="0.549" stop-color="#5effa1"/><stop offset="0.564" stop-color="#39ffc6"/><stop offset="0.595" stop-color="#2cffd3"/><stop offset="0.838" stop-color="#2dffd2"/><stop offset="0.998" stop-color="#5bffa4"/></linearGradient><linearGradient id="eg53" x1="0" y1="0" x2="0" y2="1"><stop offset="0.000" stop-color="#4fffb0"/><stop offset="0.442" stop-color="#4dffb2"/><stop offset="0.465" stop-color="#62ff9d"/><stop offset="0.503" stop-color="#c6ff39"/><stop offset="0.511" stop-color="#d1ff2e"/><stop offset="0.518" stop-color="#d0ff2f"/><stop offset="0.526" stop-color="#c1ff3e"/><stop offset="0.556" stop-color="#4fffb0"/><stop offset="0.572" stop-color="#34ffcb"/><stop offset="0.648" stop-color="#2affd5"/><stop offset="0.838" stop-color="#2cffd3"/><stop offset="0.998" stop-color="#5bffa4"/></linearGradient><linearGradient id="eg54" x1="0" y1="0" x2="0" y2="1"><stop offset="0.000" stop-color="#4fffb0"/><stop offset="0.450" stop-color="#4fffb0"/><stop offset="0.473" stop-color="#6aff95"/><stop offset="0.503" stop-color="#beff41"/><stop offset="0.518" stop-color="#cfff30"/><stop offset="0.526" stop-color="#c6ff39"/><stop offset="0.541" stop-color="#93ff6c"/><stop offset="0.556" stop-color="#58ffa7"/><stop offset="0.572" stop-color="#37ffc8"/><stop offset="0.617" stop-color="#2bffd4"/><stop offset="0.846" stop-color="#2dffd2"/><stop offset="0.998" stop-color="#5bffa4"/></linearGradient><linearGradient id="eg55" x1="0" y1="0" x2="0" y2="1"><stop offset="0.000" stop-color="#4fffb0"/><stop offset="0.450" stop-color="#4dffb2"/><stop offset="0.473" stop-color="#64ff9b"/><stop offset="0.511" stop-color="#c4ff3b"/><stop offset="0.518" stop-color="#ccff33"/><stop offset="0.526" stop-color="#c9ff36"/><stop offset="0.541" stop-color="#9eff61"/><stop offset="0.564" stop-color="#4affb5"/><stop offset="0.579" stop-color="#33ffcc"/><stop offset="0.671" stop-color="#2affd5"/><stop offset="0.846" stop-color="#2dffd2"/><stop offset="0.998" stop-color="#5bffa4"/></linearGradient><linearGradient id="eg56" x1="0" y1="0" x2="0" y2="1"><stop offset="0.000" stop-color="#4fffb0"/><stop offset="0.457" stop-color="#4fffb0"/><stop offset="0.480" stop-color="#6cff93"/><stop offset="0.511" stop-color="#bcff43"/><stop offset="0.526" stop-color="#caff35"/><stop offset="0.541" stop-color="#a8ff57"/><stop offset="0.564" stop-color="#53ffac"/><stop offset="0.579" stop-color="#35ffca"/><stop offset="0.625" stop-color="#2bffd4"/><stop offset="0.846" stop-color="#2cffd3"/><stop offset="0.998" stop-color="#5bffa4"/></linearGradient><linearGradient id="eg57" x1="0" y1="0" x2="0" y2="1"><stop offset="0.000" stop-color="#4fffb0"/><stop offset="0.457" stop-color="#4effb1"/><stop offset="0.480" stop-color="#65ff9a"/><stop offset="0.518" stop-color="#c2ff3d"/><stop offset="0.526" stop-color="#c8ff37"/><stop offset="0.534" stop-color="#c2ff3d"/><stop offset="0.549" stop-color="#95ff6a"/><stop offset="0.572" stop-color="#45ffba"/><stop offset="0.595" stop-color="#2effd1"/><stop offset="0.846" stop-color="#2cffd3"/><stop offset="0.998" stop-color="#5bffa4"/></linearGradient><linearGradient id="eg58" x1="0" y1="0" x2="0" y2="1"><stop offset="0.000" stop-color="#4fffb0"/><stop offset="0.457" stop-color="#4cffb3"/><stop offset="0.480" stop-color="#5fffa0"/><stop offset="0.518" stop-color="#bbff44"/><stop offset="0.534" stop-color="#c4ff3b"/><stop offset="0.541" stop-color="#b7ff48"/><stop offset="0.572" stop-color="#4dffb2"/><stop offset="0.587" stop-color="#34ffcb"/><stop offset="0.663" stop-color="#2affd5"/><stop offset="0.854" stop-color="#2dffd2"/><stop offset="0.998" stop-color="#5bffa4"/></linearGradient><linearGradient id="eg59" x1="0" y1="0" x2="0" y2="1"><stop offset="0.000" stop-color="#4fffb0"/><stop offset="0.465" stop-color="#4effb1"/><stop offset="0.488" stop-color="#66ff99"/><stop offset="0.526" stop-color="#bfff40"/><stop offset="0.534" stop-color="#c3ff3c"/><stop offset="0.541" stop-color="#bbff44"/><stop offset="0.556" stop-color="#8dff72"/><stop offset="0.579" stop-color="#42ffbd"/><stop offset="0.602" stop-color="#2effd1"/><stop offset="0.854" stop-color="#2cffd3"/><stop offset="0.998" stop-color="#5bffa4"/></linearGradient><linearGradient id="eg60" x1="0" y1="0" x2="0" y2="1"><stop offset="0.000" stop-color="#4fffb0"/><stop offset="0.465" stop-color="#4effb1"/><stop offset="0.488" stop-color="#65ff9a"/><stop offset="0.526" stop-color="#bdff42"/><stop offset="0.534" stop-color="#c2ff3d"/><stop offset="0.541" stop-color="#bcff43"/><stop offset="0.556" stop-color="#90ff6f"/><stop offset="0.579" stop-color="#43ffbc"/><stop offset="0.602" stop-color="#2effd1"/><stop offset="0.854" stop-color="#2cffd3"/><stop offset="0.998" stop-color="#5bffa4"/></linearGradient><linearGradient id="eg61" x1="0" y1="0" x2="0" y2="1"><stop offset="0.000" stop-color="#4fffb0"/><stop offset="0.465" stop-color="#4effb1"/><stop offset="0.488" stop-color="#65ff9a"/><stop offset="0.526" stop-color="#bdff42"/><stop offset="0.534" stop-color="#c2ff3d"/><stop offset="0.541" stop-color="#bcff43"/><stop offset="0.556" stop-color="#90ff6f"/><stop offset="0.579" stop-color="#43ffbc"/><stop offset="0.602" stop-color="#2effd1"/><stop offset="0.854" stop-color="#2cffd3"/><stop offset="0.998" stop-color="#5bffa4"/></linearGradient><clipPath id="egc"><rect x="61.5" y="291.6" width="172.8" height="131.2"/></clipPath><filter id="egb" x="-5%" y="-5%" width="110%" height="110%"><feGaussianBlur stdDeviation="1.5 0"/></filter></defs>
<g clip-path="url(#egc)"><g filter="url(#egb)" shape-rendering="crispEdges"><rect x="55" y="291.6" width="3" height="131.2" fill="url(#eg0)"/><rect x="58" y="291.6" width="3" height="131.2" fill="url(#eg1)"/><rect x="61" y="291.6" width="3" height="131.2" fill="url(#eg2)"/><rect x="64" y="291.6" width="3" height="131.2" fill="url(#eg3)"/><rect x="67" y="291.6" width="3" height="131.2" fill="url(#eg4)"/><rect x="70" y="291.6" width="3" height="131.2" fill="url(#eg5)"/><rect x="73" y="291.6" width="3" height="131.2" fill="url(#eg6)"/><rect x="76" y="291.6" width="3" height="131.2" fill="url(#eg7)"/><rect x="79" y="291.6" width="3" height="131.2" fill="url(#eg8)"/><rect x="82" y="291.6" width="3" height="131.2" fill="url(#eg9)"/><rect x="85" y="291.6" width="3" height="131.2" fill="url(#eg10)"/><rect x="88" y="291.6" width="3" height="131.2" fill="url(#eg11)"/><rect x="91" y="291.6" width="3" height="131.2" fill="url(#eg12)"/><rect x="94" y="291.6" width="3" height="131.2" fill="url(#eg13)"/><rect x="97" y="291.6" width="3" height="131.2" fill="url(#eg14)"/><rect x="100" y="291.6" width="3" height="131.2" fill="url(#eg15)"/><rect x="103" y="291.6" width="3" height="131.2" fill="url(#eg16)"/><rect x="106" y="291.6" width="3" height="131.2" fill="url(#eg17)"/><rect x="109" y="291.6" width="3" height="131.2" fill="url(#eg18)"/><rect x="112" y="291.6" width="3" height="131.2" fill="url(#eg19)"/><rect x="115" y="291.6" width="3" height="131.2" fill="url(#eg20)"/><rect x="118" y="291.6" width="3" height="131.2" fill="url(#eg21)"/><rect x="121" y="291.6" width="3" height="131.2" fill="url(#eg22)"/><rect x="124" y="291.6" width="3" height="131.2" fill="url(#eg23)"/><rect x="127" y="291.6" width="3" height="131.2" fill="url(#eg24)"/><rect x="130" y="291.6" width="3" height="131.2" fill="url(#eg25)"/><rect x="133" y="291.6" width="3" height="131.2" fill="url(#eg26)"/><rect x="136" y="291.6" width="3" height="131.2" fill="url(#eg27)"/><rect x="139" y="291.6" width="3" height="131.2" fill="url(#eg28)"/><rect x="142" y="291.6" width="3" height="131.2" fill="url(#eg29)"/><rect x="145" y="291.6" width="3" height="131.2" fill="url(#eg30)"/><rect x="148" y="291.6" width="3" height="131.2" fill="url(#eg31)"/><rect x="151" y="291.6" width="3" height="131.2" fill="url(#eg32)"/><rect x="154" y="291.6" width="3" height="131.2" fill="url(#eg33)"/><rect x="157" y="291.6" width="3" height="131.2" fill="url(#eg34)"/><rect x="160" y="291.6" width="3" height="131.2" fill="url(#eg35)"/><rect x="163" y="291.6" width="3" height="131.2" fill="url(#eg36)"/><rect x="166" y="291.6" width="3" height="131.2" fill="url(#eg37)"/><rect x="169" y="291.6" width="3" height="131.2" fill="url(#eg38)"/><rect x="172" y="291.6" width="3" height="131.2" fill="url(#eg39)"/><rect x="175" y="291.6" width="3" height="131.2" fill="url(#eg40)"/><rect x="178" y="291.6" width="3" height="131.2" fill="url(#eg41)"/><rect x="181" y="291.6" width="3" height="131.2" fill="url(#eg42)"/><rect x="184" y="291.6" width="3" height="131.2" fill="url(#eg43)"/><rect x="187" y="291.6" width="3" height="131.2" fill="url(#eg44)"/><rect x="190" y="291.6" width="3" height="131.2" fill="url(#eg45)"/><rect x="193" y="291.6" width="3" height="131.2" fill="url(#eg46)"/><rect x="196" y="291.6" width="3" height="131.2" fill="url(#eg47)"/><rect x="199" y="291.6" width="3" height="131.2" fill="url(#eg48)"/><rect x="202" y="291.6" width="3" height="131.2" fill="url(#eg49)"/><rect x="205" y="291.6" width="3" height="131.2" fill="url(#eg50)"/><rect x="208" y="291.6" width="3" height="131.2" fill="url(#eg51)"/><rect x="211" y="291.6" width="3" height="131.2" fill="url(#eg52)"/><rect x="214" y="291.6" width="3" height="131.2" fill="url(#eg53)"/><rect x="217" y="291.6" width="3" height="131.2" fill="url(#eg54)"/><rect x="220" y="291.6" width="3" height="131.2" fill="url(#eg55)"/><rect x="223" y="291.6" width="3" height="131.2" fill="url(#eg56)"/><rect x="226" y="291.6" width="3" height="131.2" fill="url(#eg57)"/><rect x="229" y="291.6" width="3" height="131.2" fill="url(#eg58)"/><rect x="232" y="291.6" width="3" height="131.2" fill="url(#eg59)"/><rect x="235" y="291.6" width="3" height="131.2" fill="url(#eg60)"/><rect x="238" y="291.6" width="3" height="131.2" fill="url(#eg61)"/></g></g>
<rect x="61.5" y="291.6" width="172.8" height="131.2" fill="none" stroke="#000" stroke-width="1.3"/>
<text x="60.2" y="295.6" font-size="10.2" font-weight="bold" fill="#000" text-anchor="end">600</text>
<text x="60.2" y="320.90000000000003" font-size="10.2" font-weight="bold" fill="#000" text-anchor="end">560</text>
<text x="60.2" y="347.1" font-size="10.2" font-weight="bold" fill="#000" text-anchor="end">520</text>
<text x="60.2" y="373.6" font-size="10.2" font-weight="bold" fill="#000" text-anchor="end">480</text>
<text x="60.2" y="400.0" font-size="10.2" font-weight="bold" fill="#000" text-anchor="end">440</text>
<text x="60.2" y="426.0" font-size="10.2" font-weight="bold" fill="#000" text-anchor="end">400</text>
<text x="62.4" y="434.4" font-size="10.2" font-weight="bold" fill="#000" text-anchor="middle">25</text>
<text x="99.8" y="434.4" font-size="10.2" font-weight="bold" fill="#000" text-anchor="middle">75</text>
<text x="141.9" y="434.4" font-size="10.2" font-weight="bold" fill="#000" text-anchor="middle">125</text>
<text x="184" y="434.4" font-size="10.2" font-weight="bold" fill="#000" text-anchor="middle">175</text>
<text x="226.4" y="434.4" font-size="10.2" font-weight="bold" fill="#000" text-anchor="middle">225</text>
<path d="M61.5,317.3h3M61.5,343.5h3M61.5,370h3M61.5,396.4h3M99.8,422.8v-3M141.9,422.8v-3M184,422.8v-3M226.6,422.8v-3" stroke="#000" stroke-width="1" fill="none"/>
<text x="38.5" y="356.5" font-size="11.2" font-weight="bold" fill="#000" text-anchor="middle" transform="rotate(-90 38.5 356.5)">Wavelength (nm)</text>
<text x="148.5" y="444.2" font-size="11" font-weight="bold" fill="#000" text-anchor="middle">Temperature (<tspan font-family="Noto Serif CJK SC, serif" font-weight="700">℃</tspan>)</text>
<text x="191.2" y="306.3" font-size="10.1" font-weight="bold" fill="#8a2a0e" text-anchor="middle" font-style="italic">Reflectance</text>
<text x="25.8" y="289.6" font-size="14" font-weight="normal" fill="#000" text-anchor="start">(E)</text>
<defs><linearGradient id="fg0" x1="0" y1="0" x2="0" y2="1"><stop offset="0.000" stop-color="#0632fa"/><stop offset="0.205" stop-color="#0632fa"/><stop offset="0.274" stop-color="#0549fb"/><stop offset="0.312" stop-color="#0465fb"/><stop offset="0.342" stop-color="#0393fd"/><stop offset="0.373" stop-color="#01e1fe"/><stop offset="0.380" stop-color="#00f8ff"/><stop offset="0.388" stop-color="#00fee8"/><stop offset="0.433" stop-color="#00f004"/><stop offset="0.449" stop-color="#4ff500"/><stop offset="0.479" stop-color="#fff900"/><stop offset="0.510" stop-color="#ff9400"/><stop offset="0.540" stop-color="#fa180a"/><stop offset="0.601" stop-color="#fa140a"/><stop offset="0.616" stop-color="#fc4e05"/><stop offset="0.654" stop-color="#fffd00"/><stop offset="0.669" stop-color="#69f600"/><stop offset="0.677" stop-color="#00f114"/><stop offset="0.684" stop-color="#00f888"/><stop offset="0.692" stop-color="#00fee7"/><stop offset="0.700" stop-color="#01d4fe"/><stop offset="0.707" stop-color="#038cfc"/><stop offset="0.722" stop-color="#0539fa"/><stop offset="0.730" stop-color="#062afa"/><stop offset="0.821" stop-color="#041bf6"/><stop offset="0.996" stop-color="#0315f3"/></linearGradient><linearGradient id="fg1" x1="0" y1="0" x2="0" y2="1"><stop offset="0.000" stop-color="#0632fa"/><stop offset="0.205" stop-color="#0632fa"/><stop offset="0.274" stop-color="#0549fb"/><stop offset="0.312" stop-color="#0465fb"/><stop offset="0.342" stop-color="#0393fd"/><stop offset="0.373" stop-color="#01e1fe"/><stop offset="0.380" stop-color="#00f8ff"/><stop offset="0.388" stop-color="#00fee8"/><stop offset="0.433" stop-color="#00f004"/><stop offset="0.449" stop-color="#4ff500"/><stop offset="0.479" stop-color="#fff900"/><stop offset="0.510" stop-color="#ff9400"/><stop offset="0.540" stop-color="#fa180a"/><stop offset="0.601" stop-color="#fa140a"/><stop offset="0.616" stop-color="#fc4e05"/><stop offset="0.654" stop-color="#fffd00"/><stop offset="0.669" stop-color="#69f600"/><stop offset="0.677" stop-color="#00f114"/><stop offset="0.684" stop-color="#00f888"/><stop offset="0.692" stop-color="#00fee7"/><stop offset="0.700" stop-color="#01d4fe"/><stop offset="0.707" stop-color="#038cfc"/><stop offset="0.722" stop-color="#0539fa"/><stop offset="0.730" stop-color="#062afa"/><stop offset="0.821" stop-color="#041bf6"/><stop offset="0.996" stop-color="#0315f3"/></linearGradient><linearGradient id="fg2" x1="0" y1="0" x2="0" y2="1"><stop offset="0.000" stop-color="#0632fa"/><stop offset="0.205" stop-color="#0632fa"/><stop offset="0.274" stop-color="#0548fb"/><stop offset="0.319" stop-color="#046ffc"/><stop offset="0.350" stop-color="#03a4fd"/><stop offset="0.380" stop-color="#00f7ff"/><stop offset="0.388" stop-color="#00fee9"/><stop offset="0.433" stop-color="#00f005"/><stop offset="0.449" stop-color="#4cf400"/><stop offset="0.479" stop-color="#fffb00"/><stop offset="0.510" stop-color="#ff9700"/><stop offset="0.540" stop-color="#fa1e09"/><stop offset="0.555" stop-color="#fa140a"/><stop offset="0.601" stop-color="#fa190a"/><stop offset="0.616" stop-color="#fd5305"/><stop offset="0.654" stop-color="#ffff00"/><stop offset="0.669" stop-color="#66f600"/><stop offset="0.677" stop-color="#00f116"/><stop offset="0.684" stop-color="#00f889"/><stop offset="0.692" stop-color="#00fee8"/><stop offset="0.700" stop-color="#01d4fe"/><stop offset="0.707" stop-color="#038cfc"/><stop offset="0.722" stop-color="#0539fa"/><stop offset="0.730" stop-color="#062afa"/><stop offset="0.821" stop-color="#041bf6"/><stop offset="0.996" stop-color="#0315f3"/></linearGradient><linearGradient id="fg3" x1="0" y1="0" x2="0" y2="1"><stop offset="0.000" stop-color="#0632fa"/><stop offset="0.205" stop-color="#0632fa"/><stop offset="0.274" stop-color="#0547fb"/><stop offset="0.319" stop-color="#046dfc"/><stop offset="0.350" stop-color="#03a1fd"/><stop offset="0.380" stop-color="#00f4ff"/><stop offset="0.388" stop-color="#00feee"/><stop offset="0.433" stop-color="#00f10a"/><stop offset="0.441" stop-color="#1cf200"/><stop offset="0.471" stop-color="#c7fc00"/><stop offset="0.479" stop-color="#faff00"/><stop offset="0.510" stop-color="#ffa200"/><stop offset="0.540" stop-color="#fb3108"/><stop offset="0.548" stop-color="#fa1b09"/><stop offset="0.570" stop-color="#fa140a"/><stop offset="0.593" stop-color="#fa180a"/><stop offset="0.616" stop-color="#fd6303"/><stop offset="0.646" stop-color="#ffe500"/><stop offset="0.654" stop-color="#f0fe00"/><stop offset="0.669" stop-color="#5bf500"/><stop offset="0.677" stop-color="#00f21c"/><stop offset="0.684" stop-color="#00f88e"/><stop offset="0.692" stop-color="#00feeb"/><stop offset="0.700" stop-color="#01d5fe"/><stop offset="0.707" stop-color="#038efc"/><stop offset="0.722" stop-color="#053afa"/><stop offset="0.730" stop-color="#062afa"/><stop offset="0.821" stop-color="#041bf6"/><stop offset="0.996" stop-color="#0315f3"/></linearGradient><linearGradient id="fg4" x1="0" y1="0" x2="0" y2="1"><stop offset="0.000" stop-color="#0632fa"/><stop offset="0.213" stop-color="#0633fa"/><stop offset="0.274" stop-color="#0546fb"/><stop offset="0.319" stop-color="#046cfc"/><stop offset="0.342" stop-color="#038dfc"/><stop offset="0.373" stop-color="#01dafe"/><stop offset="0.380" stop-color="#00f1ff"/><stop offset="0.388" stop-color="#00fef2"/><stop offset="0.433" stop-color="#00f10f"/><stop offset="0.441" stop-color="#16f100"/><stop offset="0.471" stop-color="#bbfb00"/><stop offset="0.479" stop-color="#edfe00"/><stop offset="0.487" stop-color="#fff100"/><stop offset="0.525" stop-color="#fe7702"/><stop offset="0.548" stop-color="#fb3008"/><stop offset="0.563" stop-color="#fa160a"/><stop offset="0.578" stop-color="#fa140a"/><stop offset="0.593" stop-color="#fb2c08"/><stop offset="0.616" stop-color="#fe7402"/><stop offset="0.646" stop-color="#ffed00"/><stop offset="0.654" stop-color="#e0fd00"/><stop offset="0.669" stop-color="#51f500"/><stop offset="0.677" stop-color="#00f221"/><stop offset="0.684" stop-color="#00f992"/><stop offset="0.692" stop-color="#00feed"/><stop offset="0.700" stop-color="#01d6fe"/><stop offset="0.707" stop-color="#0390fc"/><stop offset="0.722" stop-color="#053cfa"/><stop offset="0.730" stop-color="#0629fa"/><stop offset="0.844" stop-color="#041af5"/><stop offset="0.996" stop-color="#0315f3"/></linearGradient><linearGradient id="fg5" x1="0" y1="0" x2="0" y2="1"><stop offset="0.000" stop-color="#0632fa"/><stop offset="0.213" stop-color="#0633fa"/><stop offset="0.281" stop-color="#054bfb"/><stop offset="0.319" stop-color="#046afc"/><stop offset="0.342" stop-color="#038bfc"/><stop offset="0.373" stop-color="#01d8fe"/><stop offset="0.388" stop-color="#00fef6"/><stop offset="0.433" stop-color="#00f114"/><stop offset="0.441" stop-color="#10f100"/><stop offset="0.471" stop-color="#affa00"/><stop offset="0.479" stop-color="#defd00"/><stop offset="0.487" stop-color="#fff800"/><stop offset="0.548" stop-color="#fc4506"/><stop offset="0.563" stop-color="#fb2d08"/><stop offset="0.578" stop-color="#fb2c08"/><stop offset="0.593" stop-color="#fc4206"/><stop offset="0.616" stop-color="#ff8501"/><stop offset="0.646" stop-color="#fff500"/><stop offset="0.654" stop-color="#d0fc00"/><stop offset="0.669" stop-color="#47f400"/><stop offset="0.677" stop-color="#00f227"/><stop offset="0.684" stop-color="#00f996"/><stop offset="0.692" stop-color="#00fef0"/><stop offset="0.700" stop-color="#01d7fe"/><stop offset="0.707" stop-color="#0392fc"/><stop offset="0.722" stop-color="#053dfb"/><stop offset="0.730" stop-color="#0629fa"/><stop offset="0.844" stop-color="#041af5"/><stop offset="0.996" stop-color="#0316f3"/></linearGradient><linearGradient id="fg6" x1="0" y1="0" x2="0" y2="1"><stop offset="0.000" stop-color="#0632fa"/><stop offset="0.213" stop-color="#0633fa"/><stop offset="0.281" stop-color="#054afb"/><stop offset="0.319" stop-color="#0469fc"/><stop offset="0.350" stop-color="#039afd"/><stop offset="0.388" stop-color="#00fffa"/><stop offset="0.433" stop-color="#00f119"/><stop offset="0.441" stop-color="#0af100"/><stop offset="0.479" stop-color="#d0fc00"/><stop offset="0.487" stop-color="#ffff00"/><stop offset="0.548" stop-color="#fd5b04"/><stop offset="0.563" stop-color="#fc4406"/><stop offset="0.578" stop-color="#fc4306"/><stop offset="0.601" stop-color="#fe6903"/><stop offset="0.639" stop-color="#ffe000"/><stop offset="0.646" stop-color="#fffe00"/><stop offset="0.669" stop-color="#3df400"/><stop offset="0.677" stop-color="#00f32c"/><stop offset="0.684" stop-color="#00f99a"/><stop offset="0.692" stop-color="#00fef2"/><stop offset="0.700" stop-color="#01d8fe"/><stop offset="0.707" stop-color="#0393fd"/><stop offset="0.715" stop-color="#0463fb"/><stop offset="0.722" stop-color="#053efb"/><stop offset="0.730" stop-color="#0628fa"/><stop offset="0.852" stop-color="#041af5"/><stop offset="0.996" stop-color="#0316f4"/></linearGradient><linearGradient id="fg7" x1="0" y1="0" x2="0" y2="1"><stop offset="0.000" stop-color="#0632fa"/><stop offset="0.213" stop-color="#0632fa"/><stop offset="0.281" stop-color="#0549fb"/><stop offset="0.319" stop-color="#0467fc"/><stop offset="0.350" stop-color="#0398fd"/><stop offset="0.380" stop-color="#01eaff"/><stop offset="0.388" stop-color="#00ffff"/><stop offset="0.433" stop-color="#00f21d"/><stop offset="0.441" stop-color="#05f000"/><stop offset="0.479" stop-color="#c4fc00"/><stop offset="0.487" stop-color="#f1fe00"/><stop offset="0.494" stop-color="#fff300"/><stop offset="0.548" stop-color="#fe6e03"/><stop offset="0.563" stop-color="#fd5804"/><stop offset="0.578" stop-color="#fd5704"/><stop offset="0.601" stop-color="#fe7b01"/><stop offset="0.631" stop-color="#ffd000"/><stop offset="0.639" stop-color="#ffe800"/><stop offset="0.646" stop-color="#f2fe00"/><stop offset="0.669" stop-color="#34f300"/><stop offset="0.677" stop-color="#00f330"/><stop offset="0.684" stop-color="#00f99d"/><stop offset="0.692" stop-color="#00fef3"/><stop offset="0.700" stop-color="#01dafe"/><stop offset="0.707" stop-color="#0395fd"/><stop offset="0.715" stop-color="#0464fb"/><stop offset="0.722" stop-color="#053ffb"/><stop offset="0.730" stop-color="#0628fa"/><stop offset="0.852" stop-color="#041af5"/><stop offset="0.996" stop-color="#0316f4"/></linearGradient><linearGradient id="fg8" x1="0" y1="0" x2="0" y2="1"><stop offset="0.000" stop-color="#0632fa"/><stop offset="0.213" stop-color="#0632fa"/><stop offset="0.281" stop-color="#0548fb"/><stop offset="0.319" stop-color="#0466fb"/><stop offset="0.350" stop-color="#0396fd"/><stop offset="0.380" stop-color="#01e7fe"/><stop offset="0.388" stop-color="#00fdff"/><stop offset="0.433" stop-color="#00f221"/><stop offset="0.441" stop-color="#00f000"/><stop offset="0.479" stop-color="#b9fb00"/><stop offset="0.487" stop-color="#e5fd00"/><stop offset="0.494" stop-color="#fffa00"/><stop offset="0.540" stop-color="#ff8e00"/><stop offset="0.563" stop-color="#fe6b03"/><stop offset="0.586" stop-color="#fe7102"/><stop offset="0.616" stop-color="#ffac00"/><stop offset="0.639" stop-color="#fff000"/><stop offset="0.646" stop-color="#e3fd00"/><stop offset="0.669" stop-color="#2df300"/><stop offset="0.677" stop-color="#00f334"/><stop offset="0.684" stop-color="#00f9a0"/><stop offset="0.692" stop-color="#00fef5"/><stop offset="0.700" stop-color="#01dbfe"/><stop offset="0.707" stop-color="#0397fd"/><stop offset="0.715" stop-color="#0465fb"/><stop offset="0.722" stop-color="#0540fb"/><stop offset="0.730" stop-color="#0628fa"/><stop offset="0.852" stop-color="#041af5"/><stop offset="0.996" stop-color="#0316f4"/></linearGradient><linearGradient id="fg9" x1="0" y1="0" x2="0" y2="1"><stop offset="0.000" stop-color="#0632fa"/><stop offset="0.221" stop-color="#0633fa"/><stop offset="0.281" stop-color="#0547fb"/><stop offset="0.327" stop-color="#046ffc"/><stop offset="0.350" stop-color="#0394fd"/><stop offset="0.380" stop-color="#01e5fe"/><stop offset="0.388" stop-color="#00fbff"/><stop offset="0.411" stop-color="#00f993"/><stop offset="0.433" stop-color="#00f225"/><stop offset="0.441" stop-color="#00f004"/><stop offset="0.479" stop-color="#aefa00"/><stop offset="0.494" stop-color="#fcff00"/><stop offset="0.540" stop-color="#ff9b00"/><stop offset="0.563" stop-color="#fe7d01"/><stop offset="0.586" stop-color="#ff8301"/><stop offset="0.616" stop-color="#ffb700"/><stop offset="0.639" stop-color="#fff700"/><stop offset="0.646" stop-color="#d4fc00"/><stop offset="0.669" stop-color="#26f200"/><stop offset="0.677" stop-color="#00f337"/><stop offset="0.684" stop-color="#00faa2"/><stop offset="0.692" stop-color="#00fef5"/><stop offset="0.700" stop-color="#01ddfe"/><stop offset="0.707" stop-color="#039afd"/><stop offset="0.715" stop-color="#0466fb"/><stop offset="0.730" stop-color="#0628fa"/><stop offset="0.852" stop-color="#041af5"/><stop offset="0.996" stop-color="#0316f4"/></linearGradient><linearGradient id="fg10" x1="0" y1="0" x2="0" y2="1"><stop offset="0.000" stop-color="#0632fa"/><stop offset="0.221" stop-color="#0633fa"/><stop offset="0.281" stop-color="#0546fb"/><stop offset="0.319" stop-color="#0462fb"/><stop offset="0.350" stop-color="#0391fc"/><stop offset="0.380" stop-color="#01e2fe"/><stop offset="0.388" stop-color="#00faff"/><stop offset="0.395" stop-color="#00fde4"/><stop offset="0.433" stop-color="#00f229"/><stop offset="0.441" stop-color="#00f008"/><stop offset="0.449" stop-color="#1af200"/><stop offset="0.479" stop-color="#a4fa00"/><stop offset="0.494" stop-color="#effe00"/><stop offset="0.502" stop-color="#fff600"/><stop offset="0.540" stop-color="#ffa600"/><stop offset="0.563" stop-color="#ff8c00"/><stop offset="0.586" stop-color="#ff9100"/><stop offset="0.616" stop-color="#ffc100"/><stop offset="0.639" stop-color="#fffd00"/><stop offset="0.669" stop-color="#20f200"/><stop offset="0.677" stop-color="#00f339"/><stop offset="0.684" stop-color="#00faa4"/><stop offset="0.692" stop-color="#00fef6"/><stop offset="0.700" stop-color="#01dffe"/><stop offset="0.707" stop-color="#039cfd"/><stop offset="0.715" stop-color="#0468fc"/><stop offset="0.730" stop-color="#0628fa"/><stop offset="0.837" stop-color="#041bf6"/><stop offset="0.996" stop-color="#0316f4"/></linearGradient><linearGradient id="fg11" x1="0" y1="0" x2="0" y2="1"><stop offset="0.000" stop-color="#0632fa"/><stop offset="0.221" stop-color="#0633fa"/><stop offset="0.289" stop-color="#054bfb"/><stop offset="0.327" stop-color="#046cfc"/><stop offset="0.357" stop-color="#03a1fd"/><stop offset="0.388" stop-color="#00f7ff"/><stop offset="0.395" stop-color="#00fee8"/><stop offset="0.433" stop-color="#00f32d"/><stop offset="0.441" stop-color="#00f10d"/><stop offset="0.449" stop-color="#16f100"/><stop offset="0.479" stop-color="#9bf900"/><stop offset="0.494" stop-color="#e3fd00"/><stop offset="0.502" stop-color="#fffc00"/><stop offset="0.540" stop-color="#ffb100"/><stop offset="0.563" stop-color="#ff9800"/><stop offset="0.586" stop-color="#ff9c00"/><stop offset="0.616" stop-color="#ffca00"/><stop offset="0.631" stop-color="#fff000"/><stop offset="0.639" stop-color="#f5fe00"/><stop offset="0.669" stop-color="#1af200"/><stop offset="0.677" stop-color="#00f33b"/><stop offset="0.684" stop-color="#00faa5"/><stop offset="0.692" stop-color="#00fef6"/><stop offset="0.700" stop-color="#01e0fe"/><stop offset="0.707" stop-color="#039efd"/><stop offset="0.715" stop-color="#0469fc"/><stop offset="0.730" stop-color="#0627fa"/><stop offset="0.890" stop-color="#0419f5"/><stop offset="0.996" stop-color="#0316f4"/></linearGradient><linearGradient id="fg12" x1="0" y1="0" x2="0" y2="1"><stop offset="0.000" stop-color="#0632fa"/><stop offset="0.221" stop-color="#0632fa"/><stop offset="0.289" stop-color="#054afb"/><stop offset="0.327" stop-color="#046bfc"/><stop offset="0.357" stop-color="#039ffd"/><stop offset="0.388" stop-color="#00f5ff"/><stop offset="0.395" stop-color="#00feec"/><stop offset="0.433" stop-color="#00f330"/><stop offset="0.441" stop-color="#00f111"/><stop offset="0.449" stop-color="#11f100"/><stop offset="0.502" stop-color="#f8ff00"/><stop offset="0.525" stop-color="#ffd400"/><stop offset="0.555" stop-color="#ffa900"/><stop offset="0.578" stop-color="#ffa400"/><stop offset="0.601" stop-color="#ffb900"/><stop offset="0.631" stop-color="#fff600"/><stop offset="0.639" stop-color="#e7fe00"/><stop offset="0.669" stop-color="#14f100"/><stop offset="0.677" stop-color="#00f43c"/><stop offset="0.684" stop-color="#00faa6"/><stop offset="0.692" stop-color="#00fef6"/><stop offset="0.700" stop-color="#01e1fe"/><stop offset="0.707" stop-color="#03a0fd"/><stop offset="0.715" stop-color="#046afc"/><stop offset="0.730" stop-color="#0627fa"/><stop offset="0.890" stop-color="#0419f5"/><stop offset="0.996" stop-color="#0316f4"/></linearGradient><linearGradient id="fg13" x1="0" y1="0" x2="0" y2="1"><stop offset="0.000" stop-color="#0632fa"/><stop offset="0.221" stop-color="#0632fa"/><stop offset="0.289" stop-color="#0549fb"/><stop offset="0.327" stop-color="#0469fc"/><stop offset="0.357" stop-color="#039dfd"/><stop offset="0.380" stop-color="#01dafe"/><stop offset="0.388" stop-color="#00f2ff"/><stop offset="0.395" stop-color="#00fef0"/><stop offset="0.433" stop-color="#00f334"/><stop offset="0.441" stop-color="#00f114"/><stop offset="0.449" stop-color="#0cf100"/><stop offset="0.502" stop-color="#ebfe00"/><stop offset="0.510" stop-color="#fffa00"/><stop offset="0.540" stop-color="#ffc500"/><stop offset="0.570" stop-color="#ffae00"/><stop offset="0.593" stop-color="#ffba00"/><stop offset="0.624" stop-color="#ffec00"/><stop offset="0.631" stop-color="#fffd00"/><stop offset="0.639" stop-color="#dafd00"/><stop offset="0.669" stop-color="#0ff100"/><stop offset="0.677" stop-color="#00f43e"/><stop offset="0.684" stop-color="#00faa6"/><stop offset="0.692" stop-color="#00fef6"/><stop offset="0.700" stop-color="#01e1fe"/><stop offset="0.715" stop-color="#046bfc"/><stop offset="0.730" stop-color="#0627fa"/><stop offset="0.890" stop-color="#0419f5"/><stop offset="0.996" stop-color="#0316f4"/></linearGradient><linearGradient id="fg14" x1="0" y1="0" x2="0" y2="1"><stop offset="0.000" stop-color="#0632fa"/><stop offset="0.221" stop-color="#0631fa"/><stop offset="0.289" stop-color="#0548fb"/><stop offset="0.327" stop-color="#0467fc"/><stop offset="0.357" stop-color="#039bfd"/><stop offset="0.380" stop-color="#01d8fe"/><stop offset="0.388" stop-color="#00f0ff"/><stop offset="0.395" stop-color="#00fef4"/><stop offset="0.433" stop-color="#00f337"/><stop offset="0.449" stop-color="#08f000"/><stop offset="0.510" stop-color="#fdff00"/><stop offset="0.548" stop-color="#ffc700"/><stop offset="0.570" stop-color="#ffba00"/><stop offset="0.601" stop-color="#ffcd00"/><stop offset="0.624" stop-color="#fff300"/><stop offset="0.631" stop-color="#f4fe00"/><stop offset="0.639" stop-color="#cdfc00"/><stop offset="0.669" stop-color="#0bf100"/><stop offset="0.677" stop-color="#00f43e"/><stop offset="0.684" stop-color="#00faa5"/><stop offset="0.692" stop-color="#00fef5"/><stop offset="0.700" stop-color="#01e2fe"/><stop offset="0.715" stop-color="#046dfc"/><stop offset="0.730" stop-color="#0627fa"/><stop offset="0.890" stop-color="#0419f5"/><stop offset="0.996" stop-color="#0316f4"/></linearGradient><linearGradient id="fg15" x1="0" y1="0" x2="0" y2="1"><stop offset="0.000" stop-color="#0632fa"/><stop offset="0.228" stop-color="#0633fa"/><stop offset="0.289" stop-color="#0548fb"/><stop offset="0.327" stop-color="#0466fb"/><stop offset="0.357" stop-color="#0399fd"/><stop offset="0.388" stop-color="#00edff"/><stop offset="0.395" stop-color="#00fff8"/><stop offset="0.433" stop-color="#00f33a"/><stop offset="0.449" stop-color="#04f000"/><stop offset="0.510" stop-color="#f0fe00"/><stop offset="0.517" stop-color="#fff800"/><stop offset="0.555" stop-color="#ffc800"/><stop offset="0.586" stop-color="#ffc700"/><stop offset="0.616" stop-color="#ffea00"/><stop offset="0.624" stop-color="#fff900"/><stop offset="0.631" stop-color="#e8fe00"/><stop offset="0.639" stop-color="#c4fc00"/><stop offset="0.669" stop-color="#07f000"/><stop offset="0.677" stop-color="#00f43e"/><stop offset="0.684" stop-color="#00faa3"/><stop offset="0.692" stop-color="#00fef3"/><stop offset="0.700" stop-color="#01e3fe"/><stop offset="0.715" stop-color="#046ffc"/><stop offset="0.730" stop-color="#0629fa"/><stop offset="0.852" stop-color="#041af5"/><stop offset="0.996" stop-color="#0316f4"/></linearGradient><linearGradient id="fg16" x1="0" y1="0" x2="0" y2="1"><stop offset="0.000" stop-color="#0632fa"/><stop offset="0.228" stop-color="#0633fa"/><stop offset="0.289" stop-color="#0547fb"/><stop offset="0.327" stop-color="#0464fb"/><stop offset="0.357" stop-color="#0396fd"/><stop offset="0.395" stop-color="#00fffc"/><stop offset="0.433" stop-color="#00f43d"/><stop offset="0.449" stop-color="#01f000"/><stop offset="0.494" stop-color="#affa00"/><stop offset="0.517" stop-color="#fffe00"/><stop offset="0.555" stop-color="#ffd100"/><stop offset="0.586" stop-color="#ffd000"/><stop offset="0.616" stop-color="#fff000"/><stop offset="0.624" stop-color="#ffff00"/><stop offset="0.639" stop-color="#bafb00"/><stop offset="0.669" stop-color="#04f000"/><stop offset="0.677" stop-color="#00f43d"/><stop offset="0.684" stop-color="#00faa2"/><stop offset="0.692" stop-color="#00fef2"/><stop offset="0.700" stop-color="#01e4fe"/><stop offset="0.715" stop-color="#0470fc"/><stop offset="0.730" stop-color="#062bfa"/><stop offset="0.829" stop-color="#041bf6"/><stop offset="0.996" stop-color="#0316f4"/></linearGradient><linearGradient id="fg17" x1="0" y1="0" x2="0" y2="1"><stop offset="0.000" stop-color="#0632fa"/><stop offset="0.228" stop-color="#0632fa"/><stop offset="0.297" stop-color="#054bfb"/><stop offset="0.335" stop-color="#046efc"/><stop offset="0.357" stop-color="#0394fd"/><stop offset="0.395" stop-color="#00ffff"/><stop offset="0.433" stop-color="#00f440"/><stop offset="0.449" stop-color="#00f003"/><stop offset="0.494" stop-color="#a7fa00"/><stop offset="0.517" stop-color="#f5fe00"/><stop offset="0.532" stop-color="#ffef00"/><stop offset="0.563" stop-color="#ffd600"/><stop offset="0.593" stop-color="#ffde00"/><stop offset="0.616" stop-color="#fff700"/><stop offset="0.624" stop-color="#f2fe00"/><stop offset="0.639" stop-color="#b1fa00"/><stop offset="0.669" stop-color="#01f000"/><stop offset="0.677" stop-color="#00f43c"/><stop offset="0.684" stop-color="#00f9a0"/><stop offset="0.692" stop-color="#00fef0"/><stop offset="0.700" stop-color="#01e5fe"/><stop offset="0.715" stop-color="#0472fc"/><stop offset="0.730" stop-color="#062dfa"/><stop offset="0.753" stop-color="#0623f9"/><stop offset="0.996" stop-color="#0316f4"/></linearGradient><linearGradient id="fg18" x1="0" y1="0" x2="0" y2="1"><stop offset="0.000" stop-color="#0632fa"/><stop offset="0.228" stop-color="#0632fa"/><stop offset="0.297" stop-color="#054afb"/><stop offset="0.335" stop-color="#046bfc"/><stop offset="0.357" stop-color="#038ffc"/><stop offset="0.388" stop-color="#01e3fe"/><stop offset="0.395" stop-color="#00fbff"/><stop offset="0.411" stop-color="#00fbb7"/><stop offset="0.433" stop-color="#00f445"/><stop offset="0.449" stop-color="#00f008"/><stop offset="0.464" stop-color="#37f300"/><stop offset="0.525" stop-color="#fffd00"/><stop offset="0.563" stop-color="#ffdd00"/><stop offset="0.593" stop-color="#ffe500"/><stop offset="0.616" stop-color="#fffc00"/><stop offset="0.639" stop-color="#a9fa00"/><stop offset="0.669" stop-color="#00f001"/><stop offset="0.677" stop-color="#00f33b"/><stop offset="0.684" stop-color="#00f99d"/><stop offset="0.692" stop-color="#00feee"/><stop offset="0.700" stop-color="#01e6fe"/><stop offset="0.707" stop-color="#02b3fd"/><stop offset="0.715" stop-color="#0474fc"/><stop offset="0.730" stop-color="#062ffa"/><stop offset="0.745" stop-color="#0624f9"/><stop offset="0.989" stop-color="#0416f4"/><stop offset="0.996" stop-color="#0316f4"/></linearGradient><linearGradient id="fg19" x1="0" y1="0" x2="0" y2="1"><stop offset="0.000" stop-color="#0632fa"/><stop offset="0.236" stop-color="#0632fa"/><stop offset="0.297" stop-color="#0547fb"/><stop offset="0.335" stop-color="#0466fb"/><stop offset="0.365" stop-color="#039bfd"/><stop offset="0.388" stop-color="#01dbfe"/><stop offset="0.395" stop-color="#00f4ff"/><stop offset="0.403" stop-color="#00feec"/><stop offset="0.441" stop-color="#00f32e"/><stop offset="0.449" stop-color="#00f10f"/><stop offset="0.456" stop-color="#11f100"/><stop offset="0.471" stop-color="#49f400"/><stop offset="0.525" stop-color="#f8ff00"/><stop offset="0.548" stop-color="#ffec00"/><stop offset="0.578" stop-color="#ffe300"/><stop offset="0.616" stop-color="#fbff00"/><stop offset="0.639" stop-color="#a2fa00"/><stop offset="0.669" stop-color="#00f003"/><stop offset="0.677" stop-color="#00f339"/><stop offset="0.684" stop-color="#00f99b"/><stop offset="0.692" stop-color="#00feec"/><stop offset="0.700" stop-color="#01e8fe"/><stop offset="0.707" stop-color="#02b6fd"/><stop offset="0.715" stop-color="#0476fc"/><stop offset="0.730" stop-color="#0632fa"/><stop offset="0.738" stop-color="#0625fa"/><stop offset="0.935" stop-color="#0418f4"/><stop offset="0.996" stop-color="#0316f4"/></linearGradient><linearGradient id="fg20" x1="0" y1="0" x2="0" y2="1"><stop offset="0.000" stop-color="#0632fa"/><stop offset="0.243" stop-color="#0633fa"/><stop offset="0.304" stop-color="#054afb"/><stop offset="0.342" stop-color="#046dfc"/><stop offset="0.365" stop-color="#0394fd"/><stop offset="0.395" stop-color="#01ecff"/><stop offset="0.403" stop-color="#00fff8"/><stop offset="0.441" stop-color="#00f335"/><stop offset="0.456" stop-color="#0af100"/><stop offset="0.471" stop-color="#44f400"/><stop offset="0.502" stop-color="#a7fa00"/><stop offset="0.532" stop-color="#ffff00"/><stop offset="0.570" stop-color="#ffe900"/><stop offset="0.608" stop-color="#fffd00"/><stop offset="0.616" stop-color="#f0fe00"/><stop offset="0.639" stop-color="#9af900"/><stop offset="0.662" stop-color="#22f200"/><stop offset="0.669" stop-color="#00f008"/><stop offset="0.677" stop-color="#00f442"/><stop offset="0.684" stop-color="#00faa4"/><stop offset="0.692" stop-color="#00fef3"/><stop offset="0.700" stop-color="#01e4fe"/><stop offset="0.715" stop-color="#0472fc"/><stop offset="0.730" stop-color="#062efa"/><stop offset="0.745" stop-color="#0624f9"/><stop offset="0.989" stop-color="#0416f4"/><stop offset="0.996" stop-color="#0316f4"/></linearGradient><linearGradient id="fg21" x1="0" y1="0" x2="0" y2="1"><stop offset="0.000" stop-color="#0632fa"/><stop offset="0.243" stop-color="#0632fa"/><stop offset="0.304" stop-color="#0547fb"/><stop offset="0.342" stop-color="#0469fc"/><stop offset="0.365" stop-color="#038dfc"/><stop offset="0.395" stop-color="#01e5fe"/><stop offset="0.403" stop-color="#00fdff"/><stop offset="0.441" stop-color="#00f43d"/><stop offset="0.456" stop-color="#03f000"/><stop offset="0.479" stop-color="#57f500"/><stop offset="0.502" stop-color="#9ff900"/><stop offset="0.532" stop-color="#f3fe00"/><stop offset="0.540" stop-color="#fffd00"/><stop offset="0.578" stop-color="#fff000"/><stop offset="0.601" stop-color="#fffc00"/><stop offset="0.608" stop-color="#f7ff00"/><stop offset="0.624" stop-color="#c8fc00"/><stop offset="0.639" stop-color="#90f800"/><stop offset="0.662" stop-color="#19f100"/><stop offset="0.669" stop-color="#00f111"/><stop offset="0.677" stop-color="#00f557"/><stop offset="0.684" stop-color="#00fbb9"/><stop offset="0.692" stop-color="#00fdff"/><stop offset="0.700" stop-color="#01ddfe"/><stop offset="0.715" stop-color="#0469fc"/><stop offset="0.730" stop-color="#0626fa"/><stop offset="0.920" stop-color="#0418f5"/><stop offset="0.996" stop-color="#0316f4"/></linearGradient><linearGradient id="fg22" x1="0" y1="0" x2="0" y2="1"><stop offset="0.000" stop-color="#0632fa"/><stop offset="0.251" stop-color="#0633fa"/><stop offset="0.312" stop-color="#054afb"/><stop offset="0.350" stop-color="#0470fc"/><stop offset="0.373" stop-color="#039afd"/><stop offset="0.395" stop-color="#01ddfe"/><stop offset="0.403" stop-color="#00f7ff"/><stop offset="0.411" stop-color="#00fee6"/><stop offset="0.441" stop-color="#00f444"/><stop offset="0.456" stop-color="#00f004"/><stop offset="0.494" stop-color="#86f800"/><stop offset="0.532" stop-color="#e7fe00"/><stop offset="0.548" stop-color="#fffe00"/><stop offset="0.586" stop-color="#fff900"/><stop offset="0.601" stop-color="#f8ff00"/><stop offset="0.616" stop-color="#d8fd00"/><stop offset="0.639" stop-color="#85f800"/><stop offset="0.662" stop-color="#0ff100"/><stop offset="0.669" stop-color="#00f119"/><stop offset="0.677" stop-color="#00f66b"/><stop offset="0.684" stop-color="#00fcca"/><stop offset="0.692" stop-color="#00f6ff"/><stop offset="0.700" stop-color="#01d1fe"/><stop offset="0.707" stop-color="#0390fc"/><stop offset="0.715" stop-color="#0460fb"/><stop offset="0.722" stop-color="#053dfb"/><stop offset="0.730" stop-color="#0626fa"/><stop offset="0.882" stop-color="#0419f5"/><stop offset="0.996" stop-color="#0316f4"/></linearGradient><linearGradient id="fg23" x1="0" y1="0" x2="0" y2="1"><stop offset="0.000" stop-color="#0632fa"/><stop offset="0.251" stop-color="#0632fa"/><stop offset="0.312" stop-color="#0548fb"/><stop offset="0.350" stop-color="#046bfc"/><stop offset="0.373" stop-color="#0394fd"/><stop offset="0.395" stop-color="#01d5fe"/><stop offset="0.403" stop-color="#00efff"/><stop offset="0.411" stop-color="#00fef1"/><stop offset="0.441" stop-color="#00f44c"/><stop offset="0.456" stop-color="#00f10c"/><stop offset="0.464" stop-color="#15f100"/><stop offset="0.494" stop-color="#7ef700"/><stop offset="0.532" stop-color="#dafd00"/><stop offset="0.555" stop-color="#faff00"/><stop offset="0.586" stop-color="#fcff00"/><stop offset="0.608" stop-color="#dcfd00"/><stop offset="0.631" stop-color="#98f900"/><stop offset="0.654" stop-color="#2ff300"/><stop offset="0.662" stop-color="#06f000"/><stop offset="0.669" stop-color="#00f222"/><stop offset="0.684" stop-color="#00fdda"/><stop offset="0.692" stop-color="#00eeff"/><stop offset="0.700" stop-color="#02c1fe"/><stop offset="0.707" stop-color="#047ffc"/><stop offset="0.722" stop-color="#0633fa"/><stop offset="0.730" stop-color="#0625fa"/><stop offset="0.943" stop-color="#0417f4"/><stop offset="0.996" stop-color="#0315f3"/></linearGradient><linearGradient id="fg24" x1="0" y1="0" x2="0" y2="1"><stop offset="0.000" stop-color="#0632fa"/><stop offset="0.259" stop-color="#0633fa"/><stop offset="0.319" stop-color="#054bfb"/><stop offset="0.350" stop-color="#0467fb"/><stop offset="0.373" stop-color="#038dfc"/><stop offset="0.411" stop-color="#00fffd"/><stop offset="0.441" stop-color="#00f555"/><stop offset="0.456" stop-color="#00f113"/><stop offset="0.464" stop-color="#0ef100"/><stop offset="0.479" stop-color="#43f400"/><stop offset="0.502" stop-color="#86f800"/><stop offset="0.540" stop-color="#d3fc00"/><stop offset="0.570" stop-color="#eafe00"/><stop offset="0.593" stop-color="#defd00"/><stop offset="0.616" stop-color="#b9fb00"/><stop offset="0.639" stop-color="#6ef600"/><stop offset="0.662" stop-color="#00f004"/><stop offset="0.669" stop-color="#00f32e"/><stop offset="0.677" stop-color="#00f993"/><stop offset="0.684" stop-color="#00feea"/><stop offset="0.692" stop-color="#01e7fe"/><stop offset="0.700" stop-color="#02b2fd"/><stop offset="0.707" stop-color="#0472fc"/><stop offset="0.722" stop-color="#0629fa"/><stop offset="0.837" stop-color="#041af5"/><stop offset="0.996" stop-color="#0315f3"/></linearGradient><linearGradient id="fg25" x1="0" y1="0" x2="0" y2="1"><stop offset="0.000" stop-color="#0632fa"/><stop offset="0.259" stop-color="#0632fa"/><stop offset="0.319" stop-color="#0549fb"/><stop offset="0.350" stop-color="#0462fb"/><stop offset="0.380" stop-color="#039bfd"/><stop offset="0.411" stop-color="#00fbff"/><stop offset="0.449" stop-color="#00f33a"/><stop offset="0.464" stop-color="#06f000"/><stop offset="0.471" stop-color="#27f200"/><stop offset="0.502" stop-color="#7cf700"/><stop offset="0.540" stop-color="#bffb00"/><stop offset="0.570" stop-color="#d2fc00"/><stop offset="0.601" stop-color="#c1fb00"/><stop offset="0.616" stop-color="#a9fa00"/><stop offset="0.631" stop-color="#7ff700"/><stop offset="0.654" stop-color="#1af200"/><stop offset="0.662" stop-color="#00f10e"/><stop offset="0.669" stop-color="#00f442"/><stop offset="0.677" stop-color="#00faa8"/><stop offset="0.684" stop-color="#00fffa"/><stop offset="0.692" stop-color="#01dffe"/><stop offset="0.707" stop-color="#0469fc"/><stop offset="0.722" stop-color="#0626fa"/><stop offset="0.875" stop-color="#0419f5"/><stop offset="0.996" stop-color="#0315f3"/></linearGradient><linearGradient id="fg26" x1="0" y1="0" x2="0" y2="1"><stop offset="0.000" stop-color="#0632fa"/><stop offset="0.266" stop-color="#0633fa"/><stop offset="0.327" stop-color="#054cfb"/><stop offset="0.357" stop-color="#046afc"/><stop offset="0.380" stop-color="#0395fd"/><stop offset="0.403" stop-color="#01d9fe"/><stop offset="0.411" stop-color="#00f4ff"/><stop offset="0.418" stop-color="#00fee8"/><stop offset="0.449" stop-color="#00f441"/><stop offset="0.464" stop-color="#00f001"/><stop offset="0.479" stop-color="#36f300"/><stop offset="0.502" stop-color="#73f700"/><stop offset="0.532" stop-color="#a5fa00"/><stop offset="0.570" stop-color="#bafb00"/><stop offset="0.608" stop-color="#a6fa00"/><stop offset="0.631" stop-color="#72f700"/><stop offset="0.654" stop-color="#10f100"/><stop offset="0.662" stop-color="#00f118"/><stop offset="0.669" stop-color="#00f556"/><stop offset="0.677" stop-color="#00fbbc"/><stop offset="0.684" stop-color="#00faff"/><stop offset="0.692" stop-color="#01d8fe"/><stop offset="0.700" stop-color="#0393fd"/><stop offset="0.707" stop-color="#0460fb"/><stop offset="0.715" stop-color="#053bfa"/><stop offset="0.722" stop-color="#0626fa"/><stop offset="0.875" stop-color="#0419f5"/><stop offset="0.996" stop-color="#0315f3"/></linearGradient><linearGradient id="fg27" x1="0" y1="0" x2="0" y2="1"><stop offset="0.000" stop-color="#0632fa"/><stop offset="0.266" stop-color="#0632fa"/><stop offset="0.327" stop-color="#054afb"/><stop offset="0.357" stop-color="#0466fb"/><stop offset="0.380" stop-color="#038efc"/><stop offset="0.411" stop-color="#00edff"/><stop offset="0.418" stop-color="#00fef3"/><stop offset="0.449" stop-color="#00f448"/><stop offset="0.464" stop-color="#00f008"/><stop offset="0.479" stop-color="#30f300"/><stop offset="0.502" stop-color="#6bf600"/><stop offset="0.540" stop-color="#9af900"/><stop offset="0.586" stop-color="#a2fa00"/><stop offset="0.608" stop-color="#96f900"/><stop offset="0.631" stop-color="#67f600"/><stop offset="0.654" stop-color="#06f000"/><stop offset="0.662" stop-color="#00f221"/><stop offset="0.669" stop-color="#00f66a"/><stop offset="0.677" stop-color="#00fccd"/><stop offset="0.684" stop-color="#00f3ff"/><stop offset="0.692" stop-color="#01c9fe"/><stop offset="0.700" stop-color="#0384fc"/><stop offset="0.715" stop-color="#0632fa"/><stop offset="0.722" stop-color="#0625fa"/><stop offset="0.890" stop-color="#0418f5"/><stop offset="0.996" stop-color="#0315f3"/></linearGradient><linearGradient id="fg28" x1="0" y1="0" x2="0" y2="1"><stop offset="0.000" stop-color="#0632fa"/><stop offset="0.274" stop-color="#0633fa"/><stop offset="0.327" stop-color="#0548fb"/><stop offset="0.357" stop-color="#0462fb"/><stop offset="0.380" stop-color="#0389fc"/><stop offset="0.411" stop-color="#01e6fe"/><stop offset="0.418" stop-color="#00fffe"/><stop offset="0.449" stop-color="#00f550"/><stop offset="0.464" stop-color="#00f10f"/><stop offset="0.471" stop-color="#11f100"/><stop offset="0.502" stop-color="#63f600"/><stop offset="0.540" stop-color="#89f800"/><stop offset="0.593" stop-color="#8cf800"/><stop offset="0.608" stop-color="#86f800"/><stop offset="0.631" stop-color="#5df500"/><stop offset="0.654" stop-color="#00f004"/><stop offset="0.662" stop-color="#00f22a"/><stop offset="0.669" stop-color="#00f77d"/><stop offset="0.677" stop-color="#00fddd"/><stop offset="0.684" stop-color="#01ecff"/><stop offset="0.692" stop-color="#02bbfd"/><stop offset="0.700" stop-color="#0474fc"/><stop offset="0.715" stop-color="#0629fa"/><stop offset="0.829" stop-color="#041af5"/><stop offset="0.996" stop-color="#0315f3"/></linearGradient><linearGradient id="fg29" x1="0" y1="0" x2="0" y2="1"><stop offset="0.000" stop-color="#0632fa"/><stop offset="0.274" stop-color="#0632fa"/><stop offset="0.327" stop-color="#0545fb"/><stop offset="0.365" stop-color="#046bfc"/><stop offset="0.388" stop-color="#0397fd"/><stop offset="0.411" stop-color="#01dffe"/><stop offset="0.418" stop-color="#00fbff"/><stop offset="0.433" stop-color="#00faad"/><stop offset="0.456" stop-color="#00f335"/><stop offset="0.471" stop-color="#0af100"/><stop offset="0.494" stop-color="#4af400"/><stop offset="0.510" stop-color="#62f600"/><stop offset="0.532" stop-color="#77f700"/><stop offset="0.608" stop-color="#77f700"/><stop offset="0.631" stop-color="#52f500"/><stop offset="0.646" stop-color="#16f100"/><stop offset="0.654" stop-color="#00f10d"/><stop offset="0.662" stop-color="#00f332"/><stop offset="0.677" stop-color="#00feec"/><stop offset="0.684" stop-color="#01e5fe"/><stop offset="0.700" stop-color="#046cfc"/><stop offset="0.715" stop-color="#0626fa"/><stop offset="0.867" stop-color="#0419f5"/><stop offset="0.996" stop-color="#0315f3"/></linearGradient><linearGradient id="fg30" x1="0" y1="0" x2="0" y2="1"><stop offset="0.000" stop-color="#0632fa"/><stop offset="0.289" stop-color="#0633fa"/><stop offset="0.342" stop-color="#054afb"/><stop offset="0.373" stop-color="#0469fc"/><stop offset="0.395" stop-color="#0397fd"/><stop offset="0.426" stop-color="#00fdff"/><stop offset="0.456" stop-color="#00f553"/><stop offset="0.471" stop-color="#00f112"/><stop offset="0.479" stop-color="#0ef100"/><stop offset="0.502" stop-color="#47f400"/><stop offset="0.532" stop-color="#63f600"/><stop offset="0.608" stop-color="#63f600"/><stop offset="0.631" stop-color="#3af300"/><stop offset="0.646" stop-color="#00f001"/><stop offset="0.654" stop-color="#00f226"/><stop offset="0.662" stop-color="#00f558"/><stop offset="0.669" stop-color="#00fbc1"/><stop offset="0.677" stop-color="#00f6ff"/><stop offset="0.684" stop-color="#01d1fe"/><stop offset="0.692" stop-color="#0389fc"/><stop offset="0.707" stop-color="#0631fa"/><stop offset="0.715" stop-color="#0625fa"/><stop offset="0.882" stop-color="#0418f5"/><stop offset="0.996" stop-color="#0316f3"/></linearGradient><linearGradient id="fg31" x1="0" y1="0" x2="0" y2="1"><stop offset="0.000" stop-color="#0631fa"/><stop offset="0.297" stop-color="#0631fa"/><stop offset="0.350" stop-color="#0548fb"/><stop offset="0.380" stop-color="#0467fb"/><stop offset="0.403" stop-color="#0396fd"/><stop offset="0.433" stop-color="#00fbff"/><stop offset="0.464" stop-color="#00f55c"/><stop offset="0.487" stop-color="#00f001"/><stop offset="0.510" stop-color="#31f300"/><stop offset="0.540" stop-color="#46f400"/><stop offset="0.608" stop-color="#45f400"/><stop offset="0.624" stop-color="#2df300"/><stop offset="0.639" stop-color="#00f005"/><stop offset="0.654" stop-color="#00f44a"/><stop offset="0.662" stop-color="#00f993"/><stop offset="0.669" stop-color="#00fef6"/><stop offset="0.677" stop-color="#01e0fe"/><stop offset="0.684" stop-color="#02acfd"/><stop offset="0.692" stop-color="#0469fc"/><stop offset="0.707" stop-color="#0626fa"/><stop offset="0.859" stop-color="#0419f5"/><stop offset="0.996" stop-color="#0316f4"/></linearGradient><linearGradient id="fg32" x1="0" y1="0" x2="0" y2="1"><stop offset="0.000" stop-color="#0631fa"/><stop offset="0.304" stop-color="#0630fa"/><stop offset="0.357" stop-color="#0546fb"/><stop offset="0.388" stop-color="#0465fb"/><stop offset="0.411" stop-color="#0396fd"/><stop offset="0.441" stop-color="#00faff"/><stop offset="0.464" stop-color="#00f884"/><stop offset="0.487" stop-color="#00f223"/><stop offset="0.502" stop-color="#03f000"/><stop offset="0.510" stop-color="#14f100"/><stop offset="0.540" stop-color="#2af200"/><stop offset="0.608" stop-color="#27f200"/><stop offset="0.624" stop-color="#0ff100"/><stop offset="0.631" stop-color="#00f109"/><stop offset="0.654" stop-color="#00f66d"/><stop offset="0.662" stop-color="#00fccc"/><stop offset="0.669" stop-color="#00efff"/><stop offset="0.677" stop-color="#01ccfe"/><stop offset="0.684" stop-color="#0389fc"/><stop offset="0.692" stop-color="#0555fb"/><stop offset="0.700" stop-color="#062ffa"/><stop offset="0.715" stop-color="#0624f9"/><stop offset="0.958" stop-color="#0417f4"/><stop offset="0.996" stop-color="#0417f4"/></linearGradient><linearGradient id="fg33" x1="0" y1="0" x2="0" y2="1"><stop offset="0.000" stop-color="#0630fa"/><stop offset="0.319" stop-color="#0632fa"/><stop offset="0.365" stop-color="#0545fb"/><stop offset="0.395" stop-color="#0465fb"/><stop offset="0.411" stop-color="#0480fc"/><stop offset="0.449" stop-color="#00fbff"/><stop offset="0.471" stop-color="#00f88a"/><stop offset="0.487" stop-color="#00f449"/><stop offset="0.510" stop-color="#00f10c"/><stop offset="0.532" stop-color="#09f100"/><stop offset="0.608" stop-color="#09f100"/><stop offset="0.624" stop-color="#00f110"/><stop offset="0.646" stop-color="#00f66b"/><stop offset="0.654" stop-color="#00f99b"/><stop offset="0.662" stop-color="#00feff"/><stop offset="0.677" stop-color="#02aefd"/><stop offset="0.684" stop-color="#0469fc"/><stop offset="0.700" stop-color="#0626fa"/><stop offset="0.867" stop-color="#0419f5"/><stop offset="0.996" stop-color="#0417f4"/></linearGradient><linearGradient id="fg34" x1="0" y1="0" x2="0" y2="1"><stop offset="0.000" stop-color="#0630fa"/><stop offset="0.327" stop-color="#0630fa"/><stop offset="0.373" stop-color="#0543fb"/><stop offset="0.403" stop-color="#0463fb"/><stop offset="0.426" stop-color="#0396fd"/><stop offset="0.456" stop-color="#00f4ff"/><stop offset="0.464" stop-color="#00feed"/><stop offset="0.479" stop-color="#00faa4"/><stop offset="0.494" stop-color="#00f669"/><stop offset="0.517" stop-color="#00f33a"/><stop offset="0.548" stop-color="#00f229"/><stop offset="0.608" stop-color="#00f32e"/><stop offset="0.624" stop-color="#00f447"/><stop offset="0.646" stop-color="#00f9a1"/><stop offset="0.654" stop-color="#00fde2"/><stop offset="0.662" stop-color="#01e3fe"/><stop offset="0.669" stop-color="#02c3fe"/><stop offset="0.684" stop-color="#0555fb"/><stop offset="0.692" stop-color="#0631fa"/><stop offset="0.700" stop-color="#0625fa"/><stop offset="0.958" stop-color="#0418f5"/><stop offset="0.996" stop-color="#0418f5"/></linearGradient><linearGradient id="fg35" x1="0" y1="0" x2="0" y2="1"><stop offset="0.000" stop-color="#062ffa"/><stop offset="0.350" stop-color="#0630fa"/><stop offset="0.395" stop-color="#0544fb"/><stop offset="0.418" stop-color="#045efb"/><stop offset="0.433" stop-color="#047cfc"/><stop offset="0.464" stop-color="#01dcfe"/><stop offset="0.479" stop-color="#00fff9"/><stop offset="0.502" stop-color="#00f99d"/><stop offset="0.517" stop-color="#00f778"/><stop offset="0.548" stop-color="#00f663"/><stop offset="0.601" stop-color="#00f663"/><stop offset="0.616" stop-color="#00f777"/><stop offset="0.631" stop-color="#00faa6"/><stop offset="0.639" stop-color="#00fcc5"/><stop offset="0.646" stop-color="#00feef"/><stop offset="0.654" stop-color="#01dbfe"/><stop offset="0.662" stop-color="#02bbfd"/><stop offset="0.677" stop-color="#0553fb"/><stop offset="0.684" stop-color="#062ffa"/><stop offset="0.700" stop-color="#0624f9"/><stop offset="0.996" stop-color="#0419f5"/></linearGradient><linearGradient id="fg36" x1="0" y1="0" x2="0" y2="1"><stop offset="0.000" stop-color="#062efa"/><stop offset="0.373" stop-color="#0630fa"/><stop offset="0.411" stop-color="#0541fb"/><stop offset="0.433" stop-color="#055afb"/><stop offset="0.449" stop-color="#047bfc"/><stop offset="0.479" stop-color="#01d6fe"/><stop offset="0.494" stop-color="#00f7ff"/><stop offset="0.502" stop-color="#00fef3"/><stop offset="0.517" stop-color="#00fcca"/><stop offset="0.532" stop-color="#00fbb5"/><stop offset="0.563" stop-color="#00faac"/><stop offset="0.601" stop-color="#00faac"/><stop offset="0.616" stop-color="#00fbc2"/><stop offset="0.631" stop-color="#00fef5"/><stop offset="0.639" stop-color="#00f5ff"/><stop offset="0.662" stop-color="#038afc"/><stop offset="0.669" stop-color="#0551fb"/><stop offset="0.677" stop-color="#0630fa"/><stop offset="0.692" stop-color="#0624f9"/><stop offset="0.996" stop-color="#041bf6"/></linearGradient><linearGradient id="fg37" x1="0" y1="0" x2="0" y2="1"><stop offset="0.000" stop-color="#062efa"/><stop offset="0.373" stop-color="#062efa"/><stop offset="0.418" stop-color="#0544fb"/><stop offset="0.441" stop-color="#0462fb"/><stop offset="0.487" stop-color="#01dffe"/><stop offset="0.502" stop-color="#00fcff"/><stop offset="0.525" stop-color="#00fcca"/><stop offset="0.555" stop-color="#00fbbb"/><stop offset="0.601" stop-color="#00fbbb"/><stop offset="0.616" stop-color="#00fcd0"/><stop offset="0.631" stop-color="#00fcff"/><stop offset="0.639" stop-color="#00eeff"/><stop offset="0.654" stop-color="#02aafd"/><stop offset="0.669" stop-color="#054bfb"/><stop offset="0.677" stop-color="#062afa"/><stop offset="0.783" stop-color="#051ef7"/><stop offset="0.996" stop-color="#041bf6"/></linearGradient><linearGradient id="fg38" x1="0" y1="0" x2="0" y2="1"><stop offset="0.000" stop-color="#062efa"/><stop offset="0.373" stop-color="#062efa"/><stop offset="0.418" stop-color="#0544fb"/><stop offset="0.441" stop-color="#0462fb"/><stop offset="0.487" stop-color="#01dffe"/><stop offset="0.502" stop-color="#00fcff"/><stop offset="0.525" stop-color="#00fcca"/><stop offset="0.555" stop-color="#00fbbb"/><stop offset="0.601" stop-color="#00fbbb"/><stop offset="0.616" stop-color="#00fcd0"/><stop offset="0.631" stop-color="#00fcff"/><stop offset="0.639" stop-color="#00eeff"/><stop offset="0.654" stop-color="#02aafd"/><stop offset="0.669" stop-color="#054bfb"/><stop offset="0.677" stop-color="#062afa"/><stop offset="0.783" stop-color="#051ef7"/><stop offset="0.996" stop-color="#041bf6"/></linearGradient><clipPath id="fgc"><rect x="282.8" y="291.4" width="172.7" height="131.5"/></clipPath><filter id="fgb" x="-5%" y="-5%" width="110%" height="110%"><feGaussianBlur stdDeviation="2.5 0"/></filter></defs>
<g clip-path="url(#fgc)"><g filter="url(#fgb)" shape-rendering="crispEdges"><rect x="272" y="291.4" width="5" height="131.5" fill="url(#fg0)"/><rect x="277" y="291.4" width="5" height="131.5" fill="url(#fg1)"/><rect x="282" y="291.4" width="5" height="131.5" fill="url(#fg2)"/><rect x="287" y="291.4" width="5" height="131.5" fill="url(#fg3)"/><rect x="292" y="291.4" width="5" height="131.5" fill="url(#fg4)"/><rect x="297" y="291.4" width="5" height="131.5" fill="url(#fg5)"/><rect x="302" y="291.4" width="5" height="131.5" fill="url(#fg6)"/><rect x="307" y="291.4" width="5" height="131.5" fill="url(#fg7)"/><rect x="312" y="291.4" width="5" height="131.5" fill="url(#fg8)"/><rect x="317" y="291.4" width="5" height="131.5" fill="url(#fg9)"/><rect x="322" y="291.4" width="5" height="131.5" fill="url(#fg10)"/><rect x="327" y="291.4" width="5" height="131.5" fill="url(#fg11)"/><rect x="332" y="291.4" width="5" height="131.5" fill="url(#fg12)"/><rect x="337" y="291.4" width="5" height="131.5" fill="url(#fg13)"/><rect x="342" y="291.4" width="5" height="131.5" fill="url(#fg14)"/><rect x="347" y="291.4" width="5" height="131.5" fill="url(#fg15)"/><rect x="352" y="291.4" width="5" height="131.5" fill="url(#fg16)"/><rect x="357" y="291.4" width="5" height="131.5" fill="url(#fg17)"/><rect x="362" y="291.4" width="5" height="131.5" fill="url(#fg18)"/><rect x="367" y="291.4" width="5" height="131.5" fill="url(#fg19)"/><rect x="372" y="291.4" width="5" height="131.5" fill="url(#fg20)"/><rect x="377" y="291.4" width="5" height="131.5" fill="url(#fg21)"/><rect x="382" y="291.4" width="5" height="131.5" fill="url(#fg22)"/><rect x="387" y="291.4" width="5" height="131.5" fill="url(#fg23)"/><rect x="392" y="291.4" width="5" height="131.5" fill="url(#fg24)"/><rect x="397" y="291.4" width="5" height="131.5" fill="url(#fg25)"/><rect x="402" y="291.4" width="5" height="131.5" fill="url(#fg26)"/><rect x="407" y="291.4" width="5" height="131.5" fill="url(#fg27)"/><rect x="412" y="291.4" width="5" height="131.5" fill="url(#fg28)"/><rect x="417" y="291.4" width="5" height="131.5" fill="url(#fg29)"/><rect x="422" y="291.4" width="5" height="131.5" fill="url(#fg30)"/><rect x="427" y="291.4" width="5" height="131.5" fill="url(#fg31)"/><rect x="432" y="291.4" width="5" height="131.5" fill="url(#fg32)"/><rect x="437" y="291.4" width="5" height="131.5" fill="url(#fg33)"/><rect x="442" y="291.4" width="5" height="131.5" fill="url(#fg34)"/><rect x="447" y="291.4" width="5" height="131.5" fill="url(#fg35)"/><rect x="452" y="291.4" width="5" height="131.5" fill="url(#fg36)"/><rect x="457" y="291.4" width="5" height="131.5" fill="url(#fg37)"/><rect x="462" y="291.4" width="5" height="131.5" fill="url(#fg38)"/></g></g>
<rect x="282.8" y="291.4" width="172.7" height="131.5" fill="none" stroke="#000" stroke-width="1.3"/>
<text x="281.4" y="295.20000000000005" font-size="10.2" font-weight="bold" fill="#000" text-anchor="end">650</text>
<text x="281.4" y="324.8" font-size="10.2" font-weight="bold" fill="#000" text-anchor="end">600</text>
<text x="281.4" y="355.0" font-size="10.2" font-weight="bold" fill="#000" text-anchor="end">550</text>
<text x="281.4" y="385.20000000000005" font-size="10.2" font-weight="bold" fill="#000" text-anchor="end">500</text>
<text x="281.4" y="415.40000000000003" font-size="10.2" font-weight="bold" fill="#000" text-anchor="end">450</text>
<text x="299.5" y="434.4" font-size="10.2" font-weight="bold" fill="#000" text-anchor="middle">40</text>
<text x="331" y="434.4" font-size="10.2" font-weight="bold" fill="#000" text-anchor="middle">70</text>
<text x="361.5" y="434.4" font-size="10.2" font-weight="bold" fill="#000" text-anchor="middle">110</text>
<text x="392.8" y="434.4" font-size="10.2" font-weight="bold" fill="#000" text-anchor="middle">150</text>
<text x="425.6" y="434.4" font-size="10.2" font-weight="bold" fill="#000" text-anchor="middle">190</text>
<text x="455.6" y="434.4" font-size="10.2" font-weight="bold" fill="#000" text-anchor="middle">230</text>
<path d="M282.8,321.2h3M282.8,351.4h3M282.8,381.6h3M282.8,411.8h3M299.5,422.9v-3M331,422.9v-3M361.5,422.9v-3M392.8,422.9v-3M425.6,422.9v-3" stroke="#000" stroke-width="1" fill="none"/>
<text x="260" y="357" font-size="11.2" font-weight="bold" fill="#000" text-anchor="middle" transform="rotate(-90 260 357)">Wavelength (nm)</text>
<text x="368.5" y="444.2" font-size="11" font-weight="bold" fill="#000" text-anchor="middle">Temperature (<tspan font-family="Noto Serif CJK SC, serif" font-weight="700">℃</tspan>)</text>
<text x="409" y="305.7" font-size="10.2" font-weight="bold" fill="#d4d4ff" text-anchor="middle" font-style="italic">Fluorescence</text>
<text x="246" y="289.6" font-size="14" font-weight="normal" fill="#000" text-anchor="start">(F)</text>
<rect x="502" y="291.4" width="173.2" height="131.2" fill="#fff"/>
<defs><clipPath id="gc"><rect x="502" y="291.4" width="173.2" height="131.2"/></clipPath></defs>
<g clip-path="url(#gc)">
<path d="M503.9,312.3h0M504.1,302.8h0M504.2,296.5h0M504.4,294.0h0M504.6,294.9h0M504.8,295.8h0M505.3,296.8h0M505.6,297.6h0M505.8,298.4h0M506.0,298.9h0M506.1,298.3h0M506.3,299.5h0M506.5,300.5h0M506.6,300.2h0M506.8,300.8h0M507.0,301.4h0M507.2,303.4h0M507.3,303.2h0M507.5,302.8h0M507.7,303.5h0M507.9,303.4h0M508.0,304.2h0M508.2,305.3h0M508.4,305.6h0M508.5,307.1h0M508.9,306.7h0M509.1,307.4h0M509.2,308.0h0M509.4,307.6h0M509.6,308.5h0M509.7,310.3h0M509.9,310.0h0M510.1,310.7h0M510.4,311.5h0M510.6,312.0h0M511.0,312.9h0M511.1,314.7h0M511.3,314.0h0M511.5,314.7h0M511.6,314.0h0M511.8,315.6h0M512.0,316.2h0M512.2,316.4h0M512.3,316.1h0M512.5,316.9h0M512.7,317.5h0M512.8,318.6h0M513.0,319.4h0M513.4,321.2h0M513.5,319.7h0M513.7,322.2h0M513.9,322.5h0M514.2,321.6h0M514.4,322.6h0M514.6,323.1h0M514.7,323.0h0M514.9,324.0h0M515.1,324.4h0M515.3,325.5h0M515.4,325.8h0M515.6,325.8h0M515.8,326.6h0M515.9,326.9h0M516.1,328.3h0M516.5,328.9h0M516.8,330.7h0M517.0,331.1h0M517.2,330.0h0M517.3,330.9h0M517.7,331.7h0M517.8,332.8h0M518.0,332.6h0M518.2,334.1h0M518.4,334.3h0M518.5,335.5h0M518.7,335.5h0M518.9,335.0h0M519.2,334.7h0M519.4,336.7h0M519.6,337.2h0M519.9,339.7h0M520.1,336.8h0M520.3,338.2h0M520.4,338.4h0M520.6,341.5h0M520.8,341.9h0M520.9,340.7h0M521.1,341.0h0M521.3,342.3h0M521.5,342.9h0M521.6,343.5h0M521.8,345.6h0M522.0,343.9h0M522.3,345.1h0M522.5,343.5h0M522.8,345.1h0M523.0,345.6h0M523.2,348.4h0M523.4,344.7h0M523.5,348.8h0M523.7,347.9h0M524.0,350.1h0M524.2,348.4h0M524.4,352.3h0M524.6,349.8h0M524.7,352.6h0M524.9,354.5h0M525.1,350.2h0M525.2,352.6h0M525.4,353.9h0M525.6,352.1h0M525.8,356.1h0M525.9,351.3h0M526.1,354.1h0M526.3,355.7h0M526.4,356.9h0M526.8,360.1h0M527.1,357.2h0M527.3,354.1h0M527.5,356.7h0M527.7,355.7h0M527.8,356.9h0M528.0,358.3h0M528.2,357.6h0M528.3,360.1h0M528.5,361.2h0M528.7,363.0h0M528.9,359.1h0M529.0,359.8h0M529.2,360.4h0M529.4,363.4h0M529.5,363.7h0M529.7,365.1h0M529.9,365.1h0M530.1,365.4h0M530.2,361.5h0M530.4,364.0h0M530.6,365.4h0M530.9,367.8h0M531.3,367.8h0M531.6,371.6h0M531.8,367.4h0M532.0,366.2h0M532.1,365.8h0M532.3,370.0h0M532.5,368.7h0M532.6,367.0h0M532.8,371.0h0M533.0,370.5h0M533.2,367.0h0M533.3,373.2h0M533.5,380.4h0M533.7,367.4h0M533.9,372.1h0M534.0,370.5h0M534.2,375.7h0M534.4,373.8h0M534.5,368.7h0M534.7,372.1h0M534.9,370.0h0M535.1,377.1h0M535.2,370.5h0M535.4,377.1h0M535.6,370.0h0M535.7,377.1h0M535.9,380.4h0M536.3,375.1h0M536.4,373.2h0M536.6,378.7h0M536.8,375.1h0M537.0,377.1h0M537.1,375.1h0M537.3,389.6h0M537.5,393.0h0M537.6,375.7h0M537.8,377.9h0M538.0,386.8h0M538.2,376.4h0M538.3,383.3h0M538.5,381.3h0M538.7,379.5h0M538.8,378.7h0M539.0,386.8h0M539.2,377.1h0M539.4,377.9h0M539.5,381.3h0M539.7,375.1h0M539.9,382.2h0M540.1,383.3h0M540.2,381.3h0M540.4,382.2h0M540.6,383.3h0M540.7,379.5h0M540.9,380.4h0M541.1,388.1h0M541.3,388.1h0M541.4,385.5h0M541.6,388.1h0M541.8,383.3h0M541.9,391.2h0M542.1,395.0h0M542.3,385.5h0M542.5,382.2h0M542.6,395.0h0M542.8,379.5h0M543.0,378.7h0M543.2,384.4h0M543.3,388.1h0M543.5,391.2h0M543.7,384.4h0M543.8,383.3h0M544.0,388.1h0M544.2,391.2h0M544.4,382.2h0M544.5,383.3h0M544.7,388.1h0M544.9,380.4h0M545.2,389.6h0M545.4,388.1h0M545.6,378.7h0M545.7,395.0h0M545.9,389.6h0M546.1,393.0h0M546.3,389.6h0M546.4,391.2h0M546.6,391.2h0M546.8,393.0h0M547.1,386.8h0M547.5,389.6h0M547.6,397.2h0M547.8,382.2h0M548.0,395.0h0M548.1,384.4h0M548.3,391.2h0M548.5,393.0h0M548.8,393.0h0M549.0,391.2h0M549.2,397.2h0M549.4,383.3h0M549.5,388.1h0M549.7,391.2h0M549.9,395.0h0M550.0,385.5h0M550.2,395.0h0M550.4,384.4h0M550.6,393.0h0M550.7,393.0h0M551.1,397.2h0M551.2,388.1h0M551.4,399.8h0M551.6,386.8h0M551.8,391.2h0M551.9,388.1h0M552.1,389.6h0M552.3,384.4h0M552.5,397.2h0M552.6,389.6h0M552.8,395.0h0M553.0,397.2h0M553.1,399.8h0M553.3,386.8h0M553.7,399.8h0M553.8,395.0h0M554.0,406.7h0M554.2,393.0h0M554.3,389.6h0M554.7,384.4h0M554.9,395.0h0M555.0,382.2h0M555.2,395.0h0M555.4,391.2h0M555.6,388.1h0M555.9,406.7h0M556.1,402.9h0M556.2,386.8h0M556.4,395.0h0M556.6,389.6h0M556.9,399.8h0M557.1,388.1h0M557.3,397.2h0M557.4,402.9h0M557.6,388.1h0M557.8,399.8h0M558.0,391.2h0M558.3,386.8h0M558.5,399.8h0M558.7,389.6h0M558.8,393.0h0M559.0,389.6h0M559.2,402.9h0M559.3,391.2h0M559.5,386.8h0M559.7,389.6h0M559.9,397.2h0M560.0,388.1h0M560.2,397.2h0M560.5,386.8h0M560.7,382.2h0M560.9,389.6h0M561.1,384.4h0M561.8,388.1h0M564.7,391.2h0M565.7,386.8h0M566.9,386.8h0M567.3,386.8h0M568.3,389.6h0M570.5,391.2h0M573.8,393.0h0M574.1,386.8h0M576.0,389.6h0M576.7,393.0h0M577.9,391.2h0M579.0,393.0h0M581.0,389.6h0M581.7,393.0h0M582.6,391.2h0M586.0,391.2h0M586.5,391.2h0M587.1,389.6h0M587.8,389.6h0M589.6,393.0h0M590.2,393.0h0M591.4,393.0h0M594.6,393.0h0M596.4,388.1h0M597.6,389.6h0M598.4,383.3h0M599.3,391.2h0M601.4,389.6h0M605.7,393.0h0M606.2,389.6h0M610.3,388.1h0M611.0,391.2h0M611.9,391.2h0M613.6,393.0h0M622.4,386.8h0M626.8,393.0h0M627.2,388.1h0M629.9,393.0h0M630.8,388.1h0M634.8,393.0h0M635.1,388.1h0M635.5,391.2h0M637.5,393.0h0M639.8,391.2h0M639.9,393.0h0M640.8,393.0h0M641.0,391.2h0M641.1,391.2h0M641.5,388.1h0M644.9,393.0h0M645.1,388.1h0M646.1,393.0h0M646.8,391.2h0M650.3,391.2h0M650.4,393.0h0M655.9,393.0h0M657.3,391.2h0M657.5,393.0h0M658.2,393.0h0M658.9,393.0h0M661.1,391.2h0M661.8,389.6h0M663.2,388.1h0M664.6,389.6h0M664.9,393.0h0" stroke="#c44fd0" stroke-width="2.7" stroke-linecap="round" fill="none"/>
<path d="M503.9,312.9h0M504.1,302.8h0M504.2,296.3h0M504.4,294.3h0M504.8,295.8h0M505.1,296.6h0M505.3,296.4h0M505.4,296.8h0M505.6,297.8h0M506.0,298.3h0M506.1,298.6h0M506.3,299.5h0M506.5,300.4h0M506.6,300.3h0M506.8,301.1h0M507.0,300.6h0M507.2,301.5h0M507.3,302.1h0M507.5,303.2h0M507.7,303.5h0M507.9,302.8h0M508.0,304.5h0M508.4,304.6h0M508.5,304.9h0M508.7,306.1h0M508.9,306.7h0M509.2,307.6h0M509.4,308.0h0M509.7,308.5h0M509.9,308.9h0M510.1,309.3h0M510.3,310.1h0M510.4,310.5h0M510.6,311.3h0M510.8,311.2h0M511.1,311.7h0M511.3,312.9h0M511.5,313.6h0M511.6,314.1h0M512.0,315.4h0M512.3,315.6h0M512.5,315.0h0M512.7,316.4h0M512.8,318.6h0M513.0,317.9h0M513.2,317.5h0M513.4,318.9h0M513.5,318.7h0M513.7,320.0h0M513.9,319.1h0M514.1,321.3h0M514.2,320.6h0M514.4,322.0h0M514.7,322.3h0M514.9,323.1h0M515.1,323.4h0M515.4,324.4h0M515.6,325.5h0M515.8,324.1h0M515.9,326.2h0M516.5,327.4h0M516.6,325.6h0M516.8,328.9h0M517.0,328.5h0M517.2,328.2h0M517.3,330.3h0M517.5,329.8h0M517.7,331.3h0M517.8,330.3h0M518.2,331.4h0M518.7,332.8h0M519.0,332.7h0M519.2,333.2h0M519.4,333.9h0M519.6,334.8h0M519.7,335.5h0M519.9,336.0h0M520.1,336.9h0M520.3,338.5h0M520.4,336.2h0M520.6,338.7h0M520.8,337.4h0M520.9,337.9h0M521.1,338.9h0M521.3,340.3h0M521.5,340.5h0M521.8,338.6h0M522.0,340.5h0M522.1,343.3h0M522.3,342.1h0M522.5,340.3h0M522.7,342.5h0M522.8,345.3h0M523.0,344.2h0M523.2,343.5h0M523.4,346.0h0M523.5,345.2h0M523.7,344.9h0M523.9,346.7h0M524.0,345.6h0M524.4,347.1h0M524.6,348.1h0M524.7,348.8h0M524.9,346.7h0M525.1,348.0h0M525.2,348.9h0M525.4,348.0h0M525.6,349.5h0M525.8,350.4h0M525.9,352.0h0M526.1,347.0h0M526.3,349.8h0M526.4,353.0h0M526.6,351.5h0M526.8,352.3h0M527.0,356.1h0M527.1,353.3h0M527.3,352.6h0M527.5,355.0h0M527.7,355.9h0M527.8,356.7h0M528.0,355.5h0M528.2,355.0h0M528.3,356.1h0M528.5,353.9h0M528.7,354.3h0M528.9,360.9h0M529.0,354.3h0M529.2,361.8h0M529.4,359.1h0M529.5,360.4h0M529.7,357.2h0M529.9,359.3h0M530.1,360.1h0M530.2,361.8h0M530.4,360.1h0M530.6,361.5h0M530.8,358.8h0M530.9,361.5h0M531.1,364.0h0M531.3,365.1h0M531.6,362.7h0M531.8,364.7h0M532.0,368.2h0M532.1,365.8h0M532.3,370.5h0M532.5,363.4h0M532.6,366.2h0M532.8,364.4h0M533.0,363.7h0M533.2,370.0h0M533.3,368.2h0M533.5,367.4h0M533.7,369.6h0M533.9,371.0h0M534.0,363.7h0M534.2,367.8h0M534.4,371.6h0M534.5,371.6h0M534.7,369.6h0M534.9,365.1h0M535.1,364.4h0M535.2,370.0h0M535.4,370.5h0M535.7,373.8h0M535.9,367.4h0M536.1,372.1h0M536.3,371.6h0M536.4,377.1h0M536.6,377.9h0M536.8,369.6h0M537.0,374.4h0M537.1,370.5h0M537.3,374.4h0M537.5,375.1h0M537.6,376.4h0M537.8,372.1h0M538.0,379.5h0M538.2,375.7h0M538.3,378.7h0M538.5,383.3h0M538.7,385.5h0M538.8,375.1h0M539.0,367.8h0M539.2,373.2h0M539.4,374.4h0M539.5,372.6h0M539.7,373.8h0M539.9,385.5h0M540.1,377.9h0M540.2,380.4h0M540.7,384.4h0M540.9,379.5h0M541.1,377.9h0M541.3,375.1h0M541.4,385.5h0M541.6,377.9h0M541.9,376.4h0M542.1,383.3h0M542.3,375.7h0M542.5,378.7h0M542.6,371.6h0M542.8,379.5h0M543.0,377.9h0M543.2,383.3h0M543.3,391.2h0M543.5,388.1h0M543.7,382.2h0M543.8,380.4h0M544.0,393.0h0M544.4,381.3h0M544.5,379.5h0M544.7,386.8h0M544.9,381.3h0M545.0,378.7h0M545.2,377.1h0M545.4,386.8h0M545.6,380.4h0M545.7,388.1h0M545.9,384.4h0M546.1,385.5h0M546.3,386.8h0M546.4,384.4h0M546.6,382.2h0M546.8,384.4h0M546.9,388.1h0M547.1,397.2h0M547.3,384.4h0M547.5,379.5h0M547.6,388.1h0M547.8,389.6h0M548.0,380.4h0M548.1,386.8h0M548.3,391.2h0M548.5,384.4h0M548.7,393.0h0M548.8,386.8h0M549.0,402.9h0M549.2,399.8h0M549.4,395.0h0M549.5,391.2h0M549.7,385.5h0M549.9,384.4h0M550.0,383.3h0M550.2,382.2h0M550.4,385.5h0M550.6,386.8h0M550.7,393.0h0M550.9,381.3h0M551.1,384.4h0M551.2,391.2h0M551.4,389.6h0M551.6,395.0h0M551.8,397.2h0M551.9,389.6h0M552.1,385.5h0M552.3,386.8h0M552.5,397.2h0M552.6,383.3h0M552.8,402.9h0M553.0,393.0h0M553.1,383.3h0M553.3,391.2h0M553.7,384.4h0M553.8,385.5h0M554.0,395.0h0M554.2,389.6h0M554.3,386.8h0M554.5,395.0h0M554.7,385.5h0M554.9,388.1h0M555.0,397.2h0M555.2,395.0h0M555.4,391.2h0M555.6,395.0h0M555.7,389.6h0M555.9,381.3h0M556.1,391.2h0M556.2,386.8h0M556.4,395.0h0M556.6,389.6h0M556.8,386.8h0M556.9,393.0h0M557.1,389.6h0M557.3,385.5h0M557.4,395.0h0M557.8,393.0h0M558.0,385.5h0M558.1,386.8h0M558.3,389.6h0M558.5,388.1h0M558.7,391.2h0M558.8,397.2h0M559.0,389.6h0M559.2,395.0h0M559.3,391.2h0M559.5,402.9h0M559.7,399.8h0M560.0,397.2h0M560.2,389.6h0M560.4,393.0h0M560.5,384.4h0M560.7,386.8h0M560.9,388.1h0M561.1,386.8h0M561.9,393.0h0M562.1,386.8h0M562.6,391.2h0M562.8,391.2h0M563.3,385.5h0M564.9,391.2h0M565.7,383.3h0M566.1,393.0h0M566.2,391.2h0M568.8,385.5h0M570.5,391.2h0M570.9,379.5h0M573.8,388.1h0M575.2,386.8h0M577.1,391.2h0M579.7,386.8h0M580.7,391.2h0M581.4,391.2h0M583.6,386.8h0M585.7,388.1h0M585.9,383.3h0M586.4,389.6h0M587.6,391.2h0M590.9,391.2h0M591.0,389.6h0M591.7,389.6h0M592.9,381.3h0M593.6,391.2h0M594.5,393.0h0M594.8,388.1h0M595.5,393.0h0M596.7,391.2h0M597.1,389.6h0M600.3,388.1h0M604.1,385.5h0M604.5,389.6h0M604.6,391.2h0M607.0,389.6h0M609.8,391.2h0M611.0,389.6h0M611.7,389.6h0M613.2,391.2h0M614.4,393.0h0M615.5,391.2h0M616.3,388.1h0M616.7,393.0h0M617.5,393.0h0M619.1,391.2h0M624.1,389.6h0M628.2,393.0h0M629.8,391.2h0M631.0,391.2h0M632.0,388.1h0M634.1,393.0h0M634.6,393.0h0M636.3,393.0h0M636.5,391.2h0M641.8,388.1h0M643.4,384.4h0M643.7,391.2h0M644.1,393.0h0M647.5,391.2h0M649.7,381.3h0M657.8,393.0h0M658.2,391.2h0M658.4,393.0h0M659.2,391.2h0M662.5,391.2h0M662.8,393.0h0M665.1,388.1h0" stroke="#6a86e0" stroke-width="2.7" stroke-linecap="round" fill="none"/>
<path d="M503.9,311.7h0M504.1,302.7h0M504.2,296.8h0M504.4,294.0h0M504.6,295.0h0M504.8,294.7h0M504.9,295.9h0M505.3,296.9h0M505.6,297.5h0M506.0,298.8h0M506.1,299.2h0M506.6,299.8h0M507.0,301.2h0M507.2,301.6h0M507.5,302.1h0M507.7,303.1h0M507.9,303.1h0M508.0,303.3h0M508.4,304.5h0M508.5,305.0h0M508.9,305.8h0M509.2,307.5h0M509.4,306.7h0M509.7,308.0h0M510.1,309.5h0M510.4,309.0h0M510.6,310.6h0M510.8,311.0h0M511.1,311.7h0M511.3,312.0h0M511.5,312.5h0M511.6,313.0h0M512.0,314.1h0M512.2,313.3h0M512.3,314.7h0M512.5,315.3h0M512.8,316.3h0M513.0,316.0h0M513.4,316.5h0M513.5,317.6h0M513.7,317.7h0M513.9,318.3h0M514.1,319.2h0M514.2,319.4h0M514.4,320.1h0M514.6,321.2h0M514.7,321.2h0M514.9,320.1h0M515.1,321.9h0M515.6,323.3h0M515.8,324.9h0M515.9,323.0h0M516.1,324.6h0M516.3,324.1h0M516.5,325.6h0M517.0,325.4h0M517.2,327.9h0M517.3,327.1h0M517.5,326.1h0M517.7,326.4h0M517.8,330.0h0M518.0,329.1h0M518.2,330.0h0M518.5,328.9h0M518.7,331.6h0M518.9,332.4h0M519.0,330.9h0M519.2,330.9h0M519.6,333.2h0M519.9,335.0h0M520.1,334.2h0M520.3,334.9h0M520.4,335.5h0M520.6,335.0h0M520.8,336.2h0M520.9,336.5h0M521.5,336.3h0M521.6,337.2h0M521.8,337.2h0M522.0,340.2h0M522.1,338.3h0M522.3,338.8h0M522.5,340.1h0M522.7,341.5h0M522.8,340.8h0M523.0,342.9h0M523.2,340.8h0M523.5,341.5h0M523.7,341.9h0M523.9,341.5h0M524.0,341.3h0M524.2,346.1h0M524.4,342.5h0M524.6,343.4h0M524.7,344.4h0M524.9,347.2h0M525.1,345.6h0M525.2,342.5h0M525.4,346.5h0M525.8,350.1h0M525.9,347.9h0M526.1,349.9h0M526.3,349.1h0M526.4,347.5h0M526.6,349.4h0M526.8,348.5h0M527.0,348.0h0M527.1,351.3h0M527.3,348.8h0M527.5,350.1h0M527.7,350.5h0M527.8,351.5h0M528.0,355.0h0M528.2,351.6h0M528.3,353.3h0M528.5,352.0h0M528.7,355.2h0M529.0,352.8h0M529.2,352.6h0M529.4,353.3h0M529.5,354.7h0M529.7,353.9h0M529.9,354.7h0M530.1,357.6h0M530.2,355.5h0M530.4,355.7h0M530.6,357.6h0M530.8,359.6h0M530.9,359.8h0M531.1,359.1h0M531.3,356.5h0M531.4,359.1h0M531.6,360.4h0M531.8,363.4h0M532.0,360.4h0M532.1,360.7h0M532.3,362.1h0M532.5,362.4h0M532.6,362.1h0M532.8,358.6h0M533.0,363.7h0M533.2,361.2h0M533.3,362.1h0M533.5,360.9h0M533.7,363.4h0M533.9,367.0h0M534.0,362.7h0M534.2,363.7h0M534.4,371.0h0M534.5,363.0h0M534.9,364.7h0M535.1,362.7h0M535.4,367.4h0M535.6,368.7h0M535.7,368.7h0M535.9,363.0h0M536.1,370.5h0M536.3,365.4h0M536.4,367.8h0M536.6,366.2h0M536.8,372.1h0M537.0,368.7h0M537.1,371.0h0M537.3,367.4h0M537.5,371.6h0M537.6,367.8h0M537.8,366.2h0M538.0,370.5h0M538.2,377.9h0M538.3,376.4h0M538.5,370.0h0M538.7,373.8h0M538.8,369.6h0M539.0,372.1h0M539.2,377.1h0M539.4,370.5h0M539.5,374.4h0M539.7,378.7h0M539.9,369.1h0M540.1,373.2h0M540.2,371.6h0M540.4,373.2h0M540.6,369.1h0M540.7,377.9h0M540.9,373.2h0M541.1,372.6h0M541.3,375.7h0M541.4,380.4h0M541.6,376.4h0M541.8,378.7h0M542.1,380.4h0M542.3,377.1h0M542.5,382.2h0M542.6,374.4h0M542.8,372.6h0M543.0,373.2h0M543.2,374.4h0M543.3,372.1h0M543.5,380.4h0M543.7,378.7h0M543.8,371.6h0M544.0,391.2h0M544.2,374.4h0M544.4,371.0h0M544.5,376.4h0M544.7,374.4h0M544.9,378.7h0M545.0,380.4h0M545.2,385.5h0M545.4,378.7h0M545.6,372.1h0M545.7,386.8h0M545.9,380.4h0M546.1,379.5h0M546.3,375.1h0M546.4,376.4h0M546.6,379.5h0M546.8,380.4h0M546.9,377.9h0M547.1,380.4h0M547.3,386.8h0M547.5,379.5h0M547.6,377.1h0M547.8,375.1h0M548.0,386.8h0M548.1,380.4h0M548.3,383.3h0M548.5,377.9h0M548.7,377.1h0M548.8,377.9h0M549.0,381.3h0M549.4,378.7h0M549.5,381.3h0M549.7,376.4h0M549.9,379.5h0M550.0,385.5h0M550.2,383.3h0M550.7,384.4h0M550.9,383.3h0M551.1,385.5h0M551.2,386.8h0M551.4,384.4h0M551.6,384.4h0M551.8,380.4h0M551.9,373.8h0M552.1,382.2h0M552.3,384.4h0M552.5,385.5h0M552.6,381.3h0M552.8,384.4h0M553.0,393.0h0M553.1,380.4h0M553.3,384.4h0M553.5,373.8h0M553.7,386.8h0M553.8,385.5h0M554.0,381.3h0M554.3,386.8h0M554.5,379.5h0M554.7,384.4h0M554.9,381.3h0M555.0,382.2h0M555.2,381.3h0M555.4,389.6h0M555.6,386.8h0M555.7,385.5h0M555.9,384.4h0M556.1,377.9h0M556.2,383.3h0M556.4,380.4h0M556.6,388.1h0M556.9,388.1h0M557.1,389.6h0M557.3,382.2h0M557.4,385.5h0M557.6,391.2h0M557.8,389.6h0M558.0,393.0h0M558.1,388.1h0M558.3,388.1h0M558.5,385.5h0M558.7,386.8h0M558.8,389.6h0M559.0,391.2h0M559.2,377.9h0M559.3,386.8h0M559.7,393.0h0M559.9,386.8h0M560.0,391.2h0M560.2,386.8h0M560.5,393.0h0M560.7,385.5h0M560.9,383.3h0M561.1,378.7h0M561.4,389.6h0M561.8,386.8h0M561.9,388.1h0M562.6,393.0h0M562.8,386.8h0M563.0,385.5h0M563.3,384.4h0M563.5,386.8h0M563.6,383.3h0M564.7,389.6h0M565.4,382.2h0M565.9,384.4h0M566.1,393.0h0M566.6,389.6h0M566.9,384.4h0M567.6,384.4h0M567.9,393.0h0M568.1,389.6h0M569.0,391.2h0M569.2,391.2h0M570.7,386.8h0M571.9,383.3h0M572.1,393.0h0M572.3,393.0h0M573.5,391.2h0M574.1,393.0h0M574.3,389.6h0M574.8,389.6h0M575.0,385.5h0M576.0,393.0h0M577.2,391.2h0M577.8,384.4h0M578.1,388.1h0M578.3,384.4h0M578.6,389.6h0M580.5,382.2h0M580.9,393.0h0M581.0,385.5h0M581.4,388.1h0M581.6,393.0h0M581.7,389.6h0M582.9,383.3h0M584.5,386.8h0M584.8,393.0h0M586.0,388.1h0M586.2,393.0h0M586.4,384.4h0M586.7,393.0h0M586.9,391.2h0M587.2,383.3h0M587.8,389.6h0M588.1,384.4h0M589.1,393.0h0M590.2,391.2h0M590.5,388.1h0M590.9,384.4h0M592.4,388.1h0M593.3,385.5h0M593.4,385.5h0M596.7,391.2h0M596.9,393.0h0M598.4,388.1h0M599.5,386.8h0M600.8,389.6h0M601.0,385.5h0M601.4,383.3h0M601.9,382.2h0M602.0,389.6h0M603.3,386.8h0M603.6,389.6h0M603.8,386.8h0M604.1,389.6h0M606.0,391.2h0M606.2,389.6h0M606.4,393.0h0M606.7,391.2h0M607.7,391.2h0M608.2,391.2h0M610.0,389.6h0M614.1,391.2h0M614.6,393.0h0M615.5,379.5h0M615.6,386.8h0M616.7,389.6h0M617.5,385.5h0M618.1,388.1h0M619.4,391.2h0M620.3,393.0h0M620.6,391.2h0M621.2,391.2h0M621.5,386.8h0M622.7,388.1h0M623.1,388.1h0M624.3,388.1h0M624.9,388.1h0M626.3,389.6h0M627.9,381.3h0M628.0,388.1h0M628.4,386.8h0M628.6,384.4h0M628.7,393.0h0M629.6,391.2h0M629.9,391.2h0M630.3,386.8h0M632.9,388.1h0M633.2,385.5h0M634.1,389.6h0M635.3,393.0h0M636.3,385.5h0M637.2,391.2h0M637.3,385.5h0M638.9,391.2h0M639.9,383.3h0M640.1,389.6h0M641.3,393.0h0M642.5,391.2h0M643.2,391.2h0M643.4,391.2h0M644.2,391.2h0M645.6,393.0h0M646.0,391.2h0M647.7,393.0h0M648.2,389.6h0M648.4,388.1h0M649.1,393.0h0M650.1,388.1h0M651.3,389.6h0M652.0,393.0h0M653.5,388.1h0M653.7,385.5h0M654.4,389.6h0M655.8,391.2h0M656.8,388.1h0M657.0,391.2h0M657.1,384.4h0M657.3,389.6h0M657.7,393.0h0M659.0,393.0h0M660.9,391.2h0M661.6,393.0h0M663.0,382.2h0M663.3,393.0h0M663.7,383.3h0M665.2,393.0h0M665.4,388.1h0M665.6,386.8h0" stroke="#35c535" stroke-width="2.7" stroke-linecap="round" fill="none"/>
<path d="M503.9,311.7h0M504.1,303.3h0M504.2,296.3h0M504.4,294.0h0M504.6,294.4h0M504.8,295.3h0M504.9,296.0h0M505.1,296.5h0M505.3,296.9h0M505.6,297.7h0M505.8,297.9h0M506.0,298.5h0M506.1,299.0h0M506.3,299.5h0M506.6,301.1h0M506.8,300.7h0M507.0,302.1h0M507.3,302.3h0M507.5,303.6h0M507.7,304.6h0M507.9,304.8h0M508.0,304.5h0M508.2,305.9h0M508.4,306.6h0M508.5,306.2h0M508.7,307.2h0M508.9,307.3h0M509.1,308.3h0M509.2,309.0h0M509.4,308.6h0M509.7,309.8h0M510.1,311.2h0M510.3,311.3h0M510.4,311.9h0M510.6,311.9h0M510.8,313.5h0M511.0,312.9h0M511.1,313.8h0M511.3,314.5h0M511.5,315.0h0M511.6,315.9h0M512.0,316.4h0M512.3,318.5h0M512.5,317.5h0M512.7,318.2h0M512.8,318.7h0M513.0,319.7h0M513.4,321.6h0M513.5,320.3h0M513.7,321.4h0M513.9,322.4h0M514.2,323.6h0M514.4,322.4h0M514.6,322.9h0M514.7,324.5h0M514.9,325.7h0M515.1,325.3h0M515.3,326.6h0M515.6,327.7h0M515.8,327.9h0M515.9,326.8h0M516.1,328.1h0M516.3,330.3h0M516.5,329.4h0M516.8,330.6h0M517.0,330.8h0M517.2,331.3h0M517.3,331.5h0M517.5,333.1h0M517.8,334.7h0M518.0,334.0h0M518.2,334.0h0M518.4,337.5h0M518.5,335.2h0M518.7,333.8h0M518.9,337.0h0M519.0,338.6h0M519.2,338.2h0M519.4,337.6h0M519.6,338.7h0M519.7,337.6h0M519.9,338.8h0M520.1,339.0h0M520.3,337.0h0M520.4,339.6h0M520.6,342.9h0M520.8,341.8h0M520.9,341.7h0M521.1,342.8h0M521.5,343.8h0M521.6,342.0h0M521.8,344.8h0M522.1,346.1h0M522.3,345.5h0M522.7,343.8h0M522.8,347.5h0M523.0,350.5h0M523.2,347.9h0M523.4,350.7h0M523.5,348.3h0M523.7,348.5h0M523.9,351.2h0M524.0,353.5h0M524.2,350.7h0M524.4,350.8h0M524.6,355.2h0M524.7,350.2h0M524.9,352.8h0M525.1,354.1h0M525.2,354.3h0M525.4,353.0h0M525.6,357.6h0M525.8,353.7h0M525.9,356.1h0M526.1,357.4h0M526.3,355.7h0M526.4,355.9h0M526.6,354.5h0M526.8,356.7h0M527.0,358.8h0M527.3,356.9h0M527.5,360.1h0M527.7,361.2h0M527.8,362.4h0M528.0,361.5h0M528.2,365.8h0M528.3,363.4h0M528.5,360.7h0M528.7,359.8h0M528.9,358.6h0M529.0,364.0h0M529.4,366.2h0M529.5,364.4h0M529.7,359.6h0M529.9,367.8h0M530.1,361.2h0M530.2,364.7h0M530.4,364.4h0M530.6,366.6h0M530.8,367.8h0M530.9,369.6h0M531.1,364.7h0M531.3,366.2h0M531.4,367.0h0M531.6,370.5h0M531.8,367.0h0M532.0,365.4h0M532.1,368.7h0M532.3,367.4h0M532.5,369.1h0M532.6,370.5h0M532.8,367.0h0M533.0,371.0h0M533.2,366.6h0M533.3,375.7h0M533.5,377.1h0M533.7,371.0h0M533.9,372.1h0M534.0,369.6h0M534.4,373.8h0M534.5,371.6h0M534.7,372.1h0M534.9,375.7h0M535.1,372.6h0M535.2,374.4h0M535.4,376.4h0M535.6,377.1h0M535.7,374.4h0M535.9,372.6h0M536.1,378.7h0M536.3,379.5h0M536.4,374.4h0M536.6,382.2h0M536.8,377.1h0M537.0,379.5h0M537.1,388.1h0M537.3,377.9h0M537.5,376.4h0M537.6,377.9h0M537.8,382.2h0M538.0,380.4h0M538.3,375.1h0M538.5,374.4h0M538.7,377.9h0M538.8,379.5h0M539.0,385.5h0M539.2,382.2h0M539.4,381.3h0M539.5,378.7h0M539.7,382.2h0M539.9,381.3h0M540.1,377.1h0M540.2,377.1h0M540.4,379.5h0M540.6,383.3h0M540.7,385.5h0M540.9,381.3h0M541.3,388.1h0M541.4,380.4h0M541.6,389.6h0M541.8,386.8h0M541.9,382.2h0M542.1,395.0h0M542.3,386.8h0M542.5,384.4h0M542.6,384.4h0M542.8,388.1h0M543.0,385.5h0M543.2,395.0h0M543.3,383.3h0M543.5,383.3h0M543.7,384.4h0M543.8,384.4h0M544.0,378.7h0M544.2,388.1h0M544.4,385.5h0M544.5,388.1h0M544.7,381.3h0M544.9,399.8h0M545.0,389.6h0M545.2,391.2h0M545.4,388.1h0M545.6,375.7h0M545.7,384.4h0M545.9,391.2h0M546.1,389.6h0M546.3,391.2h0M546.4,385.5h0M546.6,384.4h0M546.8,386.8h0M546.9,399.8h0M547.1,384.4h0M547.3,388.1h0M547.5,399.8h0M547.6,384.4h0M547.8,377.1h0M548.0,386.8h0M548.1,385.5h0M548.3,381.3h0M548.5,402.9h0M548.7,389.6h0M548.8,399.8h0M549.0,402.9h0M549.2,379.5h0M549.4,382.2h0M549.5,386.8h0M549.7,393.0h0M549.9,395.0h0M550.0,389.6h0M550.2,377.9h0M550.4,391.2h0M550.6,397.2h0M550.7,395.0h0M550.9,391.2h0M551.1,391.2h0M551.2,397.2h0M551.4,386.8h0M551.6,388.1h0M551.8,395.0h0M551.9,385.5h0M552.1,384.4h0M552.3,397.2h0M552.5,397.2h0M552.6,388.1h0M553.0,389.6h0M553.1,402.9h0M553.3,389.6h0M553.5,381.3h0M553.7,393.0h0M553.8,388.1h0M554.0,391.2h0M554.2,389.6h0M554.3,389.6h0M554.5,393.0h0M554.7,393.0h0M555.0,383.3h0M555.2,395.0h0M555.6,391.2h0M555.9,389.6h0M556.1,389.6h0M556.2,391.2h0M556.6,393.0h0M556.9,399.8h0M557.1,393.0h0M557.3,384.4h0M557.4,385.5h0M557.6,389.6h0M557.8,389.6h0M558.0,393.0h0M558.1,385.5h0M558.3,389.6h0M558.7,397.2h0M558.8,393.0h0M559.0,389.6h0M559.2,397.2h0M559.3,391.2h0M559.5,386.8h0M559.7,391.2h0M559.9,389.6h0M560.0,391.2h0M560.4,397.2h0M560.5,393.0h0M560.9,388.1h0M561.1,397.2h0M562.4,385.5h0M562.8,389.6h0M563.6,391.2h0M564.2,393.0h0M566.7,391.2h0M567.4,391.2h0M568.3,391.2h0M569.8,393.0h0M571.2,391.2h0M573.3,393.0h0M575.2,391.2h0M575.9,386.8h0M576.2,391.2h0M576.7,389.6h0M578.5,388.1h0M582.4,393.0h0M583.3,389.6h0M583.4,391.2h0M584.8,393.0h0M586.7,391.2h0M587.4,391.2h0M587.9,389.6h0M589.3,393.0h0M591.4,393.0h0M591.5,391.2h0M596.4,393.0h0M596.9,391.2h0M597.6,391.2h0M598.1,388.1h0M601.0,393.0h0M603.8,386.8h0M603.9,389.6h0M610.5,393.0h0M611.2,385.5h0M615.1,389.6h0M616.9,385.5h0M617.4,393.0h0M617.7,391.2h0M618.2,393.0h0M618.6,393.0h0M619.8,389.6h0M620.5,391.2h0M621.2,385.5h0M621.7,393.0h0M623.2,391.2h0M624.6,393.0h0M627.0,388.1h0M629.9,389.6h0M634.6,393.0h0M634.9,391.2h0M635.3,388.1h0M637.0,393.0h0M639.6,393.0h0M640.8,389.6h0M641.7,393.0h0M642.5,391.2h0M644.2,393.0h0M646.0,389.6h0M647.9,393.0h0M649.7,388.1h0M650.6,393.0h0M651.6,391.2h0M655.8,386.8h0M658.5,391.2h0M665.9,393.0h0" stroke="#f09a38" stroke-width="2.7" stroke-linecap="round" fill="none"/>
<path d="M503.9,312.1h0M504.1,302.2h0M504.2,296.8h0M504.4,294.5h0M504.8,295.3h0M505.1,296.6h0M505.3,296.7h0M505.4,297.4h0M505.6,298.6h0M505.8,298.8h0M506.1,300.2h0M506.3,300.3h0M506.5,301.0h0M506.6,301.6h0M506.8,302.1h0M507.0,302.4h0M507.2,303.2h0M507.3,303.9h0M507.5,303.6h0M507.7,304.0h0M507.9,305.2h0M508.2,306.6h0M508.4,306.2h0M508.5,307.2h0M508.7,307.9h0M508.9,308.1h0M509.1,309.4h0M509.2,309.3h0M509.4,310.1h0M509.7,311.1h0M509.9,311.3h0M510.1,311.6h0M510.3,312.5h0M510.6,312.7h0M510.8,314.0h0M511.0,315.1h0M511.1,316.1h0M511.3,316.7h0M511.5,316.2h0M511.6,316.4h0M511.8,317.9h0M512.0,317.9h0M512.2,318.9h0M512.3,319.3h0M512.7,320.3h0M512.8,321.0h0M513.2,320.2h0M513.4,322.5h0M513.5,323.0h0M513.7,323.0h0M513.9,325.2h0M514.1,324.1h0M514.2,326.1h0M514.4,324.6h0M514.6,326.4h0M514.7,328.1h0M514.9,327.3h0M515.1,327.0h0M515.3,328.4h0M515.6,330.4h0M515.9,329.7h0M516.1,330.7h0M516.3,332.1h0M516.5,331.5h0M516.6,332.7h0M516.8,333.7h0M517.0,333.1h0M517.2,333.4h0M517.3,334.3h0M517.5,336.4h0M517.8,335.8h0M518.0,339.0h0M518.2,337.9h0M518.4,338.3h0M518.7,339.7h0M518.9,340.1h0M519.0,338.9h0M519.2,339.3h0M519.4,340.5h0M519.6,342.3h0M519.9,340.3h0M520.1,342.5h0M520.3,344.4h0M520.4,345.2h0M520.6,345.9h0M520.8,344.5h0M520.9,344.6h0M521.1,347.4h0M521.3,344.9h0M521.5,343.6h0M521.6,346.3h0M521.8,348.5h0M522.0,346.5h0M522.1,350.8h0M522.3,350.5h0M522.5,349.1h0M522.7,349.4h0M522.8,349.1h0M523.0,349.8h0M523.2,349.2h0M523.4,353.5h0M523.5,355.5h0M523.7,354.9h0M524.0,353.5h0M524.2,353.2h0M524.4,355.9h0M524.6,356.3h0M524.7,355.0h0M524.9,360.9h0M525.1,357.9h0M525.2,355.2h0M525.4,356.3h0M525.6,357.4h0M525.9,361.2h0M526.1,363.7h0M526.3,356.5h0M526.4,361.2h0M526.6,365.1h0M526.8,361.5h0M527.0,366.6h0M527.1,362.7h0M527.3,361.8h0M527.5,364.7h0M527.7,360.1h0M527.8,359.3h0M528.0,365.4h0M528.2,364.7h0M528.3,366.2h0M528.7,370.0h0M528.9,367.8h0M529.0,365.1h0M529.2,366.2h0M529.4,370.0h0M529.5,368.7h0M529.7,370.5h0M529.9,366.6h0M530.1,371.6h0M530.2,367.8h0M530.4,374.4h0M530.6,370.5h0M530.8,369.6h0M530.9,373.2h0M531.1,375.7h0M531.3,371.0h0M531.6,370.0h0M531.8,375.7h0M532.0,376.4h0M532.1,372.1h0M532.3,377.9h0M532.5,375.1h0M532.6,377.9h0M532.8,379.5h0M533.0,377.1h0M533.2,376.4h0M533.3,375.7h0M533.5,379.5h0M533.7,382.2h0M534.0,378.7h0M534.2,384.4h0M534.4,375.7h0M534.5,383.3h0M534.7,379.5h0M534.9,382.2h0M535.1,375.1h0M535.2,380.4h0M535.4,377.9h0M535.6,381.3h0M535.7,381.3h0M536.1,376.4h0M536.3,384.4h0M536.4,383.3h0M536.6,388.1h0M536.8,386.8h0M537.0,383.3h0M537.1,378.7h0M537.3,383.3h0M537.5,386.8h0M537.6,381.3h0M537.8,388.1h0M538.0,380.4h0M538.2,384.4h0M538.5,384.4h0M538.7,379.5h0M538.8,386.8h0M539.0,402.9h0M539.2,389.6h0M539.4,395.0h0M539.5,384.4h0M539.7,385.5h0M539.9,385.5h0M540.1,391.2h0M540.2,391.2h0M540.4,389.6h0M540.6,388.1h0M540.7,386.8h0M540.9,397.2h0M541.1,389.6h0M541.3,393.0h0M541.4,391.2h0M541.6,382.2h0M541.8,397.2h0M541.9,386.8h0M542.1,391.2h0M542.3,388.1h0M542.5,397.2h0M542.6,384.4h0M542.8,397.2h0M543.0,384.4h0M543.2,397.2h0M543.3,391.2h0M543.5,386.8h0M543.7,406.7h0M543.8,389.6h0M544.0,383.3h0M544.2,382.2h0M544.4,391.2h0M544.7,393.0h0M544.9,393.0h0M545.2,388.1h0M545.4,393.0h0M545.6,395.0h0M545.7,391.2h0M545.9,397.2h0M546.1,391.2h0M546.3,399.8h0M546.6,406.7h0M546.8,397.2h0M546.9,386.8h0M547.1,385.5h0M547.3,388.1h0M547.5,399.8h0M547.6,388.1h0M548.0,399.8h0M548.1,395.0h0M548.3,391.2h0M548.5,389.6h0M548.7,388.1h0M548.8,385.5h0M549.0,384.4h0M549.2,399.8h0M549.4,385.5h0M549.5,391.2h0M549.7,395.0h0M549.9,389.6h0M550.0,393.0h0M550.2,395.0h0M550.6,393.0h0M550.7,382.2h0M550.9,388.1h0M551.1,391.2h0M551.4,393.0h0M551.6,388.1h0M551.9,395.0h0M552.1,406.7h0M552.3,402.9h0M552.5,393.0h0M552.6,395.0h0M552.8,397.2h0M553.0,418.4h0M553.1,397.2h0M553.3,393.0h0M553.5,389.6h0M553.8,386.8h0M554.0,402.9h0M554.2,391.2h0M554.3,393.0h0M554.5,402.9h0M554.7,397.2h0M554.9,395.0h0M555.0,391.2h0M555.2,395.0h0M555.4,389.6h0M555.6,399.8h0M555.7,397.2h0M556.1,402.9h0M556.2,383.3h0M556.4,393.0h0M556.6,393.0h0M556.8,388.1h0M556.9,395.0h0M557.1,397.2h0M557.4,395.0h0M557.6,397.2h0M557.8,395.0h0M558.0,397.2h0M558.1,391.2h0M558.3,389.6h0M558.5,406.7h0M558.7,399.8h0M558.8,393.0h0M559.0,399.8h0M559.2,402.9h0M559.3,395.0h0M559.7,395.0h0M559.9,388.1h0M560.0,395.0h0M560.2,391.2h0M560.4,389.6h0M560.5,397.2h0M560.9,393.0h0M561.1,397.2h0M565.0,389.6h0M565.5,393.0h0M571.4,391.2h0M572.1,391.2h0M572.6,391.2h0M578.1,393.0h0M580.7,389.6h0M584.1,389.6h0M588.6,393.0h0M590.2,391.2h0M591.4,389.6h0M592.6,393.0h0M592.9,393.0h0M596.2,393.0h0M601.4,393.0h0M601.5,386.8h0M602.4,393.0h0M605.1,389.6h0M608.2,386.8h0M608.9,391.2h0M614.8,393.0h0M615.1,393.0h0M615.6,389.6h0M619.3,391.2h0M621.3,393.0h0M621.7,389.6h0M624.9,388.1h0M625.8,391.2h0M627.5,388.1h0M627.7,385.5h0M628.9,388.1h0M630.5,393.0h0M634.6,391.2h0M637.5,393.0h0M641.0,393.0h0M642.0,388.1h0M642.2,391.2h0M645.3,391.2h0M645.6,391.2h0M645.8,393.0h0M646.1,393.0h0M647.3,388.1h0M647.7,391.2h0M649.2,393.0h0M649.6,389.6h0M650.1,391.2h0M656.5,389.6h0M661.5,389.6h0M664.9,388.1h0M665.6,393.0h0" stroke="#b06a30" stroke-width="2.7" stroke-linecap="round" fill="none"/>
<path d="M503.9,312.2h0M504.1,301.9h0M504.2,296.7h0M504.4,294.1h0M504.6,294.9h0M504.8,295.4h0M504.9,296.2h0M505.1,296.9h0M505.3,297.0h0M505.4,297.6h0M505.6,298.5h0M505.8,299.0h0M506.1,299.8h0M506.3,301.8h0M506.5,301.4h0M506.6,301.9h0M506.8,302.6h0M507.0,303.0h0M507.2,303.3h0M507.3,304.2h0M507.5,305.0h0M507.9,306.0h0M508.2,307.3h0M508.4,306.9h0M508.5,308.5h0M508.7,309.0h0M508.9,309.6h0M509.1,310.3h0M509.2,311.3h0M509.4,311.2h0M509.7,312.5h0M509.9,314.3h0M510.1,312.4h0M510.3,314.0h0M510.4,315.3h0M510.6,315.6h0M510.8,316.7h0M511.0,316.1h0M511.1,318.0h0M511.3,318.9h0M511.5,317.3h0M511.6,318.6h0M512.0,319.8h0M512.2,320.9h0M512.3,321.0h0M512.5,320.4h0M512.7,321.8h0M512.8,323.5h0M513.0,323.2h0M513.2,325.1h0M513.4,325.0h0M513.5,324.6h0M513.7,325.6h0M513.9,325.8h0M514.1,327.4h0M514.2,327.5h0M514.4,327.2h0M514.6,328.2h0M514.7,327.6h0M514.9,332.3h0M515.1,330.9h0M515.3,329.2h0M515.4,332.3h0M515.6,332.3h0M515.8,333.4h0M515.9,333.8h0M516.5,335.8h0M516.6,336.6h0M517.0,337.1h0M517.2,338.2h0M517.3,337.7h0M517.5,338.6h0M517.7,338.8h0M517.8,338.8h0M518.0,342.8h0M518.2,340.6h0M518.4,339.8h0M518.5,341.7h0M518.7,342.5h0M518.9,342.2h0M519.0,343.6h0M519.2,342.6h0M519.4,345.5h0M519.6,343.8h0M519.7,345.8h0M519.9,344.9h0M520.1,348.3h0M520.3,348.0h0M520.4,347.7h0M520.6,349.2h0M520.8,347.4h0M520.9,350.7h0M521.1,351.3h0M521.3,349.7h0M521.5,355.0h0M521.6,350.7h0M521.8,351.0h0M522.1,350.1h0M522.3,354.1h0M522.5,354.7h0M522.7,355.7h0M522.8,359.3h0M523.0,353.3h0M523.2,361.2h0M523.4,351.2h0M523.5,350.7h0M523.7,358.6h0M523.9,356.7h0M524.0,363.7h0M524.2,357.6h0M524.4,359.6h0M524.6,360.4h0M524.7,359.6h0M524.9,360.1h0M525.1,361.5h0M525.2,360.9h0M525.4,360.7h0M525.6,362.1h0M525.8,363.0h0M525.9,364.7h0M526.3,369.1h0M526.4,361.5h0M526.6,367.4h0M526.8,368.7h0M527.0,363.4h0M527.1,368.2h0M527.3,370.0h0M527.5,362.7h0M527.7,372.6h0M527.8,373.2h0M528.0,370.5h0M528.2,368.7h0M528.3,373.8h0M528.5,370.5h0M528.7,382.2h0M528.9,378.7h0M529.0,371.0h0M529.2,373.8h0M529.4,371.6h0M529.5,371.6h0M529.7,377.1h0M529.9,377.1h0M530.1,378.7h0M530.2,380.4h0M530.4,386.8h0M530.6,379.5h0M530.8,377.9h0M530.9,377.1h0M531.1,375.1h0M531.3,379.5h0M531.6,376.4h0M531.8,382.2h0M532.0,380.4h0M532.1,380.4h0M532.3,378.7h0M532.5,381.3h0M532.6,385.5h0M532.8,377.1h0M533.2,377.1h0M533.3,382.2h0M533.5,388.1h0M533.7,379.5h0M534.0,382.2h0M534.2,384.4h0M534.4,380.4h0M534.5,377.9h0M534.7,384.4h0M534.9,379.5h0M535.1,378.7h0M535.2,385.5h0M535.4,389.6h0M535.6,380.4h0M535.7,385.5h0M535.9,384.4h0M536.1,388.1h0M536.3,384.4h0M536.4,382.2h0M536.6,389.6h0M536.8,384.4h0M537.0,389.6h0M537.1,379.5h0M537.3,391.2h0M537.5,388.1h0M537.6,395.0h0M537.8,391.2h0M538.0,388.1h0M538.2,395.0h0M538.3,386.8h0M538.5,381.3h0M538.7,402.9h0M538.8,397.2h0M539.0,402.9h0M539.2,391.2h0M539.4,388.1h0M539.5,395.0h0M539.7,385.5h0M539.9,406.7h0M540.1,389.6h0M540.2,385.5h0M540.4,391.2h0M540.6,388.1h0M540.7,386.8h0M541.1,393.0h0M541.3,399.8h0M541.6,389.6h0M541.8,395.0h0M541.9,402.9h0M542.1,388.1h0M542.3,406.7h0M542.5,395.0h0M542.6,397.2h0M542.8,395.0h0M543.0,393.0h0M543.2,397.2h0M543.3,385.5h0M543.5,402.9h0M543.7,395.0h0M543.8,393.0h0M544.0,399.8h0M544.2,385.5h0M544.4,388.1h0M544.5,386.8h0M544.7,391.2h0M544.9,397.2h0M545.0,385.5h0M545.2,402.9h0M545.4,393.0h0M545.7,397.2h0M545.9,406.7h0M546.1,397.2h0M546.3,399.8h0M546.4,386.8h0M546.6,402.9h0M546.8,395.0h0M546.9,391.2h0M547.1,399.8h0M547.3,397.2h0M547.5,389.6h0M547.6,399.8h0M547.8,395.0h0M548.0,389.6h0M548.3,395.0h0M548.5,397.2h0M548.7,418.4h0M548.8,389.6h0M549.0,402.9h0M549.2,397.2h0M549.4,397.2h0M549.5,399.8h0M549.7,402.9h0M549.9,389.6h0M550.0,388.1h0M550.2,391.2h0M550.4,393.0h0M550.7,397.2h0M550.9,383.3h0M551.1,393.0h0M551.2,389.6h0M551.4,395.0h0M551.6,388.1h0M551.8,399.8h0M551.9,402.9h0M552.1,388.1h0M552.3,397.2h0M552.5,406.7h0M552.6,418.4h0M552.8,397.2h0M553.0,395.0h0M553.1,402.9h0M553.3,402.9h0M553.7,406.7h0M553.8,391.2h0M554.0,389.6h0M554.2,397.2h0M554.3,391.2h0M554.5,418.4h0M554.7,395.0h0M554.9,391.2h0M555.0,402.9h0M555.2,399.8h0M555.4,397.2h0M555.6,388.1h0M555.7,391.2h0M555.9,397.2h0M556.1,397.2h0M556.4,393.0h0M556.6,402.9h0M556.8,397.2h0M556.9,386.8h0M557.1,399.8h0M557.3,406.7h0M557.4,397.2h0M557.6,399.8h0M557.8,402.9h0M558.0,418.4h0M558.1,395.0h0M558.3,399.8h0M558.5,395.0h0M558.8,406.7h0M559.0,399.8h0M559.2,399.8h0M559.3,395.0h0M559.5,389.6h0M559.7,406.7h0M559.9,393.0h0M560.0,399.8h0M560.2,393.0h0M560.4,389.6h0M560.5,393.0h0M560.7,391.2h0M560.9,397.2h0M561.1,411.5h0M561.2,393.0h0M561.4,399.8h0M561.6,397.2h0M561.8,406.7h0M561.9,393.0h0M562.1,399.8h0M562.3,391.2h0M562.4,402.9h0M562.6,393.0h0M562.8,393.0h0M563.0,399.8h0M563.3,388.1h0M563.5,393.0h0M563.6,389.6h0M563.8,399.8h0M564.0,395.0h0M564.2,402.9h0M564.7,399.8h0M564.9,411.5h0M565.0,389.6h0M565.2,388.1h0M565.4,391.2h0M565.5,402.9h0M565.9,402.9h0M566.1,395.0h0M566.2,399.8h0M566.4,389.6h0M566.6,397.2h0M566.7,395.0h0M566.9,402.9h0M567.1,395.0h0M567.3,399.8h0M567.6,395.0h0M567.8,397.2h0M567.9,393.0h0M568.1,406.7h0M568.3,395.0h0M568.5,402.9h0M568.6,402.9h0M568.8,406.7h0M569.0,391.2h0M569.2,397.2h0M569.5,393.0h0M569.8,411.5h0M570.0,386.8h0M570.2,397.2h0M570.5,395.0h0M570.9,391.2h0M571.0,393.0h0M571.2,411.5h0M571.4,389.6h0M571.6,402.9h0M571.7,388.1h0M571.9,406.7h0M572.1,389.6h0M572.3,402.9h0M572.4,399.8h0M572.6,397.2h0M572.8,411.5h0M573.1,397.2h0M573.3,402.9h0M573.5,395.0h0M573.6,395.0h0M573.8,393.0h0M574.0,389.6h0M574.1,406.7h0M574.3,397.2h0M574.5,395.0h0M574.7,406.7h0M575.0,411.5h0M575.2,399.8h0M575.4,399.8h0M575.7,391.2h0M575.9,393.0h0M576.0,397.2h0M576.2,395.0h0M576.4,399.8h0M576.7,391.2h0M576.9,397.2h0M577.1,402.9h0M577.2,395.0h0M577.4,402.9h0M577.6,393.0h0M577.8,397.2h0M577.9,406.7h0M578.1,393.0h0M578.3,395.0h0M578.5,406.7h0M578.6,397.2h0M578.8,402.9h0M579.0,393.0h0M579.1,389.6h0M579.3,402.9h0M579.5,397.2h0M579.7,389.6h0M579.8,395.0h0M580.2,393.0h0M580.3,393.0h0M580.5,397.2h0M580.9,399.8h0M581.0,393.0h0M581.2,395.0h0M581.4,399.8h0M581.6,393.0h0M581.7,402.9h0M581.9,397.2h0M582.1,386.8h0M582.2,393.0h0M582.4,399.8h0M582.6,395.0h0M582.8,397.2h0M582.9,402.9h0M583.1,406.7h0M583.3,397.2h0M583.4,395.0h0M583.6,399.8h0M583.8,393.0h0M584.0,399.8h0M584.1,397.2h0M584.3,393.0h0M584.5,391.2h0M584.7,389.6h0M584.8,402.9h0M585.0,406.7h0M585.2,411.5h0M585.3,397.2h0M585.5,399.8h0M585.7,406.7h0M585.9,397.2h0M586.0,399.8h0M586.2,406.7h0M586.4,397.2h0M586.7,406.7h0M586.9,411.5h0M587.1,402.9h0M587.2,393.0h0M587.4,411.5h0M587.6,406.7h0M587.8,402.9h0M587.9,418.4h0M588.1,402.9h0M588.3,393.0h0M588.4,402.9h0M588.6,406.7h0M588.8,386.8h0M589.0,399.8h0M589.1,395.0h0M589.3,402.9h0M589.8,397.2h0M590.0,418.4h0M590.2,393.0h0M590.3,389.6h0M590.5,393.0h0M590.7,393.0h0M590.9,411.5h0M591.2,389.6h0M591.4,393.0h0M591.5,411.5h0M591.7,406.7h0M591.9,402.9h0M592.1,399.8h0M592.2,402.9h0M592.6,402.9h0M592.7,389.6h0M592.9,399.8h0M593.1,393.0h0M593.3,402.9h0M593.4,395.0h0M593.6,388.1h0M593.8,397.2h0M594.0,406.7h0M594.3,399.8h0M594.5,402.9h0M594.6,406.7h0M594.8,399.8h0M595.0,395.0h0M595.2,406.7h0M595.3,397.2h0M595.5,395.0h0M595.7,388.1h0M595.8,389.6h0M596.0,395.0h0M596.2,402.9h0M596.4,399.8h0M596.5,402.9h0M596.7,395.0h0M597.1,391.2h0M597.2,418.4h0M597.4,399.8h0M597.6,384.4h0M597.7,397.2h0M597.9,402.9h0M598.1,395.0h0M598.3,406.7h0M598.4,389.6h0M598.6,395.0h0M598.8,393.0h0M598.9,397.2h0M599.3,399.8h0M599.5,391.2h0M599.6,386.8h0M599.8,402.9h0M600.0,399.8h0M600.2,411.5h0M600.3,406.7h0M600.5,402.9h0M600.7,402.9h0M600.8,399.8h0M601.0,397.2h0M601.4,399.8h0M601.5,393.0h0M601.7,399.8h0M602.0,399.8h0M602.2,418.4h0M602.4,395.0h0M602.6,406.7h0M602.7,402.9h0M602.9,393.0h0M603.1,397.2h0M603.3,399.8h0M603.4,402.9h0M603.8,406.7h0M603.9,391.2h0M604.1,395.0h0M604.3,418.4h0M604.5,395.0h0M604.6,397.2h0M604.8,393.0h0M605.0,395.0h0M605.1,385.5h0M605.3,395.0h0M605.5,399.8h0M605.7,397.2h0M605.8,389.6h0M606.0,402.9h0M606.4,395.0h0M606.5,389.6h0M606.7,399.8h0M606.9,395.0h0M607.0,411.5h0M607.2,418.4h0M607.4,397.2h0M607.6,402.9h0M607.7,397.2h0M607.9,411.5h0M608.1,393.0h0M608.2,402.9h0M608.4,393.0h0M608.6,411.5h0M608.8,397.2h0M608.9,399.8h0M609.1,395.0h0M609.3,393.0h0M609.5,391.2h0M609.6,391.2h0M609.8,411.5h0M610.0,406.7h0M610.1,406.7h0M610.5,402.9h0M610.7,393.0h0M611.0,418.4h0M611.3,393.0h0M611.7,388.1h0M611.9,402.9h0M612.0,406.7h0M612.2,418.4h0M612.4,397.2h0M612.5,402.9h0M612.7,406.7h0M612.9,411.5h0M613.1,389.6h0M613.2,397.2h0M613.4,402.9h0M613.6,397.2h0M613.8,388.1h0M613.9,406.7h0M614.1,397.2h0M614.3,402.9h0M614.4,395.0h0M614.6,402.9h0M614.8,399.8h0M615.0,411.5h0M615.5,411.5h0M615.6,397.2h0M615.8,395.0h0M616.0,391.2h0M616.2,399.8h0M616.3,402.9h0M616.7,395.0h0M616.9,397.2h0M617.0,384.4h0M617.2,397.2h0M617.4,406.7h0M617.5,393.0h0M617.7,393.0h0M617.9,391.2h0M618.1,402.9h0M618.2,399.8h0M618.4,395.0h0M618.6,397.2h0M618.7,402.9h0M619.1,402.9h0M619.3,399.8h0M619.4,395.0h0M620.0,406.7h0M620.1,393.0h0M620.3,397.2h0M620.5,402.9h0M620.6,393.0h0M620.8,406.7h0M621.0,397.2h0M621.2,399.8h0M621.3,406.7h0M621.5,402.9h0M621.7,402.9h0M621.8,397.2h0M622.0,395.0h0M622.2,399.8h0M622.4,395.0h0M622.5,397.2h0M622.7,411.5h0M622.9,395.0h0M623.1,397.2h0M623.4,391.2h0M623.6,397.2h0M623.7,402.9h0M623.9,393.0h0M624.1,402.9h0M624.3,399.8h0M624.4,406.7h0M624.6,397.2h0M624.8,402.9h0M624.9,406.7h0M625.1,399.8h0M625.3,395.0h0M625.5,391.2h0M625.6,402.9h0M625.8,397.2h0M626.0,395.0h0M626.2,399.8h0M626.3,395.0h0M626.5,406.7h0M626.7,402.9h0M627.0,397.2h0M627.2,393.0h0M627.4,402.9h0M627.5,397.2h0M627.7,391.2h0M628.0,397.2h0M628.2,402.9h0M628.6,418.4h0M628.7,399.8h0M628.9,411.5h0M629.1,393.0h0M629.3,402.9h0M629.4,399.8h0M629.6,402.9h0M629.9,395.0h0M630.1,397.2h0M630.3,399.8h0M630.6,395.0h0M630.8,399.8h0M631.1,395.0h0M631.3,406.7h0M631.5,402.9h0M631.7,402.9h0M631.8,397.2h0M632.0,395.0h0M632.2,411.5h0M632.4,395.0h0M632.5,388.1h0M632.7,395.0h0M632.9,397.2h0M633.0,411.5h0M633.2,389.6h0M633.4,406.7h0M633.6,399.8h0M633.7,395.0h0M633.9,399.8h0M634.1,411.5h0M634.2,397.2h0M634.4,393.0h0M634.6,406.7h0M634.8,399.8h0M634.9,395.0h0M635.1,406.7h0M635.3,411.5h0M635.5,389.6h0M635.8,395.0h0M636.0,397.2h0M636.1,397.2h0M636.3,399.8h0M636.5,406.7h0M636.7,418.4h0M636.8,395.0h0M637.0,406.7h0M637.3,402.9h0M637.5,402.9h0M637.7,395.0h0M638.0,393.0h0M638.2,399.8h0M638.4,385.5h0M638.6,393.0h0M638.7,397.2h0M638.9,391.2h0M639.1,402.9h0M639.2,399.8h0M639.4,397.2h0M639.8,399.8h0M639.9,402.9h0M640.1,395.0h0M640.3,402.9h0M640.4,399.8h0M640.6,397.2h0M641.0,402.9h0M641.1,406.7h0M641.3,386.8h0M641.5,391.2h0M641.7,397.2h0M641.8,393.0h0M642.0,402.9h0M642.5,402.9h0M642.7,397.2h0M642.9,402.9h0M643.0,391.2h0M643.2,399.8h0M643.4,393.0h0M643.5,402.9h0M643.7,397.2h0M643.9,406.7h0M644.1,402.9h0M644.2,399.8h0M644.4,395.0h0M644.6,386.8h0M644.8,395.0h0M644.9,399.8h0M645.1,399.8h0M645.3,402.9h0M645.6,397.2h0M645.8,399.8h0M646.0,393.0h0M646.1,399.8h0M646.3,393.0h0M646.5,399.8h0M646.8,391.2h0M647.0,402.9h0M647.2,399.8h0M647.3,393.0h0M647.5,402.9h0M647.7,411.5h0M647.9,402.9h0M648.0,406.7h0M648.4,397.2h0M648.5,393.0h0M648.7,395.0h0M648.9,397.2h0M649.1,411.5h0M649.2,395.0h0M649.6,393.0h0M649.7,406.7h0M649.9,411.5h0M650.1,397.2h0M650.3,395.0h0M650.6,402.9h0M650.8,399.8h0M651.0,406.7h0M651.1,399.8h0M651.3,395.0h0M651.5,402.9h0M651.6,406.7h0M651.8,399.8h0M652.0,397.2h0M652.3,399.8h0M652.5,402.9h0M652.7,393.0h0M652.8,388.1h0M653.0,395.0h0M653.2,391.2h0M653.4,411.5h0M653.7,391.2h0M653.9,399.8h0M654.0,397.2h0M654.2,399.8h0M654.4,402.9h0M654.6,402.9h0M654.9,397.2h0M655.1,391.2h0M655.3,399.8h0M655.4,399.8h0M655.8,397.2h0M655.9,406.7h0M656.1,418.4h0M656.3,397.2h0M656.5,411.5h0M656.6,406.7h0M656.8,411.5h0M657.0,395.0h0M657.1,399.8h0M657.3,395.0h0M657.5,397.2h0M657.7,389.6h0M657.8,399.8h0M658.2,397.2h0M658.4,406.7h0M658.5,402.9h0M658.7,395.0h0M658.9,397.2h0M659.0,406.7h0M659.4,402.9h0M659.6,395.0h0M659.7,397.2h0M659.9,399.8h0M660.1,399.8h0M660.2,406.7h0M660.4,406.7h0M660.6,395.0h0M660.9,388.1h0M661.1,399.8h0M661.3,402.9h0M661.5,395.0h0M661.6,389.6h0M661.8,395.0h0M662.1,402.9h0M662.3,399.8h0M662.5,395.0h0M662.7,395.0h0M662.8,406.7h0M663.0,386.8h0M663.2,397.2h0M663.3,393.0h0M663.7,391.2h0M663.9,388.1h0M664.0,406.7h0M664.2,395.0h0M664.4,411.5h0M664.6,389.6h0M664.7,402.9h0M664.9,399.8h0M665.1,397.2h0M665.2,411.5h0M665.4,399.8h0M665.6,391.2h0M665.8,397.2h0M665.9,402.9h0M550.0,418.4h0M551.3,418.4h0M552.3,418.4h0M553.5,418.4h0M554.7,418.4h0M556.2,418.4h0M557.4,418.4h0M558.9,418.4h0M560.2,418.4h0M561.3,418.4h0M562.8,418.4h0M563.8,418.4h0M565.3,418.4h0M566.4,418.4h0M567.3,418.4h0M568.3,418.4h0M569.8,418.4h0M571.5,418.4h0M572.4,418.4h0M573.7,418.4h0M575.0,418.4h0M576.5,418.4h0M577.5,418.4h0M578.8,418.4h0M580.0,418.4h0M581.5,418.4h0M582.7,418.4h0M584.3,418.4h0M585.4,418.4h0M586.5,418.4h0M587.9,418.4h0M589.2,418.4h0M590.2,418.4h0M591.6,418.4h0M592.6,418.4h0M594.1,418.4h0M595.5,418.4h0M597.0,418.4h0M598.4,418.4h0M599.6,418.4h0M600.8,418.4h0M602.0,418.4h0M603.6,418.4h0M604.6,418.4h0M606.2,418.4h0M607.1,418.4h0M608.2,418.4h0M609.3,418.4h0M610.9,418.4h0M612.2,418.4h0M613.4,418.4h0M615.0,418.4h0M616.1,418.4h0M617.3,418.4h0M618.6,418.4h0M620.1,418.4h0M621.6,418.4h0M623.0,418.4h0M624.2,418.4h0M625.4,418.4h0M626.4,418.4h0M627.9,418.4h0M629.4,418.4h0M630.8,418.4h0M631.9,418.4h0M633.1,418.4h0M634.6,418.4h0M636.0,418.4h0M637.0,418.4h0M638.2,418.4h0M639.8,418.4h0M640.9,418.4h0M642.0,418.4h0M643.1,418.4h0M644.5,418.4h0M646.1,418.4h0M647.1,418.4h0M648.2,418.4h0M649.2,418.4h0M650.4,418.4h0M651.7,418.4h0M652.7,418.4h0M653.9,418.4h0M655.0,418.4h0M656.6,418.4h0M658.1,418.4h0M659.1,418.4h0M660.7,418.4h0M661.7,418.4h0M662.9,418.4h0M664.6,418.4h0M666.1,418.4h0M543.1,411.5h0M544.2,411.5h0M545.2,411.5h0M546.5,411.5h0M547.4,411.5h0M548.4,411.5h0M549.6,411.5h0M550.4,411.5h0M551.6,411.5h0M553.0,411.5h0M554.3,411.5h0M555.5,411.5h0M556.8,411.5h0M558.0,411.5h0M558.9,411.5h0M560.2,411.5h0M561.4,411.5h0M562.7,411.5h0M564.2,411.5h0M565.4,411.5h0M566.7,411.5h0M568.0,411.5h0M569.2,411.5h0M570.2,411.5h0M571.6,411.5h0M573.0,411.5h0M574.5,411.5h0M575.8,411.5h0M577.3,411.5h0M578.6,411.5h0M579.9,411.5h0M581.1,411.5h0M582.1,411.5h0M583.4,411.5h0M584.4,411.5h0M585.5,411.5h0M586.9,411.5h0M588.3,411.5h0M589.6,411.5h0M590.6,411.5h0M591.8,411.5h0M592.9,411.5h0M594.2,411.5h0M595.4,411.5h0M596.7,411.5h0M598.2,411.5h0M599.2,411.5h0M600.5,411.5h0M601.9,411.5h0M603.0,411.5h0M604.2,411.5h0M605.8,411.5h0M606.6,411.5h0M607.9,411.5h0M608.8,411.5h0M610.3,411.5h0M611.8,411.5h0M613.0,411.5h0M613.9,411.5h0M615.2,411.5h0M616.4,411.5h0M617.8,411.5h0M619.0,411.5h0M620.3,411.5h0M621.7,411.5h0M623.0,411.5h0M624.1,411.5h0M625.6,411.5h0M626.6,411.5h0M628.0,411.5h0M629.1,411.5h0M630.5,411.5h0M631.4,411.5h0M633.0,411.5h0M634.1,411.5h0M635.0,411.5h0M636.0,411.5h0M637.1,411.5h0M638.0,411.5h0M639.1,411.5h0M640.3,411.5h0M641.6,411.5h0M642.7,411.5h0M643.8,411.5h0M644.8,411.5h0M646.2,411.5h0M647.7,411.5h0M648.9,411.5h0M649.9,411.5h0M651.3,411.5h0M652.5,411.5h0M653.4,411.5h0M654.4,411.5h0M655.8,411.5h0M657.2,411.5h0M658.5,411.5h0M659.7,411.5h0M661.0,411.5h0M662.0,411.5h0M663.5,411.5h0M664.6,411.5h0M665.9,411.5h0M540.5,406.7h0M541.9,406.7h0M543.1,406.7h0M544.2,406.7h0M545.4,406.7h0M546.3,406.7h0M547.8,406.7h0M548.9,406.7h0M550.3,406.7h0M551.4,406.7h0M552.5,406.7h0M553.5,406.7h0M554.7,406.7h0M555.6,406.7h0M556.5,406.7h0M557.9,406.7h0M558.9,406.7h0M559.9,406.7h0M561.0,406.7h0M562.2,406.7h0M563.3,406.7h0M564.6,406.7h0M566.0,406.7h0M567.1,406.7h0M568.6,406.7h0M570.0,406.7h0M570.9,406.7h0M572.4,406.7h0M573.9,406.7h0M575.3,406.7h0M576.2,406.7h0M577.7,406.7h0M579.0,406.7h0M579.8,406.7h0M580.7,406.7h0M582.2,406.7h0M583.5,406.7h0M584.6,406.7h0M585.5,406.7h0M586.4,406.7h0M587.4,406.7h0M588.8,406.7h0M589.9,406.7h0M590.9,406.7h0M592.4,406.7h0M593.8,406.7h0M594.8,406.7h0M596.3,406.7h0M597.5,406.7h0M598.9,406.7h0M600.3,406.7h0M601.8,406.7h0M603.2,406.7h0M604.6,406.7h0M605.6,406.7h0M607.0,406.7h0M608.2,406.7h0M609.6,406.7h0M610.7,406.7h0M612.2,406.7h0M613.5,406.7h0M614.5,406.7h0M615.5,406.7h0M616.4,406.7h0M617.6,406.7h0M618.5,406.7h0M619.7,406.7h0M620.7,406.7h0M621.9,406.7h0M623.1,406.7h0M624.3,406.7h0M625.8,406.7h0M626.6,406.7h0M628.1,406.7h0M629.3,406.7h0M630.5,406.7h0M631.8,406.7h0M633.3,406.7h0M634.4,406.7h0M635.5,406.7h0M637.1,406.7h0M638.0,406.7h0M639.3,406.7h0M640.6,406.7h0M641.4,406.7h0M642.7,406.7h0M644.1,406.7h0M645.6,406.7h0M646.7,406.7h0M648.2,406.7h0M649.4,406.7h0M650.6,406.7h0M652.1,406.7h0M653.0,406.7h0M654.4,406.7h0M655.7,406.7h0M656.7,406.7h0M658.2,406.7h0M659.3,406.7h0M660.5,406.7h0M661.7,406.7h0M663.1,406.7h0M664.1,406.7h0M665.3,406.7h0M538.8,402.9h0M540.2,402.9h0M541.8,402.9h0M543.0,402.9h0M544.7,402.9h0M546.0,402.9h0M547.4,402.9h0M548.6,402.9h0M549.9,402.9h0M551.7,402.9h0M553.2,402.9h0M554.8,402.9h0M556.1,402.9h0M557.3,402.9h0M558.5,402.9h0M560.0,402.9h0M561.4,402.9h0M563.1,402.9h0M564.1,402.9h0M565.6,402.9h0M567.3,402.9h0M568.7,402.9h0M569.7,402.9h0M570.9,402.9h0M571.9,402.9h0M573.0,402.9h0M574.8,402.9h0M576.2,402.9h0M577.7,402.9h0M579.4,402.9h0M581.1,402.9h0M582.5,402.9h0M584.0,402.9h0M585.5,402.9h0M587.0,402.9h0M588.5,402.9h0M590.0,402.9h0M591.2,402.9h0M592.7,402.9h0M594.0,402.9h0M595.6,402.9h0M596.7,402.9h0M597.8,402.9h0M598.8,402.9h0M600.4,402.9h0M602.1,402.9h0M603.6,402.9h0M604.9,402.9h0M606.5,402.9h0M608.1,402.9h0M609.6,402.9h0M610.7,402.9h0M612.0,402.9h0M613.3,402.9h0M614.5,402.9h0M615.8,402.9h0M617.3,402.9h0M619.0,402.9h0M620.1,402.9h0M621.5,402.9h0M622.5,402.9h0M623.5,402.9h0M625.2,402.9h0M626.6,402.9h0M628.3,402.9h0M629.7,402.9h0M630.7,402.9h0M631.9,402.9h0M633.4,402.9h0M635.1,402.9h0M636.9,402.9h0M638.3,402.9h0M639.6,402.9h0M640.6,402.9h0M642.1,402.9h0M643.3,402.9h0M644.3,402.9h0M645.3,402.9h0M646.3,402.9h0M647.8,402.9h0M648.9,402.9h0M650.6,402.9h0M651.7,402.9h0M653.4,402.9h0M654.4,402.9h0M655.4,402.9h0M657.0,402.9h0M658.1,402.9h0M659.7,402.9h0M660.8,402.9h0M661.8,402.9h0M663.4,402.9h0M665.0,402.9h0" stroke="#ec2a8e" stroke-width="2.7" stroke-linecap="round" fill="none"/>
<path d="M504.3,294.0L505.2,296.5L506.0,299.0L506.9,301.5L507.8,303.9L508.6,306.4L509.5,308.9L510.3,311.3L511.2,313.8L512.1,316.2L512.9,318.7L513.8,321.2L514.7,323.6L515.5,326.0L516.4,328.5L517.2,330.9L518.1,333.3L519.0,335.7L519.8,338.2L520.7,340.5L521.5,342.9L522.4,345.3L523.3,347.6L524.1,350.0L525.0,352.3L525.8,354.6L526.7,356.8L527.6,359.1L528.4,361.3L529.3,363.4L530.2,365.6L531.0,367.6L531.9,369.7L532.7,371.7L533.6,373.6L534.5,375.5L535.3,377.3L536.2,379.0L537.0,380.6L537.9,382.2L538.8,383.7L539.6,385.2L540.5,386.5L541.3,387.8L542.2,388.9L543.1,390.0L543.9,391.1L544.8,392.0L545.6,392.9L546.5,393.7L547.4,394.4L548.2,395.0L549.1,395.6L550.0,396.2L550.8,396.7L551.7,397.1L552.5,397.6L553.4,397.9L554.3,398.3L555.1,398.6L556.0,398.8L556.8,399.1L557.7,399.3L558.6,399.5L559.4,399.7L560.3,399.9L561.1,400.1L562.0,400.2L562.9,400.3L563.7,400.5L564.6,400.6L565.5,400.7L566.3,400.8L567.2,400.9L568.0,401.0L568.9,401.0L569.8,401.1L570.6,401.2L571.5,401.3L572.3,401.3L573.2,401.4L574.1,401.4L574.9,401.5L575.8,401.6L576.6,401.6L577.5,401.6L578.4,401.7L579.2,401.7L580.1,401.8L581.0,401.8L581.8,401.9L582.7,401.9L583.5,401.9L584.4,402.0L585.3,402.0L586.1,402.0L587.0,402.0L587.8,402.1L588.7,402.1L589.6,402.1L590.4,402.2L591.3,402.2L592.1,402.2L593.0,402.2L593.9,402.3L594.7,402.3L595.6,402.3L596.4,402.3L597.3,402.3L598.2,402.3L599.0,402.4L599.9,402.4L600.8,402.4L601.6,402.4L602.5,402.4L603.3,402.4L604.2,402.5L605.1,402.5L605.9,402.5L606.8,402.5L607.6,402.5L608.5,402.5L609.4,402.5L610.2,402.5L611.1,402.6L611.9,402.6L612.8,402.6L613.7,402.6L614.5,402.6L615.4,402.6L616.3,402.6L617.1,402.6L618.0,402.6L618.8,402.6L619.7,402.6L620.6,402.7L621.4,402.7L622.3,402.7L623.1,402.7L624.0,402.7L624.9,402.7L625.7,402.7L626.6,402.7L627.4,402.7L628.3,402.7L629.2,402.7L630.0,402.7L630.9,402.7L631.8,402.7L632.6,402.7L633.5,402.7L634.3,402.7L635.2,402.7L636.1,402.8L636.9,402.8L637.8,402.8L638.6,402.8L639.5,402.8L640.4,402.8L641.2,402.8L642.1,402.8L642.9,402.8L643.8,402.8L644.7,402.8L645.5,402.8L646.4,402.8L647.2,402.8L648.1,402.8L649.0,402.8L649.8,402.8L650.7,402.8L651.6,402.8L652.4,402.8L653.3,402.8L654.1,402.8L655.0,402.8L655.9,402.8L656.7,402.8L657.6,402.8L658.4,402.8L659.3,402.8L660.2,402.8L661.0,402.8L661.9,402.8L662.7,402.8L663.6,402.8L664.5,402.8L665.3,402.8L666.2,402.8" stroke="#f0d8f0" stroke-width="1.5" fill="none"/>
<path d="M504.3,294.0L505.2,296.4L506.0,298.7L506.9,301.0L507.8,303.4L508.6,305.7L509.5,308.0L510.3,310.3L511.2,312.7L512.1,315.0L512.9,317.3L513.8,319.6L514.7,321.9L515.5,324.2L516.4,326.5L517.2,328.8L518.1,331.1L519.0,333.4L519.8,335.7L520.7,338.0L521.5,340.2L522.4,342.5L523.3,344.7L524.1,346.9L525.0,349.1L525.8,351.3L526.7,353.4L527.6,355.6L528.4,357.7L529.3,359.8L530.2,361.9L531.0,363.9L531.9,365.9L532.7,367.8L533.6,369.7L534.5,371.6L535.3,373.4L536.2,375.2L537.0,376.9L537.9,378.5L538.8,380.1L539.6,381.6L540.5,383.1L541.3,384.4L542.2,385.8L543.1,387.0L543.9,388.2L544.8,389.3L545.6,390.3L546.5,391.2L547.4,392.1L548.2,392.9L549.1,393.7L550.0,394.4L550.8,395.1L551.7,395.7L552.5,396.2L553.4,396.7L554.3,397.2L555.1,397.6L556.0,398.0L556.8,398.3L557.7,398.7L558.6,399.0L559.4,399.2L560.3,399.5L561.1,399.7L562.0,399.9L562.9,400.1L563.7,400.3L564.6,400.5L565.5,400.6L566.3,400.8L567.2,400.9L568.0,401.0L568.9,401.2L569.8,401.3L570.6,401.4L571.5,401.5L572.3,401.6L573.2,401.7L574.1,401.7L574.9,401.8L575.8,401.9L576.6,402.0L577.5,402.0L578.4,402.1L579.2,402.1L580.1,402.2L581.0,402.3L581.8,402.3L582.7,402.4L583.5,402.4L584.4,402.5L585.3,402.5L586.1,402.6L587.0,402.6L587.8,402.6L588.7,402.7L589.6,402.7L590.4,402.7L591.3,402.8L592.1,402.8L593.0,402.8L593.9,402.9L594.7,402.9L595.6,402.9L596.4,403.0L597.3,403.0L598.2,403.0L599.0,403.0L599.9,403.1L600.8,403.1L601.6,403.1L602.5,403.1L603.3,403.1L604.2,403.2L605.1,403.2L605.9,403.2L606.8,403.2L607.6,403.2L608.5,403.3L609.4,403.3L610.2,403.3L611.1,403.3L611.9,403.3L612.8,403.3L613.7,403.3L614.5,403.4L615.4,403.4L616.3,403.4L617.1,403.4L618.0,403.4L618.8,403.4L619.7,403.4L620.6,403.4L621.4,403.5L622.3,403.5L623.1,403.5L624.0,403.5L624.9,403.5L625.7,403.5L626.6,403.5L627.4,403.5L628.3,403.5L629.2,403.5L630.0,403.5L630.9,403.5L631.8,403.5L632.6,403.6L633.5,403.6L634.3,403.6L635.2,403.6L636.1,403.6L636.9,403.6L637.8,403.6L638.6,403.6L639.5,403.6L640.4,403.6L641.2,403.6L642.1,403.6L642.9,403.6L643.8,403.6L644.7,403.6L645.5,403.6L646.4,403.6L647.2,403.6L648.1,403.6L649.0,403.6L649.8,403.6L650.7,403.6L651.6,403.6L652.4,403.7L653.3,403.7L654.1,403.7L655.0,403.7L655.9,403.7L656.7,403.7L657.6,403.7L658.4,403.7L659.3,403.7L660.2,403.7L661.0,403.7L661.9,403.7L662.7,403.7L663.6,403.7L664.5,403.7L665.3,403.7L666.2,403.7" stroke="#dde2ea" stroke-width="1.5" fill="none"/>
<path d="M504.3,294.0L505.2,296.2L506.0,298.4L506.9,300.7L507.8,302.9L508.6,305.1L509.5,307.4L510.3,309.6L511.2,311.8L512.1,314.0L512.9,316.3L513.8,318.5L514.7,320.7L515.5,322.9L516.4,325.1L517.2,327.3L518.1,329.4L519.0,331.6L519.8,333.8L520.7,335.9L521.5,338.1L522.4,340.2L523.3,342.3L524.1,344.5L525.0,346.5L525.8,348.6L526.7,350.7L527.6,352.7L528.4,354.7L529.3,356.7L530.2,358.6L531.0,360.6L531.9,362.4L532.7,364.3L533.6,366.1L534.5,367.9L535.3,369.6L536.2,371.3L537.0,372.9L537.9,374.5L538.8,376.0L539.6,377.5L540.5,378.9L541.3,380.3L542.2,381.6L543.1,382.8L543.9,384.0L544.8,385.1L545.6,386.1L546.5,387.1L547.4,388.1L548.2,389.0L549.1,389.8L550.0,390.5L550.8,391.3L551.7,391.9L552.5,392.6L553.4,393.1L554.3,393.7L555.1,394.2L556.0,394.7L556.8,395.1L557.7,395.5L558.6,395.9L559.4,396.2L560.3,396.6L561.1,396.9L562.0,397.2L562.9,397.4L563.7,397.7L564.6,397.9L565.5,398.2L566.3,398.4L567.2,398.6L568.0,398.8L568.9,398.9L569.8,399.1L570.6,399.3L571.5,399.4L572.3,399.6L573.2,399.7L574.1,399.8L574.9,400.0L575.8,400.1L576.6,400.2L577.5,400.3L578.4,400.4L579.2,400.5L580.1,400.6L581.0,400.7L581.8,400.8L582.7,400.9L583.5,401.0L584.4,401.1L585.3,401.1L586.1,401.2L587.0,401.3L587.8,401.3L588.7,401.4L589.6,401.5L590.4,401.5L591.3,401.6L592.1,401.7L593.0,401.7L593.9,401.8L594.7,401.8L595.6,401.9L596.4,401.9L597.3,402.0L598.2,402.0L599.0,402.1L599.9,402.1L600.8,402.1L601.6,402.2L602.5,402.2L603.3,402.2L604.2,402.3L605.1,402.3L605.9,402.4L606.8,402.4L607.6,402.4L608.5,402.4L609.4,402.5L610.2,402.5L611.1,402.5L611.9,402.6L612.8,402.6L613.7,402.6L614.5,402.6L615.4,402.7L616.3,402.7L617.1,402.7L618.0,402.7L618.8,402.7L619.7,402.8L620.6,402.8L621.4,402.8L622.3,402.8L623.1,402.8L624.0,402.8L624.9,402.9L625.7,402.9L626.6,402.9L627.4,402.9L628.3,402.9L629.2,402.9L630.0,402.9L630.9,402.9L631.8,403.0L632.6,403.0L633.5,403.0L634.3,403.0L635.2,403.0L636.1,403.0L636.9,403.0L637.8,403.0L638.6,403.0L639.5,403.1L640.4,403.1L641.2,403.1L642.1,403.1L642.9,403.1L643.8,403.1L644.7,403.1L645.5,403.1L646.4,403.1L647.2,403.1L648.1,403.1L649.0,403.1L649.8,403.1L650.7,403.1L651.6,403.1L652.4,403.1L653.3,403.2L654.1,403.2L655.0,403.2L655.9,403.2L656.7,403.2L657.6,403.2L658.4,403.2L659.3,403.2L660.2,403.2L661.0,403.2L661.9,403.2L662.7,403.2L663.6,403.2L664.5,403.2L665.3,403.2L666.2,403.2" stroke="#dcecc8" stroke-width="1.5" fill="none"/>
<path d="M504.3,294.0L505.2,296.6L506.0,299.1L506.9,301.7L507.8,304.2L508.6,306.8L509.5,309.3L510.3,311.8L511.2,314.4L512.1,316.9L512.9,319.4L513.8,321.9L514.7,324.5L515.5,327.0L516.4,329.5L517.2,332.0L518.1,334.5L519.0,336.9L519.8,339.4L520.7,341.9L521.5,344.3L522.4,346.7L523.3,349.1L524.1,351.5L525.0,353.9L525.8,356.2L526.7,358.5L527.6,360.8L528.4,363.0L529.3,365.2L530.2,367.4L531.0,369.5L531.9,371.6L532.7,373.6L533.6,375.5L534.5,377.4L535.3,379.2L536.2,381.0L537.0,382.6L537.9,384.2L538.8,385.7L539.6,387.1L540.5,388.5L541.3,389.7L542.2,390.9L543.1,392.0L543.9,393.0L544.8,393.9L545.6,394.8L546.5,395.6L547.4,396.3L548.2,397.0L549.1,397.6L550.0,398.2L550.8,398.7L551.7,399.2L552.5,399.6L553.4,400.0L554.3,400.4L555.1,400.7L556.0,401.0L556.8,401.3L557.7,401.5L558.6,401.8L559.4,402.0L560.3,402.2L561.1,402.4L562.0,402.6L562.9,402.8L563.7,402.9L564.6,403.1L565.5,403.2L566.3,403.3L567.2,403.5L568.0,403.6L568.9,403.7L569.8,403.8L570.6,403.9L571.5,404.0L572.3,404.1L573.2,404.2L574.1,404.3L574.9,404.4L575.8,404.4L576.6,404.5L577.5,404.6L578.4,404.7L579.2,404.7L580.1,404.8L581.0,404.9L581.8,404.9L582.7,405.0L583.5,405.0L584.4,405.1L585.3,405.1L586.1,405.2L587.0,405.2L587.8,405.3L588.7,405.3L589.6,405.4L590.4,405.4L591.3,405.5L592.1,405.5L593.0,405.5L593.9,405.6L594.7,405.6L595.6,405.7L596.4,405.7L597.3,405.7L598.2,405.7L599.0,405.8L599.9,405.8L600.8,405.8L601.6,405.9L602.5,405.9L603.3,405.9L604.2,405.9L605.1,406.0L605.9,406.0L606.8,406.0L607.6,406.0L608.5,406.1L609.4,406.1L610.2,406.1L611.1,406.1L611.9,406.1L612.8,406.1L613.7,406.2L614.5,406.2L615.4,406.2L616.3,406.2L617.1,406.2L618.0,406.2L618.8,406.3L619.7,406.3L620.6,406.3L621.4,406.3L622.3,406.3L623.1,406.3L624.0,406.3L624.9,406.3L625.7,406.3L626.6,406.4L627.4,406.4L628.3,406.4L629.2,406.4L630.0,406.4L630.9,406.4L631.8,406.4L632.6,406.4L633.5,406.4L634.3,406.4L635.2,406.4L636.1,406.4L636.9,406.4L637.8,406.5L638.6,406.5L639.5,406.5L640.4,406.5L641.2,406.5L642.1,406.5L642.9,406.5L643.8,406.5L644.7,406.5L645.5,406.5L646.4,406.5L647.2,406.5L648.1,406.5L649.0,406.5L649.8,406.5L650.7,406.5L651.6,406.5L652.4,406.5L653.3,406.5L654.1,406.5L655.0,406.5L655.9,406.5L656.7,406.6L657.6,406.6L658.4,406.6L659.3,406.6L660.2,406.6L661.0,406.6L661.9,406.6L662.7,406.6L663.6,406.6L664.5,406.6L665.3,406.6L666.2,406.6" stroke="#fadcb8" stroke-width="1.5" fill="none"/>
<path d="M504.3,294.1L505.2,296.8L506.0,299.5L506.9,302.2L507.8,304.9L508.6,307.6L509.5,310.3L510.3,313.0L511.2,315.8L512.1,318.5L512.9,321.2L513.8,323.8L514.7,326.5L515.5,329.2L516.4,331.9L517.2,334.6L518.1,337.2L519.0,339.9L519.8,342.5L520.7,345.2L521.5,347.8L522.4,350.4L523.3,353.0L524.1,355.5L525.0,358.1L525.8,360.6L526.7,363.0L527.6,365.5L528.4,367.9L529.3,370.2L530.2,372.6L531.0,374.8L531.9,377.0L532.7,379.1L533.6,381.2L534.5,383.1L535.3,385.0L536.2,386.8L537.0,388.6L537.9,390.2L538.8,391.7L539.6,393.1L540.5,394.4L541.3,395.7L542.2,396.8L543.1,397.8L543.9,398.8L544.8,399.6L545.6,400.4L546.5,401.1L547.4,401.7L548.2,402.3L549.1,402.8L550.0,403.3L550.8,403.7L551.7,404.1L552.5,404.4L553.4,404.7L554.3,405.0L555.1,405.3L556.0,405.5L556.8,405.7L557.7,405.9L558.6,406.1L559.4,406.2L560.3,406.4L561.1,406.5L562.0,406.6L562.9,406.7L563.7,406.8L564.6,406.9L565.5,407.0L566.3,407.1L567.2,407.2L568.0,407.3L568.9,407.4L569.8,407.4L570.6,407.5L571.5,407.6L572.3,407.6L573.2,407.7L574.1,407.7L574.9,407.8L575.8,407.8L576.6,407.9L577.5,407.9L578.4,408.0L579.2,408.0L580.1,408.1L581.0,408.1L581.8,408.1L582.7,408.2L583.5,408.2L584.4,408.2L585.3,408.3L586.1,408.3L587.0,408.3L587.8,408.4L588.7,408.4L589.6,408.4L590.4,408.4L591.3,408.5L592.1,408.5L593.0,408.5L593.9,408.5L594.7,408.6L595.6,408.6L596.4,408.6L597.3,408.6L598.2,408.6L599.0,408.7L599.9,408.7L600.8,408.7L601.6,408.7L602.5,408.7L603.3,408.8L604.2,408.8L605.1,408.8L605.9,408.8L606.8,408.8L607.6,408.8L608.5,408.8L609.4,408.8L610.2,408.9L611.1,408.9L611.9,408.9L612.8,408.9L613.7,408.9L614.5,408.9L615.4,408.9L616.3,408.9L617.1,408.9L618.0,408.9L618.8,409.0L619.7,409.0L620.6,409.0L621.4,409.0L622.3,409.0L623.1,409.0L624.0,409.0L624.9,409.0L625.7,409.0L626.6,409.0L627.4,409.0L628.3,409.0L629.2,409.0L630.0,409.0L630.9,409.0L631.8,409.1L632.6,409.1L633.5,409.1L634.3,409.1L635.2,409.1L636.1,409.1L636.9,409.1L637.8,409.1L638.6,409.1L639.5,409.1L640.4,409.1L641.2,409.1L642.1,409.1L642.9,409.1L643.8,409.1L644.7,409.1L645.5,409.1L646.4,409.1L647.2,409.1L648.1,409.1L649.0,409.1L649.8,409.1L650.7,409.1L651.6,409.1L652.4,409.1L653.3,409.1L654.1,409.1L655.0,409.1L655.9,409.1L656.7,409.1L657.6,409.1L658.4,409.1L659.3,409.1L660.2,409.1L661.0,409.1L661.9,409.2L662.7,409.2L663.6,409.2L664.5,409.2L665.3,409.2L666.2,409.2" stroke="#f4d4c4" stroke-width="1.5" fill="none"/>
<path d="M504.3,294.1L505.2,297.0L506.0,299.9L506.9,302.8L507.8,305.7L508.6,308.6L509.5,311.5L510.3,314.4L511.2,317.3L512.1,320.2L512.9,323.1L513.8,326.0L514.7,328.9L515.5,331.8L516.4,334.6L517.2,337.5L518.1,340.4L519.0,343.2L519.8,346.1L520.7,348.9L521.5,351.7L522.4,354.5L523.3,357.3L524.1,360.1L525.0,362.8L525.8,365.5L526.7,368.2L527.6,370.8L528.4,373.4L529.3,376.0L530.2,378.4L531.0,380.8L531.9,383.2L532.7,385.4L533.6,387.6L534.5,389.7L535.3,391.6L536.2,393.5L537.0,395.2L537.9,396.9L538.8,398.4L539.6,399.8L540.5,401.0L541.3,402.2L542.2,403.2L543.1,404.1L543.9,405.0L544.8,405.7L545.6,406.4L546.5,406.9L547.4,407.4L548.2,407.9L549.1,408.3L550.0,408.6L550.8,408.9L551.7,409.1L552.5,409.4L553.4,409.6L554.3,409.7L555.1,409.9L556.0,410.0L556.8,410.1L557.7,410.2L558.6,410.3L559.4,410.4L560.3,410.5L561.1,410.5L562.0,410.6L562.9,410.6L563.7,410.7L564.6,410.7L565.5,410.8L566.3,410.8L567.2,410.8L568.0,410.9L568.9,410.9L569.8,410.9L570.6,410.9L571.5,411.0L572.3,411.0L573.2,411.0L574.1,411.0L574.9,411.0L575.8,411.0L576.6,411.1L577.5,411.1L578.4,411.1L579.2,411.1L580.1,411.1L581.0,411.1L581.8,411.2L582.7,411.2L583.5,411.2L584.4,411.2L585.3,411.2L586.1,411.2L587.0,411.2L587.8,411.2L588.7,411.2L589.6,411.2L590.4,411.3L591.3,411.3L592.1,411.3L593.0,411.3L593.9,411.3L594.7,411.3L595.6,411.3L596.4,411.3L597.3,411.3L598.2,411.3L599.0,411.3L599.9,411.3L600.8,411.3L601.6,411.3L602.5,411.3L603.3,411.4L604.2,411.4L605.1,411.4L605.9,411.4L606.8,411.4L607.6,411.4L608.5,411.4L609.4,411.4L610.2,411.4L611.1,411.4L611.9,411.4L612.8,411.4L613.7,411.4L614.5,411.4L615.4,411.4L616.3,411.4L617.1,411.4L618.0,411.4L618.8,411.4L619.7,411.4L620.6,411.4L621.4,411.4L622.3,411.4L623.1,411.4L624.0,411.4L624.9,411.4L625.7,411.4L626.6,411.4L627.4,411.4L628.3,411.4L629.2,411.4L630.0,411.4L630.9,411.4L631.8,411.4L632.6,411.4L633.5,411.4L634.3,411.5L635.2,411.5L636.1,411.5L636.9,411.5L637.8,411.5L638.6,411.5L639.5,411.5L640.4,411.5L641.2,411.5L642.1,411.5L642.9,411.5L643.8,411.5L644.7,411.5L645.5,411.5L646.4,411.5L647.2,411.5L648.1,411.5L649.0,411.5L649.8,411.5L650.7,411.5L651.6,411.5L652.4,411.5L653.3,411.5L654.1,411.5L655.0,411.5L655.9,411.5L656.7,411.5L657.6,411.5L658.4,411.5L659.3,411.5L660.2,411.5L661.0,411.5L661.9,411.5L662.7,411.5L663.6,411.5L664.5,411.5L665.3,411.5L666.2,411.5" stroke="#fcc4d8" stroke-width="1.5" fill="none"/>
</g>
<rect x="502" y="291.4" width="173.2" height="131.2" fill="none" stroke="#000" stroke-width="1.3"/>
<text x="498.2" y="297.6" font-size="10.0" font-weight="bold" fill="#000" text-anchor="end">1</text>
<text x="498.2" y="336.4" font-size="10.0" font-weight="bold" fill="#000" text-anchor="end">0.1</text>
<text x="498.2" y="375.1" font-size="10.0" font-weight="bold" fill="#000" text-anchor="end">0.01</text>
<text x="498.2" y="414.1" font-size="10.0" font-weight="bold" fill="#000" text-anchor="end">0.001</text>
<text x="502.6" y="434.3" font-size="9.4" font-weight="bold" fill="#000" text-anchor="middle">0</text>
<text x="537.1" y="434.3" font-size="9.4" font-weight="bold" fill="#000" text-anchor="middle">20</text>
<text x="571.5" y="434.3" font-size="9.4" font-weight="bold" fill="#000" text-anchor="middle">40</text>
<text x="606" y="434.3" font-size="9.4" font-weight="bold" fill="#000" text-anchor="middle">60</text>
<text x="640.5" y="434.3" font-size="9.4" font-weight="bold" fill="#000" text-anchor="middle">80</text>
<text x="674.9" y="434.3" font-size="9.4" font-weight="bold" fill="#000" text-anchor="middle">100</text>
<path d="M502,294.1h3M502,332.9h3M502,371.6h3M502,410.6h3M502,321.3h1.6M502,314.4h1.6M502,309.6h1.6M502,305.8h1.6M502,302.7h1.6M502,300.1h1.6M502,297.9h1.6M502,295.9h1.6M502,360.2h1.6M502,353.3h1.6M502,348.5h1.6M502,344.7h1.6M502,341.6h1.6M502,339.0h1.6M502,336.8h1.6M502,334.8h1.6M502,399.1h1.6M502,392.2h1.6M502,387.4h1.6M502,383.6h1.6M502,380.5h1.6M502,377.9h1.6M502,375.7h1.6M502,373.7h1.6M502,422.5h1.6M502,419.4h1.6M502,416.8h1.6M502,414.6h1.6M502,412.6h1.6M537.1,422.6v-3M571.5,422.6v-3M606,422.6v-3M640.5,422.6v-3" stroke="#000" stroke-width="1" fill="none"/>
<text x="476.5" y="355" font-size="10.6" font-weight="bold" fill="#000" text-anchor="middle" transform="rotate(-90 476.5 355)">Intensity (a.u.)</text>
<text x="590.5" y="444.2" font-size="10.8" font-weight="bold" fill="#000" text-anchor="middle">Decay time (ns)</text>
<text x="471.6" y="289.4" font-size="14" font-weight="normal" fill="#000" text-anchor="start">(G)</text>
<circle cx="570.2" cy="304.2" r="1.6" fill="#c44fd0"/>
<text x="580.2" y="307.5" font-size="9.75" font-weight="bold" fill="#000" text-anchor="start">25 <tspan font-family="Noto Serif CJK SC, serif" font-weight="700" font-size="9.2">℃</tspan></text>
<text x="614.8" y="307.5" font-size="9.65" font-weight="bold" fill="#a63cd0" text-anchor="start"><tspan font-family="Liberation Serif, serif" font-size="9.5">τ</tspan>=3.898 ns</text>
<circle cx="570.2" cy="317.7" r="1.6" fill="#6a86e0"/>
<text x="580.2" y="321.0" font-size="9.75" font-weight="bold" fill="#000" text-anchor="start">70 <tspan font-family="Noto Serif CJK SC, serif" font-weight="700" font-size="9.2">℃</tspan></text>
<text x="614.8" y="321.0" font-size="9.65" font-weight="bold" fill="#5a7fe0" text-anchor="start"><tspan font-family="Liberation Serif, serif" font-size="9.5">τ</tspan>=4.508 ns</text>
<circle cx="570.2" cy="331" r="1.6" fill="#35c535"/>
<text x="580.2" y="334.3" font-size="9.75" font-weight="bold" fill="#000" text-anchor="start">110 <tspan font-family="Noto Serif CJK SC, serif" font-weight="700" font-size="9.2">℃</tspan></text>
<text x="614.8" y="334.3" font-size="9.65" font-weight="bold" fill="#25bb25" text-anchor="start"><tspan font-family="Liberation Serif, serif" font-size="9.5">τ</tspan>=4.310 ns</text>
<circle cx="570.2" cy="344.3" r="1.6" fill="#f09a38"/>
<text x="580.2" y="347.6" font-size="9.75" font-weight="bold" fill="#000" text-anchor="start">150 <tspan font-family="Noto Serif CJK SC, serif" font-weight="700" font-size="9.2">℃</tspan></text>
<text x="614.8" y="347.6" font-size="9.65" font-weight="bold" fill="#ee8f28" text-anchor="start"><tspan font-family="Liberation Serif, serif" font-size="9.5">τ</tspan>=3.884 ns</text>
<circle cx="570.2" cy="357.6" r="1.6" fill="#b06a30"/>
<text x="580.2" y="360.90000000000003" font-size="9.75" font-weight="bold" fill="#000" text-anchor="start">190 <tspan font-family="Noto Serif CJK SC, serif" font-weight="700" font-size="9.2">℃</tspan></text>
<text x="614.8" y="360.90000000000003" font-size="9.65" font-weight="bold" fill="#a86428" text-anchor="start"><tspan font-family="Liberation Serif, serif" font-size="9.5">τ</tspan>=3.618 ns</text>
<circle cx="570.2" cy="370.6" r="1.6" fill="#ec2a8e"/>
<text x="580.2" y="373.90000000000003" font-size="9.75" font-weight="bold" fill="#000" text-anchor="start">230 <tspan font-family="Noto Serif CJK SC, serif" font-weight="700" font-size="9.2">℃</tspan></text>
<text x="614.8" y="373.90000000000003" font-size="9.65" font-weight="bold" fill="#e03a5a" text-anchor="start"><tspan font-family="Liberation Serif, serif" font-size="9.5">τ</tspan>=3.245 ns</text>
<rect x="61.7" y="466" width="269.5" height="132.0" fill="#fff" stroke="#000" stroke-width="1.3"/>
<circle cx="88.6" cy="479.8" r="4.5" fill="#fff" stroke="#1a1aaa" stroke-width=".9"/><path d="M84.1,479.8A4.5,4.5 0 0 0 93.1,479.8Z" fill="#1a1aaa"/>
<circle cx="104.8" cy="484.0" r="4.5" fill="#fff" stroke="#1a1aaa" stroke-width=".9"/><path d="M100.3,484.0A4.5,4.5 0 0 0 109.3,484.0Z" fill="#1a1aaa"/>
<circle cx="126.4" cy="500.5" r="4.5" fill="#fff" stroke="#1a1aaa" stroke-width=".9"/><path d="M121.9,500.5A4.5,4.5 0 0 0 130.9,500.5Z" fill="#1a1aaa"/>
<circle cx="137.1" cy="508.4" r="4.5" fill="#fff" stroke="#1a1aaa" stroke-width=".9"/><path d="M132.6,508.4A4.5,4.5 0 0 0 141.6,508.4Z" fill="#1a1aaa"/>
<circle cx="158.7" cy="525.4" r="4.5" fill="#fff" stroke="#1a1aaa" stroke-width=".9"/><path d="M154.2,525.4A4.5,4.5 0 0 0 163.2,525.4Z" fill="#1a1aaa"/>
<circle cx="180.3" cy="541.9" r="4.5" fill="#fff" stroke="#1a1aaa" stroke-width=".9"/><path d="M175.8,541.9A4.5,4.5 0 0 0 184.8,541.9Z" fill="#1a1aaa"/>
<circle cx="201.8" cy="535.5" r="4.5" fill="#fff" stroke="#1a1aaa" stroke-width=".9"/><path d="M197.3,535.5A4.5,4.5 0 0 0 206.3,535.5Z" fill="#1a1aaa"/>
<circle cx="223.4" cy="557.8" r="4.5" fill="#fff" stroke="#1a1aaa" stroke-width=".9"/><path d="M218.9,557.8A4.5,4.5 0 0 0 227.9,557.8Z" fill="#1a1aaa"/>
<circle cx="234.1" cy="564.7" r="4.5" fill="#fff" stroke="#1a1aaa" stroke-width=".9"/><path d="M229.6,564.7A4.5,4.5 0 0 0 238.6,564.7Z" fill="#1a1aaa"/>
<circle cx="244.9" cy="572.7" r="4.5" fill="#fff" stroke="#1a1aaa" stroke-width=".9"/><path d="M240.4,572.7A4.5,4.5 0 0 0 249.4,572.7Z" fill="#1a1aaa"/>
<circle cx="255.7" cy="555.7" r="4.5" fill="#fff" stroke="#1a1aaa" stroke-width=".9"/><path d="M251.2,555.7A4.5,4.5 0 0 0 260.2,555.7Z" fill="#1a1aaa"/>
<circle cx="266.5" cy="564.7" r="4.5" fill="#fff" stroke="#1a1aaa" stroke-width=".9"/><path d="M262.0,564.7A4.5,4.5 0 0 0 271.0,564.7Z" fill="#1a1aaa"/>
<circle cx="277.3" cy="571.1" r="4.5" fill="#fff" stroke="#1a1aaa" stroke-width=".9"/><path d="M272.8,571.1A4.5,4.5 0 0 0 281.8,571.1Z" fill="#1a1aaa"/>
<circle cx="288.0" cy="577.5" r="4.5" fill="#fff" stroke="#1a1aaa" stroke-width=".9"/><path d="M283.5,577.5A4.5,4.5 0 0 0 292.5,577.5Z" fill="#1a1aaa"/>
<circle cx="298.8" cy="582.2" r="4.5" fill="#fff" stroke="#1a1aaa" stroke-width=".9"/><path d="M294.3,582.2A4.5,4.5 0 0 0 303.3,582.2Z" fill="#1a1aaa"/>
<circle cx="309.6" cy="554.1" r="4.5" fill="#fff" stroke="#1a1aaa" stroke-width=".9"/><path d="M305.1,554.1A4.5,4.5 0 0 0 314.1,554.1Z" fill="#1a1aaa"/>
<circle cx="88.6" cy="478.2" r="4.5" fill="#fff" stroke="#f0a04a" stroke-width=".9"/><path d="M84.1,478.2A4.5,4.5 0 0 1 93.1,478.2Z" fill="#f0a04a"/>
<circle cx="94.0" cy="495.2" r="4.5" fill="#fff" stroke="#f0a04a" stroke-width=".9"/><path d="M89.5,495.2A4.5,4.5 0 0 1 98.5,495.2Z" fill="#f0a04a"/>
<circle cx="104.8" cy="491.4" r="4.5" fill="#fff" stroke="#f0a04a" stroke-width=".9"/><path d="M100.3,491.4A4.5,4.5 0 0 1 109.3,491.4Z" fill="#f0a04a"/>
<circle cx="115.6" cy="514.3" r="4.5" fill="#fff" stroke="#f0a04a" stroke-width=".9"/><path d="M111.1,514.3A4.5,4.5 0 0 1 120.1,514.3Z" fill="#f0a04a"/>
<circle cx="126.4" cy="521.7" r="4.5" fill="#fff" stroke="#f0a04a" stroke-width=".9"/><path d="M121.9,521.7A4.5,4.5 0 0 1 130.9,521.7Z" fill="#f0a04a"/>
<circle cx="137.1" cy="531.3" r="4.5" fill="#fff" stroke="#f0a04a" stroke-width=".9"/><path d="M132.6,531.3A4.5,4.5 0 0 1 141.6,531.3Z" fill="#f0a04a"/>
<circle cx="147.9" cy="517.5" r="4.5" fill="#fff" stroke="#f0a04a" stroke-width=".9"/><path d="M143.4,517.5A4.5,4.5 0 0 1 152.4,517.5Z" fill="#f0a04a"/>
<circle cx="158.7" cy="516.4" r="4.5" fill="#fff" stroke="#f0a04a" stroke-width=".9"/><path d="M154.2,516.4A4.5,4.5 0 0 1 163.2,516.4Z" fill="#f0a04a"/>
<circle cx="169.5" cy="521.2" r="4.5" fill="#fff" stroke="#f0a04a" stroke-width=".9"/><path d="M165.0,521.2A4.5,4.5 0 0 1 174.0,521.2Z" fill="#f0a04a"/>
<circle cx="180.3" cy="529.1" r="4.5" fill="#fff" stroke="#f0a04a" stroke-width=".9"/><path d="M175.8,529.1A4.5,4.5 0 0 1 184.8,529.1Z" fill="#f0a04a"/>
<circle cx="191.0" cy="539.2" r="4.5" fill="#fff" stroke="#f0a04a" stroke-width=".9"/><path d="M186.5,539.2A4.5,4.5 0 0 1 195.5,539.2Z" fill="#f0a04a"/>
<circle cx="201.8" cy="555.7" r="4.5" fill="#fff" stroke="#f0a04a" stroke-width=".9"/><path d="M197.3,555.7A4.5,4.5 0 0 1 206.3,555.7Z" fill="#f0a04a"/>
<circle cx="212.6" cy="576.9" r="4.5" fill="#fff" stroke="#f0a04a" stroke-width=".9"/><path d="M208.1,576.9A4.5,4.5 0 0 1 217.1,576.9Z" fill="#f0a04a"/>
<circle cx="223.4" cy="572.7" r="4.5" fill="#fff" stroke="#f0a04a" stroke-width=".9"/><path d="M218.9,572.7A4.5,4.5 0 0 1 227.9,572.7Z" fill="#f0a04a"/>
<circle cx="234.1" cy="569.0" r="4.5" fill="#fff" stroke="#f0a04a" stroke-width=".9"/><path d="M229.6,569.0A4.5,4.5 0 0 1 238.6,569.0Z" fill="#f0a04a"/>
<text x="57.9" y="482.5" font-size="10.6" font-weight="bold" fill="#000" text-anchor="end">555</text>
<text x="57.9" y="509.1" font-size="10.6" font-weight="bold" fill="#000" text-anchor="end">550</text>
<text x="57.9" y="535.5999999999999" font-size="10.6" font-weight="bold" fill="#000" text-anchor="end">545</text>
<text x="57.9" y="562.1999999999999" font-size="10.6" font-weight="bold" fill="#000" text-anchor="end">540</text>
<text x="57.9" y="588.6999999999999" font-size="10.6" font-weight="bold" fill="#000" text-anchor="end">535</text>
<text x="61.2" y="610.2" font-size="10.8" font-weight="bold" fill="#000" text-anchor="middle">0</text>
<text x="115.1" y="610.2" font-size="10.8" font-weight="bold" fill="#000" text-anchor="middle">50</text>
<text x="169.0" y="610.2" font-size="10.8" font-weight="bold" fill="#000" text-anchor="middle">100</text>
<text x="222.9" y="610.2" font-size="10.8" font-weight="bold" fill="#000" text-anchor="middle">150</text>
<text x="276.8" y="610.2" font-size="10.8" font-weight="bold" fill="#000" text-anchor="middle">200</text>
<text x="330.7" y="610.2" font-size="10.8" font-weight="bold" fill="#000" text-anchor="middle">250</text>
<path d="M61.7,478.7h2.6M61.7,505.3h2.6M61.7,531.8h2.6M61.7,558.4h2.6M61.7,584.9h2.6M115.6,598v-3.2M169.5,598v-3.2M223.4,598v-3.2M277.3,598v-3.2" stroke="#000" stroke-width="1" fill="none"/>
<circle cx="75.3" cy="576.2" r="3.9" fill="#fff" stroke="#1a1aaa" stroke-width=".9"/><path d="M71.4,576.2A3.9,3.9 0 0 0 79.2,576.2Z" fill="#1a1aaa"/>
<text x="82.2" y="578.4" font-size="10.3" font-weight="bold" fill="#000" text-anchor="start">Single-domain</text>
<circle cx="75.3" cy="589.0" r="3.9" fill="#fff" stroke="#f0a04a" stroke-width=".9"/><path d="M71.4,589.0A3.9,3.9 0 0 1 79.2,589.0Z" fill="#f0a04a"/>
<text x="86" y="591.6" font-size="10.3" font-weight="bold" fill="#000" text-anchor="start">Multi-domain</text>
<text x="34.7" y="532.4" font-size="11.68" font-weight="bold" fill="#000" text-anchor="middle" transform="rotate(-90 34.7 532.4)">Lasing Wavelength (nm)</text>
<text x="196.3" y="622.4" font-size="11.8" font-weight="bold" fill="#000" text-anchor="middle">Temperature (<tspan font-family="Noto Serif CJK SC, serif" font-weight="700">℃</tspan>)</text>
<text x="25.1" y="461.4" font-size="14" font-weight="normal" fill="#000" text-anchor="start">(H)</text>
<rect x="407.5" y="465.5" width="268.9" height="132.8" fill="#fff" stroke="#000" stroke-width="1.3"/>
<line x1="456.3" y1="478" x2="657.0" y2="478" stroke="#c9409a" stroke-width="1.2"/>
<polygon points="456.2,473.2 457.4,476.4 460.8,476.5 458.1,478.6 459.0,481.9 456.2,480.0 453.4,481.9 454.3,478.6 451.6,476.5 455.0,476.4" fill="#e0237e"/>
<polygon points="657.0,473.2 658.2,476.4 661.6,476.5 658.9,478.6 659.8,481.9 657.0,480.0 654.2,481.9 655.1,478.6 652.4,476.5 655.8,476.4" fill="#e0237e"/>
<text x="568.6" y="474.6" font-size="8.8" font-weight="bold" fill="#e02525" text-anchor="middle" font-style="italic">this work</text>
<line x1="456.5" y1="490.3" x2="490.5" y2="490.3" stroke="#c9402f" stroke-width="1.2"/>
<polygon points="456.5,485.7 460.9,490.3 456.5,494.90000000000003 452.1,490.3" fill="#fff" stroke="#c9402f" stroke-width="1.1"/>
<polygon points="490.5,485.7 494.9,490.3 490.5,494.90000000000003 486.1,490.3" fill="#fff" stroke="#c9402f" stroke-width="1.1"/>
<text x="499.7" y="493.9" font-size="8.8" font-weight="bold" fill="#179a8c" text-anchor="start"><tspan font-style="italic">Adv. Mater.</tspan> 2022<tspan font-family="Liberation Serif, serif" font-size="7" fill="#000" dy="-4.4" dx=".8">42</tspan></text>
<polygon points="462.2,501.8 469,498.0 469,505.6" fill="#fff" stroke="#dd9255" stroke-width="1"/>
<text x="479.2" y="505" font-size="8.8" font-weight="bold" fill="#c844e0" text-anchor="start"><tspan font-style="italic">Soft. Matter.</tspan> 2012<tspan font-family="Liberation Serif, serif" font-size="7" fill="#000" dy="-4.4" dx=".8">75</tspan></text>
<polygon points="454.5,509.8 459.1,513.4 457.4,518 451.6,518 449.9,513.4" fill="#fff" stroke="#e8962e" stroke-width=".9" transform="rotate(180 454.5 514)"/>
<polygon points="449.9,514.4 451.6,510 457.4,510 459.1,514.4" fill="#e8962e"/>
<text x="467.4" y="517.1" font-size="8.8" font-weight="bold" fill="#7a5a12" text-anchor="start"><tspan font-style="italic">OSA Contin.</tspan> 2019<tspan font-family="Liberation Serif, serif" font-size="7" fill="#000" dy="-4.4" dx=".8">54</tspan></text>
<line x1="452.2" y1="526.3" x2="466.3" y2="526.3" stroke="#e9d21f" stroke-width="1.4"/>
<polygon points="456.4,526.3 454.3,529.9 450.1,529.9 448.0,526.3 450.1,522.7 454.3,522.7" fill="#e9d21f"/>
<polygon points="470.5,526.3 468.4,529.9 464.2,529.9 462.1,526.3 464.2,522.7 468.4,522.7" fill="#e9d21f"/>
<text x="478.4" y="530" font-size="8.8" font-weight="bold" fill="#2597ee" text-anchor="start"><tspan font-style="italic">RSC Adv.</tspan> 2019<tspan font-family="Liberation Serif, serif" font-size="7" fill="#000" dy="-4.4" dx=".8">60</tspan></text>
<polygon points="500.8,533.5999999999999 505.2,537.8 500.8,542.0 496.40000000000003,537.8" fill="#fff" stroke="#8fdc2a" stroke-width=".9"/>
<polygon points="500.8,535.8 502.90000000000003,537.8 500.8,539.8 498.7,537.8" fill="#fff" stroke="#8fdc2a" stroke-width=".8"/>
<polygon points="505.6,533.5999999999999 510.0,537.8 505.6,542.0 501.20000000000005,537.8" fill="#fff" stroke="#8fdc2a" stroke-width=".9"/>
<polygon points="505.6,535.8 507.70000000000005,537.8 505.6,539.8 503.5,537.8" fill="#fff" stroke="#8fdc2a" stroke-width=".8"/>
<text x="522.6" y="542.3" font-size="8.8" font-weight="bold" fill="#ee48a6" text-anchor="start"><tspan font-style="italic">J. Mater. Chem. C.</tspan> 2015<tspan font-family="Liberation Serif, serif" font-size="7" fill="#000" dy="-4.4" dx=".8">59</tspan></text>
<line x1="494.4" y1="550" x2="517.8" y2="550" stroke="#1fcc2a" stroke-width="1.4"/>
<rect x="491.29999999999995" y="546.9" width="6.2" height="6.2" fill="#1fcc2a"/>
<rect x="507" y="547" width="6" height="6" rx="1.2" fill="#1fcc2a"/>
<circle cx="517.8" cy="550" r="3.6" fill="#1fcc2a"/>
<text x="531.6" y="554.6" font-size="8.8" font-weight="bold" fill="#1fcc2a" text-anchor="start"><tspan font-style="italic">Adv. Mater.</tspan> 2013<tspan font-family="Liberation Serif, serif" font-size="7" fill="#000" dy="-4.4" dx=".8">61</tspan></text>
<line x1="463.5" y1="562.3" x2="480.5" y2="562.3" stroke="#2a9be8" stroke-width="1.2"/>
<circle cx="463.5" cy="562.3" r="4" fill="#fff" stroke="#2a9be8" stroke-width="1"/>
<path d="M459.5,562.3h8M463.5,558.3v8" stroke="#2a9be8" stroke-width=".8"/>
<polygon points="463.5,560.0999999999999 465.7,562.3 463.5,564.5 461.3,562.3" fill="#fff" stroke="#2a9be8" stroke-width=".7"/>
<circle cx="480.5" cy="562.3" r="4" fill="#fff" stroke="#2a9be8" stroke-width="1"/>
<path d="M476.5,562.3h8M480.5,558.3v8" stroke="#2a9be8" stroke-width=".8"/>
<polygon points="480.5,560.0999999999999 482.7,562.3 480.5,564.5 478.3,562.3" fill="#fff" stroke="#2a9be8" stroke-width=".7"/>
<text x="492.5" y="565.9" font-size="8.8" font-weight="bold" fill="#1a1ac8" text-anchor="start"><tspan font-style="italic">Opt. Express.</tspan> 2012<tspan font-family="Liberation Serif, serif" font-size="7" fill="#000" dy="-4.4" dx=".8">48</tspan></text>
<line x1="434.2" y1="574.4" x2="468.7" y2="574.4" stroke="#2f5be0" stroke-width="1.2"/>
<circle cx="434.2" cy="574.4" r="4" fill="#fff" stroke="#2f5be0" stroke-width="1"/>
<path d="M430.2,574.4A4,4 0 0 1 438.2,574.4Z" fill="#2f5be0"/>
<circle cx="468.7" cy="574.4" r="4" fill="#fff" stroke="#2f5be0" stroke-width="1"/>
<path d="M464.7,574.4A4,4 0 0 1 472.7,574.4Z" fill="#2f5be0"/>
<text x="481.7" y="578.3" font-size="8.8" font-weight="bold" fill="#ee9a25" text-anchor="start"><tspan font-style="italic">Adv. Mater.</tspan> 2006<tspan font-family="Liberation Serif, serif" font-size="7" fill="#000" dy="-4.4" dx=".8">62</tspan></text>
<line x1="438.0" y1="586.5" x2="478.0" y2="586.5" stroke="#8a25cc" stroke-width="1.2"/>
<polygon points="439.09999999999997,582.7 445.3,586.5 439.09999999999997,590.3" fill="#fff" stroke="#8a25cc" stroke-width="1"/>
<path d="M439.09999999999997,582.1v8.8M441.3,584.1v4.8" stroke="#8a25cc" stroke-width=".9"/>
<polygon points="472.5,582.7 478.70000000000005,586.5 472.5,590.3" fill="#fff" stroke="#8a25cc" stroke-width="1"/>
<path d="M472.5,582.1v8.8M474.70000000000005,584.1v4.8" stroke="#8a25cc" stroke-width=".9"/>
<text x="483.5" y="589.9" font-size="8.8" font-weight="bold" fill="#8a25cc" text-anchor="start"><tspan font-style="italic">Sci. Rep.</tspan> 2016<tspan font-family="Liberation Serif, serif" font-size="7" fill="#000" dy="-4.4" dx=".8">51</tspan></text>
<text x="431.9" y="610.2" font-size="10.8" font-weight="bold" fill="#000" text-anchor="middle">0</text>
<text x="480.8" y="610.2" font-size="10.8" font-weight="bold" fill="#000" text-anchor="middle">50</text>
<text x="529.8" y="610.2" font-size="10.8" font-weight="bold" fill="#000" text-anchor="middle">100</text>
<text x="578.7" y="610.2" font-size="10.8" font-weight="bold" fill="#000" text-anchor="middle">150</text>
<text x="627.6" y="610.2" font-size="10.8" font-weight="bold" fill="#000" text-anchor="middle">200</text>
<text x="676.5" y="610.2" font-size="10.8" font-weight="bold" fill="#000" text-anchor="middle">250</text>
<path d="M431.9,598.3v-3.2M480.8,598.3v-3.2M529.8,598.3v-3.2M578.7,598.3v-3.2M627.6,598.3v-3.2" stroke="#000" stroke-width="1" fill="none"/>
<text x="400.6" y="532.2" font-size="11.0" font-weight="bold" fill="#000" text-anchor="middle" transform="rotate(-90 400.6 532.2)">Literatures</text>
<text x="542.5" y="622.3" font-size="10.8" font-weight="bold" fill="#000" text-anchor="middle">Lasing temperature (<tspan font-family="Noto Serif CJK SC, serif" font-weight="700">℃</tspan>)</text>
<text x="383.6" y="462.8" font-size="14" font-weight="normal" fill="#000" text-anchor="start">(I)</text>
</svg>
</body></html>
